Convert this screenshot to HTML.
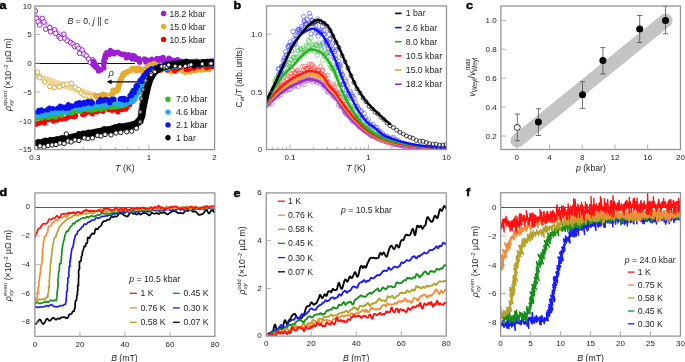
<!DOCTYPE html>
<html><head><meta charset="utf-8"><style>
html,body{margin:0;padding:0;background:#fff;width:685px;height:362px;overflow:hidden}
svg{display:block;will-change:transform}
text{font-family:"Liberation Sans",sans-serif}
</style></head><body>
<svg width="685" height="362" viewBox="0 0 685 362">
<defs></defs>
<rect width="685" height="362" fill="#fff"/>
<text transform="translate(-0.6,8.9) scale(1.1,1)" font-size="11.4" font-weight="bold" fill="#000" stroke="#000" stroke-width="0.45">a</text>
<text transform="translate(233.5,9.4) scale(1.1,1)" font-size="11.4" font-weight="bold" fill="#000" stroke="#000" stroke-width="0.45">b</text>
<text transform="translate(466,8.8) scale(1.1,1)" font-size="11.4" font-weight="bold" fill="#000" stroke="#000" stroke-width="0.45">c</text>
<text transform="translate(-0.4,196.2) scale(1.1,1)" font-size="11.4" font-weight="bold" fill="#000" stroke="#000" stroke-width="0.45">d</text>
<text transform="translate(233.5,196.5) scale(1.1,1)" font-size="11.4" font-weight="bold" fill="#000" stroke="#000" stroke-width="0.45">e</text>
<text transform="translate(466,196) scale(1.1,1)" font-size="11.4" font-weight="bold" fill="#000" stroke="#000" stroke-width="0.45">f</text>
<g>
<clipPath id="ca"><rect x="34.9" y="5.95" width="179.7" height="143.55"/></clipPath>
<line x1="34.9" y1="63.5" x2="135" y2="63.5" stroke="#111" stroke-width="1"/>
<g clip-path="url(#ca)">
<polyline points="34.5,14 35,14.4 35.5,14.9 36,15.3 36.5,15.8 37,16.2 37.5,16.7 38,17.1 38.5,17.5 39,18 39.5,18.4 40,18.8 40.5,19.3 41,19.7 41.5,20.1 42,20.5 42.5,21 43,21.4 43.5,21.8 44,22.2 44.5,22.6 45,23 45.5,23.4 46,23.9 46.5,24.3 47,24.7 47.5,25.1 48,25.4 48.5,25.8 49,26.2 49.5,26.6 50,27 50.5,27.4 51,27.8 51.5,28.1 52,28.5 52.5,28.9 53,29.2 53.5,29.6 54,29.9 54.5,30.3 55,30.6 55.5,30.9 56,31.3 56.5,31.6 57,32 57.5,32.3 58,32.6 58.5,32.9 59,33.3 59.5,33.6 60,33.9 60.5,34.3 61,34.6 61.5,34.9 62,35.3 62.5,35.6 63,35.9 63.5,36.3 64,36.6 64.5,37 65,37.3 65.5,37.7 66,38 66.5,38.4 67,38.7 67.5,39.1 68,39.5 68.5,39.8 69,40.2 69.5,40.6 70,41 70.5,41.4 71,41.8 71.5,42.2 72,42.6 72.5,43 73,43.4 73.5,43.8 74,44.3 74.5,44.7 75,45.1 75.5,45.5 76,45.9 76.5,46.4 77,46.8 77.5,47.2 78,47.7 78.5,48.1 79,48.6 79.5,49 80,49.5 80.5,49.9 81,50.4 81.5,50.8 82,51.3 82.5,51.7 83,52.2 83.5,52.7 84,53.1 84.5,53.6 85,54.1 85.5,54.6 86,55 86.5,55.5 87,56 87.5,56.5 88,57 88.5,57.5 89,58 89.5,58.5 90,59 90.5,59.5 91,60 91.5,60.5 92,61 92.5,61.5 93,62" fill="none" stroke="#c98fe6" stroke-width="4.5" stroke-linejoin="round" stroke-linecap="round" opacity="0.6" />
<polyline points="35,75 35.5,75.2 36,75.4 36.5,75.6 37,75.7 37.5,75.9 38,76.1 38.5,76.3 39,76.5 39.5,76.7 40,76.8 40.5,77 41,77.2 41.5,77.4 42,77.6 42.5,77.8 43,77.9 43.5,78.1 44,78.3 44.5,78.5 45,78.7 45.5,78.9 46,79 46.5,79.2 47,79.4 47.5,79.6 48,79.8 48.5,79.9 49,80.1 49.5,80.3 50,80.5 50.5,80.7 51,80.8 51.5,81 52,81.2 52.5,81.4 53,81.5 53.5,81.7 54,81.9 54.5,82.1 55,82.3 55.5,82.4 56,82.6 56.5,82.8 57,83 57.5,83.1 58,83.3 58.5,83.5 59,83.7 59.5,83.8 60,84 60.5,84.2 61,84.3 61.5,84.5 62,84.7 62.5,84.9 63,85 63.5,85.2 64,85.4 64.5,85.6 65,85.7 65.5,85.9 66,86.1 66.5,86.2 67,86.4 67.5,86.6 68,86.7 68.5,86.9 69,87.1 69.5,87.3 70,87.4 70.5,87.6 71,87.8 71.5,87.9 72,88.1 72.5,88.3 73,88.4 73.5,88.6 74,88.8 74.5,88.9 75,89.1 75.5,89.3 76,89.4 76.5,89.6 77,89.8 77.5,89.9 78,90.1 78.5,90.3 79,90.4 79.5,90.6 80,90.8 80.5,90.9 81,91.1 81.5,91.3 82,91.4 82.5,91.6 83,91.7 83.5,91.9 84,92.1 84.5,92.2 85,92.4 85.5,92.6 86,92.7 86.5,92.9 87,93 87.5,93.2 88,93.4 88.5,93.5 89,93.7 89.5,93.8 90,94" fill="none" stroke="#f2d190" stroke-width="6" stroke-linejoin="round" stroke-linecap="round" opacity="0.9" />
<polyline points="34.5,146 35,145.9 35.5,145.8 36,145.7 36.5,145.6 37,145.5 37.5,145.5 38,145.4 38.5,145.3 39,145.2 39.5,145.1 40,145 40.5,144.9 41,144.8 41.5,144.7 42,144.6 42.5,144.5 43,144.5 43.5,144.4 44,144.3 44.5,144.2 45,144.1 45.5,144 46,143.9 46.5,143.8 47,143.7 47.5,143.6 48,143.5 48.5,143.5 49,143.4 49.5,143.3 50,143.2 50.5,143.1 51,143 51.5,142.9 52,142.8 52.5,142.7 53,142.6 53.5,142.5 54,142.4 54.5,142.4 55,142.3 55.5,142.2 56,142.1 56.5,142 57,141.9 57.5,141.8 58,141.7 58.5,141.6 59,141.5 59.5,141.4 60,141.3 60.5,141.3 61,141.2 61.5,141.1 62,141 62.5,140.9 63,140.8 63.5,140.7 64,140.6 64.5,140.5 65,140.4 65.5,140.3 66,140.2 66.5,140.1 67,140.1 67.5,140 68,139.9 68.5,139.8 69,139.7 69.5,139.6 70,139.5 70.5,139.4 71,139.3 71.5,139.2 72,139.1 72.5,139 73,138.9 73.5,138.9 74,138.8 74.5,138.7 75,138.6 75.5,138.5 76,138.4 76.5,138.3 77,138.2 77.5,138.1 78,138 78.5,137.9 79,137.8 79.5,137.7 80,137.7 80.5,137.6 81,137.5 81.5,137.4 82,137.3 82.5,137.2 83,137.1 83.5,137 84,136.9 84.5,136.8 85,136.7 85.5,136.6 86,136.6 86.5,136.5 87,136.4 87.5,136.3 88,136.2 88.5,136.1 89,136 89.5,135.9 90,135.8 90.5,135.7 91,135.6 91.5,135.5 92,135.4 92.5,135.4 93,135.3 93.5,135.2 94,135.1 94.5,135 95,134.9 95.5,134.8 96,134.7 96.5,134.6 97,134.5 97.5,134.4 98,134.3 98.5,134.2 99,134.1 99.5,134 100,133.9 100.5,133.8 101,133.7 101.5,133.7 102,133.6 102.5,133.5 103,133.4 103.5,133.3 104,133.2 104.5,133.1 105,133 105.5,132.9 106,132.8 106.5,132.7 107,132.6 107.5,132.5 108,132.4 108.5,132.3 109,132.2 109.5,132.1 110,132 110.5,131.9 111,131.8 111.5,131.7 112,131.6 112.5,131.5 113,131.4 113.5,131.3 114,131.2 114.5,131.1 115,131 115.5,130.9 116,130.8 116.5,130.7 117,130.6 117.5,130.5 118,130.4 118.5,130.3 119,130.2 119.5,130.1 120,130 120.5,129.9 121,129.8 121.5,129.7 122,129.6 122.5,129.4 123,129.3 123.5,129.2 124,129.1 124.5,129 125,128.9 125.5,128.8 126,128.7 126.5,128.6 127,128.5 127.5,128.4 128,128.3 128.5,128.2 129,128.1 129.5,128 130,127.9 130.5,127.8 131,127.6 131.5,127.5 132,127.4 132.5,127.3 133,127.2 133.5,127.1 134,127" fill="none" stroke="#555" stroke-width="5" stroke-linejoin="round" stroke-linecap="round" opacity="0.9" />
<polyline points="137,126 139,116 140.5,105 142,96 144,88" fill="none" stroke="#777" stroke-width="3" stroke-linejoin="round" stroke-linecap="round" opacity="0.9" />
<circle cx="35.3" cy="11" r="2.3" fill="#fff" stroke="#9b1fd0" stroke-width="1.0"/>
<circle cx="36.5" cy="18.4" r="2.3" fill="#fff" stroke="#9b1fd0" stroke-width="1.0"/>
<circle cx="38.1" cy="21.8" r="2.3" fill="#fff" stroke="#9b1fd0" stroke-width="1.0"/>
<circle cx="42.3" cy="18.4" r="2.3" fill="#fff" stroke="#9b1fd0" stroke-width="1.0"/>
<circle cx="44" cy="22" r="2.3" fill="#fff" stroke="#9b1fd0" stroke-width="1.0"/>
<circle cx="39.8" cy="25" r="2.3" fill="#fff" stroke="#9b1fd0" stroke-width="1.0"/>
<circle cx="45.6" cy="29.2" r="2.3" fill="#fff" stroke="#9b1fd0" stroke-width="1.0"/>
<circle cx="49.8" cy="27.6" r="2.3" fill="#fff" stroke="#9b1fd0" stroke-width="1.0"/>
<circle cx="50.6" cy="31.7" r="2.3" fill="#fff" stroke="#9b1fd0" stroke-width="1.0"/>
<circle cx="54.7" cy="30" r="2.3" fill="#fff" stroke="#9b1fd0" stroke-width="1.0"/>
<circle cx="55.6" cy="33.4" r="2.3" fill="#fff" stroke="#9b1fd0" stroke-width="1.0"/>
<circle cx="58.9" cy="36.7" r="2.3" fill="#fff" stroke="#9b1fd0" stroke-width="1.0"/>
<circle cx="60.5" cy="38.3" r="2.3" fill="#fff" stroke="#9b1fd0" stroke-width="1.0"/>
<circle cx="63.9" cy="34.2" r="2.3" fill="#fff" stroke="#9b1fd0" stroke-width="1.0"/>
<circle cx="64.7" cy="38.3" r="2.3" fill="#fff" stroke="#9b1fd0" stroke-width="1.0"/>
<circle cx="67.2" cy="40.8" r="2.3" fill="#fff" stroke="#9b1fd0" stroke-width="1.0"/>
<circle cx="70.5" cy="42.5" r="2.3" fill="#fff" stroke="#9b1fd0" stroke-width="1.0"/>
<circle cx="73" cy="44.1" r="2.3" fill="#fff" stroke="#9b1fd0" stroke-width="1.0"/>
<circle cx="74.6" cy="46.6" r="2.3" fill="#fff" stroke="#9b1fd0" stroke-width="1.0"/>
<circle cx="77.1" cy="45.8" r="2.3" fill="#fff" stroke="#9b1fd0" stroke-width="1.0"/>
<circle cx="78.8" cy="48.3" r="2.3" fill="#fff" stroke="#9b1fd0" stroke-width="1.0"/>
<circle cx="82.1" cy="50" r="2.3" fill="#fff" stroke="#9b1fd0" stroke-width="1.0"/>
<circle cx="79.6" cy="53.3" r="2.3" fill="#fff" stroke="#9b1fd0" stroke-width="1.0"/>
<circle cx="83.8" cy="54.1" r="2.3" fill="#fff" stroke="#9b1fd0" stroke-width="1.0"/>
<circle cx="86.2" cy="55.8" r="2.3" fill="#fff" stroke="#9b1fd0" stroke-width="1.0"/>
<circle cx="88.7" cy="59.1" r="2.3" fill="#fff" stroke="#9b1fd0" stroke-width="1.0"/>
<circle cx="92.9" cy="59.9" r="2.3" fill="#fff" stroke="#9b1fd0" stroke-width="1.0"/>
<circle cx="90.4" cy="62.4" r="2.3" fill="#fff" stroke="#9b1fd0" stroke-width="1.0"/>
<circle cx="37.6" cy="72.2" r="2.3" fill="#fff" stroke="#e5aa30" stroke-width="1.0"/>
<circle cx="39.5" cy="77.6" r="2.3" fill="#fff" stroke="#e5aa30" stroke-width="1.0"/>
<circle cx="44.7" cy="82" r="2.3" fill="#fff" stroke="#e5aa30" stroke-width="1.0"/>
<circle cx="49.8" cy="86.4" r="2.3" fill="#fff" stroke="#e5aa30" stroke-width="1.0"/>
<circle cx="54.3" cy="87.6" r="2.3" fill="#fff" stroke="#e5aa30" stroke-width="1.0"/>
<circle cx="59.5" cy="86.8" r="2.3" fill="#fff" stroke="#e5aa30" stroke-width="1.0"/>
<circle cx="63.3" cy="85" r="2.3" fill="#fff" stroke="#e5aa30" stroke-width="1.0"/>
<circle cx="67.1" cy="84" r="2.3" fill="#fff" stroke="#e5aa30" stroke-width="1.0"/>
<circle cx="71.5" cy="83.3" r="2.3" fill="#fff" stroke="#e5aa30" stroke-width="1.0"/>
<circle cx="75.5" cy="87.5" r="2.3" fill="#fff" stroke="#e5aa30" stroke-width="1.0"/>
<circle cx="78.4" cy="89.3" r="2.3" fill="#fff" stroke="#e5aa30" stroke-width="1.0"/>
<circle cx="81" cy="93" r="2.3" fill="#fff" stroke="#e5aa30" stroke-width="1.0"/>
<circle cx="84" cy="95.2" r="2.3" fill="#fff" stroke="#e5aa30" stroke-width="1.0"/>
<circle cx="87" cy="96" r="2.3" fill="#fff" stroke="#e5aa30" stroke-width="1.0"/>
<circle cx="90" cy="96.3" r="2.3" fill="#fff" stroke="#e5aa30" stroke-width="1.0"/>
<circle cx="93" cy="96" r="2.3" fill="#fff" stroke="#e5aa30" stroke-width="1.0"/>
<path d="M94.1 62.1h0M93.1 61.3h0M93.2 62.6h0M92.9 64.5h0M93.4 63.3h0M95.7 64.8h0M94.7 65.5h0M94.8 66.5h0M95.9 64.7h0M97.1 67h0M96.7 67.9h0M98.4 70.9h0M101 69h0M100.9 70.1h0M104 68h0M103.7 64.6h0M103.9 63.5h0M103.6 63.3h0M104.4 62.4h0M103.9 61.1h0M104.1 62.8h0M103.6 64.2h0M103.7 60.7h0M105.7 58.1h0M104.6 57h0M105.6 57h0M105.4 55.1h0M105.3 54.5h0M105.4 57h0M106.7 52.5h0M106.1 54.8h0M107 54.3h0M107.3 52.8h0M109.8 52.8h0M109.5 54.5h0M110.4 51.8h0M110.3 51.3h0M110.4 50.4h0M113.6 52.1h0M114.1 54h0M114.4 53.6h0M117.7 52.2h0M117.9 52.3h0M118.3 52.8h0M121 54.2h0M120.3 53.7h0M123.8 54.5h0M122.7 54.7h0M124.2 54.1h0M125.3 54.8h0M126.3 55.4h0M127.1 55.1h0M127.7 56.2h0M126.4 58h0M126.6 56.7h0M128.5 56.3h0M128.5 54.6h0M131.1 57.8h0M132.7 55.3h0M131.3 55.9h0M132 58.9h0M134.5 59h0M134.6 58h0M134.7 56.2h0M136.3 58.1h0M136.3 57.9h0M136 59.5h0M139.6 62.2h0M139.4 59.8h0M139 58.6h0M144.3 58.9h0M145 60.5h0M145.7 60.4h0M145.2 59.3h0M145.8 60.8h0M145.7 59.3h0M145.9 62.1h0M146.7 62h0M146.6 62.1h0M147.3 60.2h0M147.5 61.5h0M148.9 60.7h0M149.3 60.5h0M151.6 60.6h0M151.6 59.4h0M151.8 59.2h0M153.2 61.7h0M153.8 60.5h0M155.1 60.9h0M155.6 61.7h0M157 58.3h0M156.8 59.4h0M158.8 60.4h0M159 60.6h0M158.8 59.5h0M161 61.1h0M160.7 60.1h0M160.4 58.4h0M162.1 58.7h0M163.3 60.8h0M163.7 60.3h0M163.2 57.4h0M163.6 61.3h0M167.1 60.2h0M167.1 61.1h0M168.4 59h0M169 59.2h0M169 58.2h0M170.5 62.8h0M171.5 59.8h0M174.7 62.8h0M175.1 60.4h0M178.2 61.9h0M177.6 59.7h0M179.9 61.6h0M178.7 63.3h0M181 61h0M182.5 64.1h0M184.1 63.4h0M186 61.7h0M186.4 62.4h0M186.5 62.4h0M187.9 62.9h0M188.3 62.4h0M186.7 62h0M189.1 62.6h0M190.1 61.8h0M192.3 61.5h0M191.9 62.9h0M195.8 64.1h0M196.1 61.2h0M197 63h0M196.5 62.2h0M196.6 61.8h0M197.8 64h0M196.9 62.4h0M197.5 64.8h0M198.4 62.1h0M200.5 63.5h0M201.1 62.7h0M201.8 62.1h0M202.8 63.7h0M203.2 62.8h0M204 63.7h0M204.5 62.9h0M206.2 61.7h0M206.8 62.9h0M208 63.1h0M207.6 64.2h0M209.4 61.9h0M209.1 63h0M210.6 60.9h0M212.2 63.8h0M212.8 61.7h0M213.4 60.8h0" stroke="#9b1fd0" stroke-width="5.2" stroke-linecap="round" fill="none"/>
<path d="M95.1 95h0M96 95.5h0M97.4 97.8h0M98.9 95.6h0M99.5 95.4h0M99.3 96h0M101.6 95.9h0M102.9 94.1h0M102.1 94.8h0M104 95.7h0M105 95h0M105.6 94.8h0M110.8 94.6h0M112.8 91.7h0M112.9 92.2h0M113 91.6h0M113.4 93.3h0M113.2 90h0M113.6 91.2h0M116.2 90.2h0M116.9 91.1h0M116.2 90.9h0M117 90.7h0M117.9 87h0M118.4 89h0M117.8 88h0M118.5 87.7h0M118.1 87.4h0M118.5 85.8h0M118.7 84.3h0M119.2 85.6h0M119.8 83.2h0M120 80h0M120.3 80.8h0M121.3 79.5h0M120.9 80.5h0M120.6 78.8h0M122.1 76.5h0M122 76.8h0M122.5 75.6h0M122.4 74.8h0M123.5 75.6h0M123.2 74.2h0M123.8 73h0M123.9 74.3h0M124.1 73.4h0M125.3 73.1h0M125.1 72.7h0M125.9 73.1h0M126.2 72.2h0M127.3 72.3h0M127.9 71.5h0M128.6 71.1h0M130.3 70.7h0M132.1 68.3h0M132.4 69.5h0M133.5 69.3h0M134.1 69.7h0M135.7 68.2h0M136.6 71h0M137.1 69.6h0M139.2 68.6h0M138.8 68.2h0M138.5 69.5h0M139 69.6h0M139.4 69.1h0M139.9 69.9h0M140.4 69.3h0M141 70.4h0M142.5 69.3h0M142.2 69.9h0M142.4 70.8h0M144 72.3h0M144.2 69.1h0M145.7 68.8h0M146.1 68.4h0M145.8 69.7h0M147.2 67h0M147 67.5h0M148.5 67.5h0M148 66.6h0M149.4 64.8h0M151 64.6h0M153.9 63.4h0M155.9 64.3h0M156.4 65.6h0M157.9 66.5h0M158.4 66.3h0M160 65h0M161.4 66.9h0M161.9 68.4h0M162.8 68.3h0M164.1 68h0M163.5 67.4h0M164.8 69.1h0M166.3 68.1h0M166.3 67.7h0M166.9 68.1h0M168.1 70.4h0M170.1 69.5h0M170.2 70.4h0M169.8 68.9h0M170.2 70.3h0M170.2 69.1h0M171.5 69.5h0M171.4 71.9h0M172 70.4h0M172.5 69.3h0M173.2 69.8h0M174.2 70.3h0M175.6 71.1h0M177 69.7h0M178.4 68.6h0M180.6 70h0M181.4 70.3h0M182.2 70.5h0M183.8 71.6h0M183.4 70.7h0M184.1 71.1h0M184.7 69.4h0M183.9 71.2h0M185 72.3h0M186.2 71.2h0M187 70.7h0M189.6 70.6h0M190 72.1h0M190.4 69.6h0M191.5 70.4h0M191.1 70.9h0M194.6 70.9h0M194.7 69.8h0M195.6 70.4h0M196.5 69.8h0M198.7 69.8h0M198.9 69.5h0M198.8 68.5h0M200.1 69.5h0M201.6 70.2h0M203.9 68.1h0M204.6 68.6h0M204.5 69.4h0M204.4 67.7h0M207.9 68.2h0M207.9 67h0M208 68.9h0M209 69.7h0M209.2 69.4h0M212.5 66.2h0M213.8 66.7h0" stroke="#e5aa30" stroke-width="5.2" stroke-linecap="round" fill="none"/>
<line x1="110" y1="81.8" x2="141.5" y2="81.8" stroke="#000" stroke-width="1.3"/>
<path d="M106.6,81.8 L111.6,79.4 L111.6,84.2 Z" fill="#000"/>
<path d="M35.9 124.5h0M37.5 123.4h0M36.9 123.2h0M37.1 122.6h0M38.5 123.6h0M40.6 122.5h0M43.3 122.6h0M44.6 123.2h0M44.4 121.6h0M45.3 120.2h0M44.6 120.8h0M48.4 119.7h0M51.1 119.2h0M53.2 121.2h0M54.2 120.1h0M54.1 118.5h0M55.2 120h0M57.2 120.3h0M59.5 118.4h0M58.8 118.1h0M59.1 118.3h0M60.7 118.6h0M60.5 118.8h0M62.1 119.3h0M61.2 119.1h0M63.7 118.7h0M65.9 118.4h0M68.2 117.3h0M68.9 115.2h0M69.4 116.4h0M71.3 116.3h0M73 115.5h0M72.6 116.4h0M73.7 115.2h0M73.8 114.6h0M74.8 116.7h0M75.7 115.8h0M75.8 115.2h0M82.4 114.6h0M84.3 114.5h0M84.9 113.7h0M84.8 111.1h0M87 112.5h0M90.4 112.2h0M89.6 111.6h0M90.9 112.6h0M92.3 113.4h0M91.6 111.9h0M91.5 111.3h0M92.4 114h0M93.2 111.6h0M95 110.7h0M96.4 111.8h0M97.3 111.9h0M99.9 110.5h0M103.1 111.5h0M108.4 109.7h0M109.4 109.2h0M110.8 110h0M111.9 110.5h0M113.5 109.2h0M114.8 109.9h0M116.4 109.4h0M117.8 112h0M117.9 108.8h0M118.7 110.6h0M118.8 109.3h0M119.3 109.2h0M119.7 109.8h0M122.3 109.8h0M125.7 109.2h0M125.6 108.2h0M125.8 107.3h0M126.2 106.9h0M126.9 107.5h0M126.6 107.4h0M129.9 104.7h0M130 102.2h0M129.4 102.6h0M130.1 103h0M129.6 101.7h0M130.6 100h0M131.1 100.3h0M131.4 99.1h0M130.6 101.7h0M131.3 98.6h0M132.7 100h0M132.2 99.1h0M134 97.1h0M134.6 96.3h0M135.4 95h0M134.9 94.9h0M136.7 91.9h0M137 91.7h0M138.6 89.1h0M138.4 89h0M138.7 89.8h0M140.3 85.4h0M141.1 85.5h0M143.8 81.4h0M144 82.2h0M145.1 82.7h0M144.4 81h0M146 80.1h0M148.1 75.3h0M148.9 77.2h0M149.7 75.1h0M149.7 75.5h0M150.1 74.6h0M153.8 69h0M156.5 69.2h0M158.3 69.6h0M158.1 70.8h0M157.8 69.6h0M158.1 69.6h0M160.3 67.7h0M160.8 70.3h0M167.3 70.2h0M170 68.6h0M173.7 68.3h0M174.4 67h0M175.9 69.3h0M174.6 70.9h0M175.6 69.1h0M176.6 69.6h0M177.6 69h0M180.7 67.6h0M186.2 69.7h0M187 67.4h0M188 68.3h0M187.2 68.8h0M188.8 69.3h0M189.3 68.9h0M189.6 68.8h0M192.2 67.7h0M193.4 67.1h0M194 68.2h0M194.9 67.3h0M196 66.7h0M199.2 66.1h0M199.8 66.7h0M202.6 65h0M203.8 65.2h0M204.3 64.9h0M206.2 66.3h0M205.5 66.5h0M206.6 67.9h0M207.8 64.5h0M208.9 65.1h0M209.4 66.4h0M211.7 65.1h0M212.2 65h0M212.8 66.8h0" stroke="#ff0000" stroke-width="5.0" stroke-linecap="round" fill="none"/>
<path d="M34.5 119.3h0M37.3 118.9h0M41.7 118.3h0M42.3 118.1h0M47.8 117.7h0M48.6 116.1h0M47.7 116.4h0M49.5 117.2h0M49.8 116.9h0M50.9 116.3h0M51.8 115.9h0M52.5 115.6h0M54.4 116h0M54.7 117.1h0M54.1 115h0M55.9 117.3h0M55.7 116.6h0M61.6 114.3h0M61.4 115.4h0M63 113.1h0M65.1 112.5h0M65.8 112.8h0M69 112.8h0M71.3 112.6h0M72.5 112.4h0M70.4 112.9h0M71.8 110.9h0M71.6 113.2h0M71.6 111.5h0M73.1 112h0M72 112.2h0M73 111.5h0M77.6 110.5h0M79 110.4h0M79.9 111.2h0M80.2 111.7h0M80 111.6h0M81.4 110.2h0M82.5 109.9h0M85 109.5h0M87.9 110.1h0M89.8 107.7h0M91.7 110.4h0M91.4 108.7h0M92.6 108.4h0M93.6 109.2h0M94.3 109.8h0M95.5 109.2h0M95.6 109.6h0M97.8 108.5h0M100.6 109.3h0M100.5 109.3h0M101.2 108.1h0M101.2 109.4h0M102.2 108.1h0M102.7 108h0M104.1 107h0M104.3 107.5h0M106 108.2h0M106.6 106.3h0M110.9 107.5h0M111 107.2h0M113.9 106.9h0M113.3 104.6h0M113.6 106.5h0M116.7 106.9h0M117.3 105.6h0M118.5 106.2h0M120.7 103.6h0M120.5 106.3h0M121.3 105.1h0M122.1 106.1h0M123.3 103.4h0M125 105.3h0M124.7 104.3h0M125.3 105.1h0M126 103.2h0M127.4 101.6h0M128.3 102.7h0M129.5 99.4h0M129.2 98.9h0M129.6 97.4h0M130.3 96.3h0M130.2 98.1h0M130.3 97.1h0M132.4 91.8h0M132.4 90.8h0M131.6 93.3h0M134.6 90.6h0M139.5 83.8h0M143.1 79.5h0M143.7 76.4h0M144.9 76.4h0M146.1 74h0M146.3 73.9h0M145.8 76h0M147.3 73.8h0M147.5 75.5h0M148.2 73.3h0M150.7 71.3h0M149.9 72.6h0M150.5 73.2h0M151.3 72h0M151.3 70.1h0M151.6 71.4h0M152.1 72.1h0M153.3 70h0M153.5 69h0M154.4 70.5h0M157.4 68.6h0M157.8 67.4h0M158.6 67.9h0M159.4 67.4h0M160.5 68.2h0M163.2 67.5h0M163.7 68.4h0M164.2 68h0M165.4 65.6h0M166.2 67.3h0M169.6 67.4h0M170.8 66.7h0M173.3 66.8h0M174 65.3h0M173.6 65h0M174.2 66.6h0M175 64.8h0M174.7 63.7h0M177.8 66.2h0M179.5 64.5h0M180.1 64.7h0M182.4 63.5h0M184.1 63.4h0M184.3 63.5h0M184.7 64.2h0M185.9 64.8h0M186.9 62.2h0M187.1 65h0M198.6 62.4h0M198.9 62.5h0M202.4 63.9h0M202.9 63.2h0M204.1 61.8h0M204.3 64.8h0M206.7 62.3h0M207.3 63.3h0M207.5 63.3h0M210.2 64.3h0M211.6 62.6h0M212 63.9h0M212 62.3h0M211.2 64h0M213.1 62.3h0" stroke="#33b82a" stroke-width="5.0" stroke-linecap="round" fill="none"/>
<path d="M35.3 115.6h0M38.8 115.6h0M39.8 116h0M41 115.8h0M41.3 115.3h0M43.9 115.5h0M46.7 113.5h0M46.6 114.2h0M51.4 111.7h0M51.2 113.8h0M55 112.5h0M56.4 111.9h0M57.9 112.9h0M58.9 112.3h0M59.6 109.1h0M63.1 111h0M62.7 109.6h0M66 111.3h0M66.5 112.4h0M69.6 109.3h0M69.3 109.8h0M76.8 107.9h0M79.4 108.1h0M79.9 108.3h0M81.1 108.7h0M82.9 106.4h0M82.9 108.7h0M82.9 106.3h0M84.5 107.1h0M84.5 107.8h0M86.7 107.2h0M87.1 105.6h0M88.3 105.8h0M89.9 105.6h0M89 106h0M90.9 106.9h0M92.2 104.5h0M92.1 106h0M93.2 106h0M93.9 105.9h0M95.5 105.6h0M99 105.9h0M98.7 105h0M99.9 105.2h0M103.5 104.4h0M104.5 105.4h0M105.5 101.9h0M108.4 104.7h0M109.6 103.3h0M108.8 103.2h0M109.8 102.6h0M110.6 101.8h0M114.5 103.2h0M117.2 102.9h0M117.4 103.9h0M119.7 102.2h0M121.9 104.8h0M121.7 103.7h0M124.4 103.3h0M125.5 102.8h0M126.7 102.7h0M127.2 102.3h0M126.7 102.8h0M128.8 102.8h0M129.6 101.8h0M131 99.9h0M131.3 100.8h0M131.7 100h0M131.4 100.6h0M133.2 101.6h0M135.3 98.9h0M135.2 96.9h0M135.2 95.6h0M136.4 95.1h0M136 94.8h0M135.7 96.2h0M137.2 94.6h0M138.3 92.5h0M138.1 91.8h0M139.5 92h0M139.6 91.2h0M139.5 88.7h0M140.1 88.5h0M140.7 86.2h0M141.8 85.8h0M142.6 83.7h0M142.5 83h0M142.9 82.1h0M146.3 77.9h0M146.3 79h0M146.4 80.7h0M146.7 76.7h0M146.9 78.2h0M148.4 75.9h0M148 74.2h0M153.8 70.7h0M153.7 70h0M154.4 69.4h0M155.1 71.2h0M157.4 66.9h0M162.4 67.9h0M163.7 67.8h0M163 66.9h0M163.8 67.4h0M164.5 68h0M164.7 67.2h0M164.8 67.4h0M165.5 67.7h0M165.9 65h0M167.5 68h0M167.7 68.7h0M168.2 67.4h0M168.9 67.3h0M169.2 65.1h0M171.8 66.1h0M171 65.4h0M172.7 65.5h0M174.5 66.6h0M174.4 64.9h0M177 65.2h0M179 63.4h0M179.7 65h0M178.6 65.2h0M179.2 64.4h0M180.3 64.4h0M180 66.7h0M181.5 63.8h0M184.4 63.5h0M185 63.7h0M187.7 65.2h0M189.8 66h0M189.8 64.3h0M189.3 63.3h0M191.3 63.5h0M193.5 64.7h0M194.5 62.9h0M193.6 65h0M193.7 65h0M195.5 63.7h0M196.9 64.1h0M196.6 64.2h0M197.8 64.9h0M197.6 62.5h0M197.4 64.5h0M198.9 63.1h0M203 62.5h0M202.8 63.3h0M207 62.9h0M206.8 62.2h0M209.6 61.6h0M210.4 62.2h0M212.3 64.3h0" stroke="#1ea8f5" stroke-width="5.0" stroke-linecap="round" fill="none"/>
<path d="M37.4 111.9h0M38.3 111.5h0M38.8 112.1h0M38.9 110.2h0M40.1 111.3h0M40.8 110.8h0M41.5 109.8h0M42.9 110.7h0M46.9 109.9h0M47.3 109.4h0M48 110h0M49.3 108.1h0M52.9 108.6h0M57.4 108.3h0M58.6 107.8h0M60.7 108.3h0M60.7 106.3h0M60.3 106h0M63.9 107h0M64.4 107.2h0M65.3 108.4h0M66.2 107h0M68 105.3h0M67.2 106.7h0M68.4 105.2h0M68.3 104.6h0M68.7 108.2h0M69.9 106h0M71.6 105.8h0M71.6 105.7h0M72.7 106.6h0M75.8 104.6h0M76.9 105.3h0M76.7 103.2h0M79.4 102.4h0M80.3 104.9h0M80.6 104.8h0M82.9 103.6h0M82.1 103.3h0M83.7 103h0M84.2 102.2h0M84.9 104.1h0M84.8 103.3h0M86.1 103.1h0M85.8 102.9h0M85.9 103.5h0M86.2 103h0M86.5 103.2h0M87.8 101.2h0M90 102.5h0M91.5 103.8h0M91.4 101.4h0M91.3 101.7h0M92.5 102.5h0M98.1 101.9h0M99.9 101.4h0M100.6 99.3h0M103.1 101h0M105.2 99.3h0M107.5 99.4h0M107.7 100.6h0M107 99.8h0M110 100.8h0M109.7 102.9h0M109.3 100.7h0M110.9 100.6h0M112.2 99.1h0M114.3 99.3h0M113.9 98.9h0M113.7 99.4h0M120.2 98.8h0M120 99.1h0M121.8 99.5h0M120.6 98.8h0M122.6 98.3h0M124.3 98.3h0M124.5 99.9h0M125.4 99.5h0M124.6 100.3h0M127.1 99.7h0M130.3 95.9h0M129.9 95.5h0M132 92.7h0M131.5 95.7h0M134.4 92.8h0M133.9 91h0M133.8 89.9h0M136.1 88.5h0M135.9 86.4h0M136.7 85.3h0M137.6 86.1h0M137.3 85.2h0M139.8 80.6h0M141.7 81.7h0M141.9 78.2h0M142.9 78h0M143.4 77.2h0M143.7 75.3h0M145.6 74.1h0M146.2 72.6h0M147.1 74.2h0M147.5 71.8h0M148.4 73.8h0M148.4 70.5h0M150.1 71.3h0M150.6 69.5h0M151.5 68.6h0M153 69.7h0M154.6 69.4h0M155.8 67.6h0M155.8 69.7h0M156.1 67.8h0M156.3 68.4h0M157.3 68.5h0M157 68.6h0M159.3 66h0M159.7 68.8h0M159.7 67.7h0M164.8 65.4h0M165.3 64.6h0M166.8 63.4h0M167.8 63.7h0M167.3 65.4h0M167.6 64.5h0M168.5 63.7h0M170 64h0M170.9 65.8h0M171.1 64.1h0M172.1 63.9h0M172.7 65.6h0M172.5 64.7h0M174 64.3h0M174.5 63.6h0M176.3 62.7h0M176.7 63h0M176.6 63.6h0M180.2 63.7h0M180.3 64.2h0M180.8 64.3h0M182 64h0M181.7 64h0M182.8 62.8h0M182.7 61.7h0M185.4 63.2h0M185.4 62.8h0M187.1 63h0M188.7 63.2h0M189.5 62.4h0M188.7 62.5h0M189.7 63.4h0M189.2 63.5h0M190.4 62.8h0M191.3 63.8h0M192.9 63.1h0M192.2 62.4h0M193.2 63.4h0M193.8 65h0M193.9 62.7h0M194.5 64.3h0M197.6 64.4h0M197.6 64.5h0M197.8 62.4h0M199.1 65h0M198 63.3h0M199.9 62.9h0M200.1 62.9h0M201.3 63.7h0M200.8 63.2h0M201.3 63h0M201.7 64.3h0M204.8 62.4h0M205.4 62.1h0M207.1 63.7h0M210.8 63.6h0M211 64h0M211.5 62h0M213.1 64h0" stroke="#0a10f0" stroke-width="5.0" stroke-linecap="round" fill="none"/>
<polyline points="34.5,144 35,143.9 35.5,143.8 36,143.7 36.5,143.6 37,143.5 37.5,143.5 38,143.4 38.5,143.3 39,143.2 39.5,143.1 40,143 40.5,142.9 41,142.8 41.5,142.7 42,142.6 42.5,142.6 43,142.5 43.5,142.4 44,142.3 44.5,142.2 45,142.1 45.5,142 46,141.9 46.5,141.8 47,141.7 47.5,141.7 48,141.6 48.5,141.5 49,141.4 49.5,141.3 50,141.2 50.5,141.1 51,141 51.5,140.9 52,140.8 52.5,140.8 53,140.7 53.5,140.6 54,140.5 54.5,140.4 55,140.3 55.5,140.2 56,140.1 56.5,140 57,140 57.5,139.9 58,139.8 58.5,139.7 59,139.6 59.5,139.5 60,139.4 60.5,139.3 61,139.3 61.5,139.2 62,139.1 62.5,139 63,138.9 63.5,138.8 64,138.7 64.5,138.6 65,138.5 65.5,138.4 66,138.4 66.5,138.3 67,138.2 67.5,138.1 68,138 68.5,137.9 69,137.8 69.5,137.7 70,137.6 70.5,137.5 71,137.4 71.5,137.3 72,137.2 72.5,137.1 73,137 73.5,136.9 74,136.8 74.5,136.7 75,136.6 75.5,136.5 76,136.4 76.5,136.3 77,136.2 77.5,136 78,135.9 78.5,135.8 79,135.7 79.5,135.6 80,135.5 80.5,135.4 81,135.3 81.5,135.2 82,135.1 82.5,134.9 83,134.8 83.5,134.7 84,134.6 84.5,134.5 85,134.4 85.5,134.3 86,134.2 86.5,134.1 87,134 87.5,133.8 88,133.7 88.5,133.6 89,133.5 89.5,133.4 90,133.3 90.5,133.2 91,133.1 91.5,133 92,132.9 92.5,132.8 93,132.7 93.5,132.6 94,132.5 94.5,132.4 95,132.3 95.5,132.2 96,132.1 96.5,132 97,131.9 97.5,131.8 98,131.8 98.5,131.7 99,131.6 99.5,131.5 100,131.4 100.5,131.3 101,131.2 101.5,131.1 102,131 102.5,131 103,130.9 103.5,130.8 104,130.7 104.5,130.6 105,130.5 105.5,130.4 106,130.3 106.5,130.2 107,130.2 107.5,130.1 108,130 108.5,129.9 109,129.8 109.5,129.7 110,129.6 110.5,129.5 111,129.4 111.5,129.3 112,129.2 112.5,129.1 113,129 113.5,128.9 114,128.8 114.5,128.7 115,128.6 115.5,128.5 116,128.4 116.5,128.3 117,128.2 117.5,128.1 118,128 118.5,127.9 119,127.8 119.5,127.7 120,127.6 120.5,127.5 121,127.4 121.5,127.3 122,127.2 122.5,127.1 123,127 123.5,126.9 124,126.9 124.5,126.8 125,126.7 125.5,126.6 126,126.5 126.5,126.4 127,126.3 127.5,126.2 128,126.1 128.5,126 129,125.8 129.5,125.7 130,125.6 130.5,125.5 131,125.3 131.5,125.2 132,125 132.5,124.9 133,124.7 133.5,124.5 134,124.4 134.5,124.2 135,124" fill="none" stroke="#000" stroke-width="7" stroke-linejoin="round" stroke-linecap="round" opacity="1.0" />
<polyline points="135,124.5 139,122 141.6,117 143.6,105 145.6,96 147.6,87 149.6,80 152.5,74.5 155.5,71 160,68 166.9,65.8 180,63.6 214,62.8" fill="none" stroke="#000" stroke-width="7" stroke-linejoin="round" stroke-linecap="round" opacity="1.0" />
<path d="M36 143h0M36.1 142.7h0M36 143.9h0M36.5 142.8h0M37.1 142.1h0M37.4 144.9h0M38.2 141.4h0M39 142.3h0M43.2 142.6h0M43.9 140.6h0M44 141.5h0M43.1 142h0M43.7 144h0M44.8 140.6h0M45.1 141.3h0M45.5 142h0M45.2 141.4h0M45.6 140.1h0M46.5 141.6h0M47.1 141.3h0M47.1 141.6h0M48.1 142.2h0M48.7 141.9h0M50.7 141.2h0M50.3 141h0M50.2 139.5h0M50.6 140.4h0M52.1 140.3h0M53.7 139.6h0M54.1 140.1h0M56.4 138.9h0M55.3 141.2h0M57 141.8h0M56.7 139.1h0M57.7 139.8h0M56.7 139.1h0M58.4 140.5h0M58.6 139.6h0M59.2 139.3h0M60.4 138.7h0M60.2 139h0M61.5 137.8h0M64.7 138.9h0M66 137.3h0M70.8 137.7h0M71 137.3h0M70.8 138.2h0M71.5 136.8h0M73.8 137.4h0M75.5 135.4h0M77.3 136.6h0M78 135.6h0M78.1 135.9h0M78.6 135.7h0M78.9 136.5h0M78.7 133.6h0M80.9 135.5h0M82.9 133.6h0M82 136.2h0M82.6 132.9h0M83.5 133.6h0M84.3 132.9h0M85.8 136h0M86.4 133h0M86.4 134.3h0M87 133.5h0M88.4 132h0M89.1 133.2h0M90.5 134.2h0M92.5 132.9h0M94.3 133.8h0M93.4 132.4h0M94.1 132.7h0M94.8 132.3h0M94.5 132.9h0M94.7 134.3h0M95.8 132.6h0M98.3 132.1h0M98.7 131.2h0M99.1 130.9h0M101.2 132.8h0M101.8 130.2h0M101.4 130.3h0M101.5 131.1h0M101.8 130.7h0M103.3 132.9h0M104.3 128.4h0M104.3 131h0M105.8 131.1h0M107.9 128.8h0M108.6 129h0M109.5 129.9h0M110.8 131.1h0M111.4 128.3h0M113.7 127.3h0M113.2 129.8h0M114.2 130.3h0M114.5 128.4h0M115.3 126.4h0M114.5 130h0M115.6 128.2h0M116.2 129.4h0M116.2 128.2h0M117.5 127.7h0M118.4 127.5h0M118 129.3h0M119.9 129.2h0M119.1 125.5h0M120.7 126.4h0M120.9 129.1h0M121.1 126.8h0M121.7 125.8h0M121.8 127.1h0M123 126.9h0M122.8 126.8h0M124.4 126.1h0M125 126h0M125.9 125.5h0M126.6 126.2h0M126.3 125.1h0M127.8 125.4h0M127.9 125.4h0M128.8 126.9h0M129.1 125.7h0M129.3 125.2h0M129.1 125.8h0M129.6 125.5h0M130.1 126.1h0M130.7 125.4h0M130.3 126.6h0M131.8 125.9h0M133.8 124.3h0M133.4 123.6h0M134.4 124.6h0M135 124h0M135.7 122.9h0M138.3 120.9h0M137.7 120.5h0M138.3 122.4h0M140 122.1h0M141.1 121.4h0M139.6 119.1h0M141 120.8h0M140.8 119.1h0M141 119.4h0M141.3 118.8h0M141.4 116.6h0M142.8 114.9h0M142.5 112.2h0M142.5 112.5h0M143 111.1h0M142.9 112.7h0M142.8 111.6h0M142.8 112.4h0M143.6 111.1h0M143 109.7h0M142.8 109.9h0M142.6 108.3h0M142.9 109.2h0M142.7 107.5h0M143.3 106.2h0M143.5 106.5h0M142.4 105.9h0M143.5 105.5h0M143.8 106.6h0M144 105.1h0M144 100.5h0M145.2 100.3h0M144.2 98.1h0M144.2 99.2h0M144.5 98h0M145.1 96h0M145.6 98.3h0M145.8 98.3h0M145.5 96h0M145.1 95.2h0M145.4 94.5h0M145.5 95.4h0M145.8 93h0M145.6 91.7h0M146.8 92.8h0M147.1 90.5h0M146.7 90.9h0M147.1 89.9h0M146.5 88.5h0M146.4 88.8h0M147.6 86.2h0M148.6 84.4h0M149.3 82.7h0M148.8 83h0M149.7 82.4h0M149.1 79.3h0M150.1 79.8h0M149.7 78.7h0M149.4 81.1h0M150.1 80.3h0M149.9 79.1h0M150.2 76.7h0M150 76.3h0M151.2 76.9h0M151.1 76.8h0M151.8 74.7h0M152 75.1h0M153 75.4h0M152.7 74.2h0M152.8 72.5h0M154.1 71.1h0M154.7 72.3h0M154.2 72.7h0M153.9 71.4h0M154.7 71.1h0M155.5 70.6h0M156.2 71.1h0M157.9 69.7h0M156.6 69.7h0M160 67.2h0M160.6 67h0M163.4 67.1h0M163 65.9h0M164 65.4h0M165.5 65.7h0M165.3 67.2h0M166 66.1h0M167.2 67.1h0M168.8 65.1h0M171 64.6h0M173.1 63.1h0M173.1 63.8h0M172.5 65.8h0M173.1 64.7h0M173.3 65h0M176.1 64.6h0M175.5 63.9h0M176.1 63.6h0M175.9 63.9h0M176.8 64.2h0M177.5 64h0M177.5 64h0M180.2 63.6h0M183.1 62.5h0M183.1 63h0M183.6 62.3h0M185 64.3h0M186.4 61.1h0M186.7 62.9h0M187.1 65.6h0M188.7 62.8h0M189.9 62h0M190.6 63.1h0M191.7 64.4h0M190.3 62.9h0M191.7 63.7h0M192.4 63.1h0M192.5 62.7h0M194.1 66.1h0M194.1 63.1h0M195.8 62.4h0M195.2 62.5h0M196.7 63.3h0M197.3 63.3h0M198.8 63.7h0M199.1 63.1h0M203.1 61.4h0M203.6 63.4h0M203.7 62.5h0M205 62.6h0M207.4 61.3h0M207.7 62.2h0M208.3 62.1h0M209.4 62.8h0M209.9 61.4h0M211.3 62.9h0M212.2 62.9h0M212.8 61.7h0M212.1 62.2h0M214 61.9h0" stroke="#000" stroke-width="5.0" stroke-linecap="round" fill="none"/>
<circle cx="36" cy="147.5" r="2.2" fill="#fff" stroke="#000" stroke-width="0.9"/>
<circle cx="40" cy="146" r="2.2" fill="#fff" stroke="#000" stroke-width="0.9"/>
<circle cx="44" cy="147" r="2.2" fill="#fff" stroke="#000" stroke-width="0.9"/>
<circle cx="48" cy="145.5" r="2.2" fill="#fff" stroke="#000" stroke-width="0.9"/>
<circle cx="52.1" cy="145" r="2.2" fill="#fff" stroke="#000" stroke-width="0.9"/>
<circle cx="56" cy="144.5" r="2.2" fill="#fff" stroke="#000" stroke-width="0.9"/>
<circle cx="60" cy="143" r="2.2" fill="#fff" stroke="#000" stroke-width="0.9"/>
<circle cx="64" cy="143.5" r="2.2" fill="#fff" stroke="#000" stroke-width="0.9"/>
<circle cx="66.3" cy="134" r="2.2" fill="#fff" stroke="#000" stroke-width="0.9"/>
<circle cx="68" cy="141" r="2.2" fill="#fff" stroke="#000" stroke-width="0.9"/>
<circle cx="71.2" cy="141.9" r="2.2" fill="#fff" stroke="#000" stroke-width="0.9"/>
<circle cx="75" cy="140" r="2.2" fill="#fff" stroke="#000" stroke-width="0.9"/>
<circle cx="79" cy="140.5" r="2.2" fill="#fff" stroke="#000" stroke-width="0.9"/>
<circle cx="84.4" cy="137.9" r="2.2" fill="#fff" stroke="#000" stroke-width="0.9"/>
<circle cx="88" cy="138.5" r="2.2" fill="#fff" stroke="#000" stroke-width="0.9"/>
<circle cx="92.4" cy="137.9" r="2.2" fill="#fff" stroke="#000" stroke-width="0.9"/>
<circle cx="97.6" cy="135.5" r="2.2" fill="#fff" stroke="#000" stroke-width="0.9"/>
<circle cx="101" cy="136" r="2.2" fill="#fff" stroke="#000" stroke-width="0.9"/>
<circle cx="105" cy="134.5" r="2.2" fill="#fff" stroke="#000" stroke-width="0.9"/>
<circle cx="111" cy="134.9" r="2.2" fill="#fff" stroke="#000" stroke-width="0.9"/>
<circle cx="116" cy="133" r="2.2" fill="#fff" stroke="#000" stroke-width="0.9"/>
<circle cx="120.7" cy="132.5" r="2.2" fill="#fff" stroke="#000" stroke-width="0.9"/>
<circle cx="126.8" cy="131.8" r="2.2" fill="#fff" stroke="#000" stroke-width="0.9"/>
<circle cx="131.7" cy="131.2" r="2.2" fill="#fff" stroke="#000" stroke-width="0.9"/>
<circle cx="136.5" cy="128.2" r="2.2" fill="#fff" stroke="#000" stroke-width="0.9"/>
<circle cx="140.2" cy="121.9" r="1.9" fill="#999" stroke="#222" stroke-width="0.8"/>
<circle cx="140.2" cy="112" r="1.9" fill="#999" stroke="#222" stroke-width="0.8"/>
<circle cx="141.1" cy="98.6" r="1.9" fill="#999" stroke="#222" stroke-width="0.8"/>
<circle cx="143" cy="89.6" r="1.9" fill="#999" stroke="#222" stroke-width="0.8"/>
<circle cx="145.6" cy="80.6" r="1.9" fill="#999" stroke="#222" stroke-width="0.8"/>
<circle cx="151.2" cy="72.8" r="1.9" fill="#fff" stroke="#000" stroke-width="0.8"/>
<circle cx="151.1" cy="74.6" r="1.9" fill="#fff" stroke="#000" stroke-width="0.8"/>
<circle cx="152.5" cy="72.3" r="1.9" fill="#fff" stroke="#000" stroke-width="0.8"/>
<circle cx="153.1" cy="70.8" r="1.9" fill="#fff" stroke="#000" stroke-width="0.8"/>
<circle cx="154.1" cy="71.8" r="1.9" fill="#fff" stroke="#000" stroke-width="0.8"/>
<circle cx="154.8" cy="71.8" r="1.9" fill="#fff" stroke="#000" stroke-width="0.8"/>
<circle cx="161.7" cy="66.4" r="1.9" fill="#fff" stroke="#000" stroke-width="0.8"/>
<circle cx="164.7" cy="67.7" r="1.9" fill="#fff" stroke="#000" stroke-width="0.8"/>
<circle cx="165" cy="66.3" r="1.9" fill="#fff" stroke="#000" stroke-width="0.8"/>
<circle cx="167" cy="67.1" r="1.9" fill="#fff" stroke="#000" stroke-width="0.8"/>
<circle cx="168.8" cy="65.8" r="1.9" fill="#fff" stroke="#000" stroke-width="0.8"/>
<circle cx="168.6" cy="64.9" r="1.9" fill="#fff" stroke="#000" stroke-width="0.8"/>
<circle cx="174.6" cy="65.9" r="1.9" fill="#fff" stroke="#000" stroke-width="0.8"/>
<circle cx="175.2" cy="66.1" r="1.9" fill="#fff" stroke="#000" stroke-width="0.8"/>
<circle cx="180" cy="66.7" r="1.9" fill="#fff" stroke="#000" stroke-width="0.8"/>
<circle cx="185.3" cy="66.2" r="1.9" fill="#fff" stroke="#000" stroke-width="0.8"/>
<circle cx="189.2" cy="65.4" r="1.9" fill="#fff" stroke="#000" stroke-width="0.8"/>
<circle cx="191" cy="64.7" r="1.9" fill="#fff" stroke="#000" stroke-width="0.8"/>
<circle cx="202.2" cy="64" r="1.9" fill="#fff" stroke="#000" stroke-width="0.8"/>
<circle cx="210" cy="63.9" r="1.9" fill="#fff" stroke="#000" stroke-width="0.8"/>
<circle cx="211.1" cy="63.5" r="1.9" fill="#fff" stroke="#000" stroke-width="0.8"/>
</g>
<rect x="34.9" y="6" width="179.7" height="143.6" fill="none" stroke="#959595" stroke-width="1.3"/>
<line x1="34.9" y1="5.8" x2="34.9" y2="5.8" stroke="#a0a0a0" stroke-width="0.8"/>
<text x="31.7" y="8.6" font-size="8.0" text-anchor="end" fill="#1e1e1e">10</text>
<line x1="34.9" y1="34.5" x2="39.9" y2="34.5" stroke="#a0a0a0" stroke-width="0.8"/>
<text x="31.7" y="37.4" font-size="8.0" text-anchor="end" fill="#1e1e1e">5</text>
<line x1="34.9" y1="63.2" x2="39.9" y2="63.2" stroke="#a0a0a0" stroke-width="0.8"/>
<text x="31.7" y="66" font-size="8.0" text-anchor="end" fill="#1e1e1e">0</text>
<line x1="34.9" y1="91.9" x2="39.9" y2="91.9" stroke="#a0a0a0" stroke-width="0.8"/>
<text x="31.7" y="94.8" font-size="8.0" text-anchor="end" fill="#1e1e1e"><tspan font-size="6.4">&#8722;</tspan>5</text>
<line x1="34.9" y1="120.6" x2="39.9" y2="120.6" stroke="#a0a0a0" stroke-width="0.8"/>
<text x="31.7" y="123.5" font-size="8.0" text-anchor="end" fill="#1e1e1e"><tspan font-size="6.4">&#8722;</tspan>10</text>
<line x1="34.9" y1="149.3" x2="34.9" y2="149.3" stroke="#a0a0a0" stroke-width="0.8"/>
<text x="31.7" y="152.2" font-size="8.0" text-anchor="end" fill="#1e1e1e"><tspan font-size="6.4">&#8722;</tspan>15</text>
<line x1="62.1" y1="149.5" x2="62.1" y2="147" stroke="#a0a0a0" stroke-width="0.8"/>
<line x1="83.3" y1="149.5" x2="83.3" y2="147" stroke="#a0a0a0" stroke-width="0.8"/>
<line x1="100.6" y1="149.5" x2="100.6" y2="147" stroke="#a0a0a0" stroke-width="0.8"/>
<line x1="115.2" y1="149.5" x2="115.2" y2="147" stroke="#a0a0a0" stroke-width="0.8"/>
<line x1="127.8" y1="149.5" x2="127.8" y2="147" stroke="#a0a0a0" stroke-width="0.8"/>
<line x1="139" y1="149.5" x2="139" y2="147" stroke="#a0a0a0" stroke-width="0.8"/>
<line x1="148.9" y1="149.5" x2="148.9" y2="144.5" stroke="#a0a0a0" stroke-width="0.8"/>
<text x="148.9" y="159.8" font-size="8.0" text-anchor="middle" fill="#1e1e1e">1</text>
<text x="34.9" y="159.8" font-size="8.0" text-anchor="middle" font-weight="normal" fill="#1e1e1e" >0.3</text>
<text x="214.6" y="159.8" font-size="8.0" text-anchor="middle" font-weight="normal" fill="#1e1e1e" >2</text>
<text x="125" y="170.5" font-size="8.7" text-anchor="middle" font-weight="normal" fill="#1e1e1e" ><tspan font-style="italic">T</tspan> (K)</text>
<text transform="translate(11.2,74.5) rotate(-90)" font-size="8.7" text-anchor="middle" fill="#1e1e1e"><tspan font-style="italic">ρ</tspan><tspan font-size="6.2" dy="2.2" font-style="italic">xy</tspan><tspan font-size="6.2" dx="-6.2" dy="-6.4">spont</tspan><tspan dy="4.2"> (×10</tspan><tspan font-size="5.6" dy="-3">−2</tspan><tspan dy="3"> μΩ m)</tspan></text>
<text x="67.5" y="23.6" font-size="8.7" text-anchor="start" font-weight="normal" fill="#1e1e1e" ><tspan font-style="italic">B</tspan> = 0, <tspan font-style="italic">j</tspan> || c</text>
<text x="108.4" y="75.6" font-size="9.299999999999999" text-anchor="start" font-weight="normal" fill="#1e1e1e" ><tspan font-style="italic">ρ</tspan></text>
<circle cx="163.6" cy="13.5" r="2.7" fill="#9b1fd0" stroke="none" stroke-width="0.7"/>
<text x="169.4" y="16.5" font-size="8.7" text-anchor="start" font-weight="normal" fill="#1e1e1e" >18.2 kbar</text>
<circle cx="163.6" cy="26.5" r="2.7" fill="#e5aa30" stroke="none" stroke-width="0.7"/>
<text x="169.4" y="29.5" font-size="8.7" text-anchor="start" font-weight="normal" fill="#1e1e1e" >15.0 kbar</text>
<circle cx="163.6" cy="39.5" r="2.7" fill="#ff0000" stroke="none" stroke-width="0.7"/>
<text x="169.4" y="42.5" font-size="8.7" text-anchor="start" font-weight="normal" fill="#1e1e1e" >10.5 kbar</text>
<circle cx="168" cy="99.3" r="2.7" fill="#33b82a" stroke="none" stroke-width="0.7"/>
<text x="176" y="102.3" font-size="8.7" text-anchor="start" font-weight="normal" fill="#1e1e1e" >7.0 kbar</text>
<circle cx="168" cy="112.1" r="2.7" fill="#1ea8f5" stroke="none" stroke-width="0.7"/>
<text x="176" y="115.1" font-size="8.7" text-anchor="start" font-weight="normal" fill="#1e1e1e" >4.6 kbar</text>
<circle cx="168" cy="124.9" r="2.7" fill="#0a10f0" stroke="none" stroke-width="0.7"/>
<text x="176" y="127.9" font-size="8.7" text-anchor="start" font-weight="normal" fill="#1e1e1e" >2.1 kbar</text>
<circle cx="168" cy="137.7" r="2.7" fill="#000" stroke="none" stroke-width="0.7"/>
<text x="176" y="140.7" font-size="8.7" text-anchor="start" font-weight="normal" fill="#1e1e1e" >1 bar</text>
</g>
<clipPath id="cb"><rect x="266.5" y="5.9" width="180.0" height="143.6"/></clipPath>
<g clip-path="url(#cb)">
<path d="M265.4 105.4a2.2 2.2 0 1 0 4.4 0a2.2 2.2 0 1 0 -4.4 0M266.7 103.6a2.2 2.2 0 1 0 4.4 0a2.2 2.2 0 1 0 -4.4 0M267.2 100.3a2.2 2.2 0 1 0 4.4 0a2.2 2.2 0 1 0 -4.4 0M268 102.4a2.2 2.2 0 1 0 4.4 0a2.2 2.2 0 1 0 -4.4 0M269 99.3a2.2 2.2 0 1 0 4.4 0a2.2 2.2 0 1 0 -4.4 0M269.9 103.9a2.2 2.2 0 1 0 4.4 0a2.2 2.2 0 1 0 -4.4 0M270.5 99.1a2.2 2.2 0 1 0 4.4 0a2.2 2.2 0 1 0 -4.4 0M271.6 98.7a2.2 2.2 0 1 0 4.4 0a2.2 2.2 0 1 0 -4.4 0M272.6 95.7a2.2 2.2 0 1 0 4.4 0a2.2 2.2 0 1 0 -4.4 0M272.7 96.6a2.2 2.2 0 1 0 4.4 0a2.2 2.2 0 1 0 -4.4 0M273.6 94.5a2.2 2.2 0 1 0 4.4 0a2.2 2.2 0 1 0 -4.4 0M274.7 97.3a2.2 2.2 0 1 0 4.4 0a2.2 2.2 0 1 0 -4.4 0M275.3 94.7a2.2 2.2 0 1 0 4.4 0a2.2 2.2 0 1 0 -4.4 0M276.1 95.5a2.2 2.2 0 1 0 4.4 0a2.2 2.2 0 1 0 -4.4 0M277 92.6a2.2 2.2 0 1 0 4.4 0a2.2 2.2 0 1 0 -4.4 0M278 92.1a2.2 2.2 0 1 0 4.4 0a2.2 2.2 0 1 0 -4.4 0M278.9 94.5a2.2 2.2 0 1 0 4.4 0a2.2 2.2 0 1 0 -4.4 0M279.8 89.9a2.2 2.2 0 1 0 4.4 0a2.2 2.2 0 1 0 -4.4 0M280.5 87.9a2.2 2.2 0 1 0 4.4 0a2.2 2.2 0 1 0 -4.4 0M280.9 91.5a2.2 2.2 0 1 0 4.4 0a2.2 2.2 0 1 0 -4.4 0M282.1 87.8a2.2 2.2 0 1 0 4.4 0a2.2 2.2 0 1 0 -4.4 0M282.8 88.6a2.2 2.2 0 1 0 4.4 0a2.2 2.2 0 1 0 -4.4 0M283.1 90.9a2.2 2.2 0 1 0 4.4 0a2.2 2.2 0 1 0 -4.4 0M284.6 86.7a2.2 2.2 0 1 0 4.4 0a2.2 2.2 0 1 0 -4.4 0M284.8 89.8a2.2 2.2 0 1 0 4.4 0a2.2 2.2 0 1 0 -4.4 0M285.9 86.1a2.2 2.2 0 1 0 4.4 0a2.2 2.2 0 1 0 -4.4 0M286.8 89.8a2.2 2.2 0 1 0 4.4 0a2.2 2.2 0 1 0 -4.4 0M287.7 88.9a2.2 2.2 0 1 0 4.4 0a2.2 2.2 0 1 0 -4.4 0M288.3 85.1a2.2 2.2 0 1 0 4.4 0a2.2 2.2 0 1 0 -4.4 0M289.4 85a2.2 2.2 0 1 0 4.4 0a2.2 2.2 0 1 0 -4.4 0M289.4 83.8a2.2 2.2 0 1 0 4.4 0a2.2 2.2 0 1 0 -4.4 0M290.2 85.4a2.2 2.2 0 1 0 4.4 0a2.2 2.2 0 1 0 -4.4 0M291.2 86.8a2.2 2.2 0 1 0 4.4 0a2.2 2.2 0 1 0 -4.4 0M292.3 81.1a2.2 2.2 0 1 0 4.4 0a2.2 2.2 0 1 0 -4.4 0M292.9 85.6a2.2 2.2 0 1 0 4.4 0a2.2 2.2 0 1 0 -4.4 0M293.5 80.8a2.2 2.2 0 1 0 4.4 0a2.2 2.2 0 1 0 -4.4 0M294.4 81.3a2.2 2.2 0 1 0 4.4 0a2.2 2.2 0 1 0 -4.4 0M295.5 78.9a2.2 2.2 0 1 0 4.4 0a2.2 2.2 0 1 0 -4.4 0M296.1 86.6a2.2 2.2 0 1 0 4.4 0a2.2 2.2 0 1 0 -4.4 0M297.2 81.8a2.2 2.2 0 1 0 4.4 0a2.2 2.2 0 1 0 -4.4 0M297.8 82a2.2 2.2 0 1 0 4.4 0a2.2 2.2 0 1 0 -4.4 0M298.9 79.5a2.2 2.2 0 1 0 4.4 0a2.2 2.2 0 1 0 -4.4 0M299.6 82.9a2.2 2.2 0 1 0 4.4 0a2.2 2.2 0 1 0 -4.4 0M300.2 75.9a2.2 2.2 0 1 0 4.4 0a2.2 2.2 0 1 0 -4.4 0M300.9 80.1a2.2 2.2 0 1 0 4.4 0a2.2 2.2 0 1 0 -4.4 0M301.6 84.6a2.2 2.2 0 1 0 4.4 0a2.2 2.2 0 1 0 -4.4 0M302.4 78.7a2.2 2.2 0 1 0 4.4 0a2.2 2.2 0 1 0 -4.4 0M303.3 79.3a2.2 2.2 0 1 0 4.4 0a2.2 2.2 0 1 0 -4.4 0M304.1 80.5a2.2 2.2 0 1 0 4.4 0a2.2 2.2 0 1 0 -4.4 0M304.7 77.1a2.2 2.2 0 1 0 4.4 0a2.2 2.2 0 1 0 -4.4 0M305.8 78.7a2.2 2.2 0 1 0 4.4 0a2.2 2.2 0 1 0 -4.4 0M306.3 80.7a2.2 2.2 0 1 0 4.4 0a2.2 2.2 0 1 0 -4.4 0M307.7 78.9a2.2 2.2 0 1 0 4.4 0a2.2 2.2 0 1 0 -4.4 0M308.2 79.3a2.2 2.2 0 1 0 4.4 0a2.2 2.2 0 1 0 -4.4 0M308.7 77.8a2.2 2.2 0 1 0 4.4 0a2.2 2.2 0 1 0 -4.4 0M309.7 79.4a2.2 2.2 0 1 0 4.4 0a2.2 2.2 0 1 0 -4.4 0M310.4 78.9a2.2 2.2 0 1 0 4.4 0a2.2 2.2 0 1 0 -4.4 0M311.1 82.1a2.2 2.2 0 1 0 4.4 0a2.2 2.2 0 1 0 -4.4 0M312.2 80.8a2.2 2.2 0 1 0 4.4 0a2.2 2.2 0 1 0 -4.4 0M312.7 78.9a2.2 2.2 0 1 0 4.4 0a2.2 2.2 0 1 0 -4.4 0M313.5 74.5a2.2 2.2 0 1 0 4.4 0a2.2 2.2 0 1 0 -4.4 0M314.8 81.8a2.2 2.2 0 1 0 4.4 0a2.2 2.2 0 1 0 -4.4 0M315.3 82.1a2.2 2.2 0 1 0 4.4 0a2.2 2.2 0 1 0 -4.4 0M316.3 79a2.2 2.2 0 1 0 4.4 0a2.2 2.2 0 1 0 -4.4 0M317 77a2.2 2.2 0 1 0 4.4 0a2.2 2.2 0 1 0 -4.4 0M317.8 79.2a2.2 2.2 0 1 0 4.4 0a2.2 2.2 0 1 0 -4.4 0M318.4 83.9a2.2 2.2 0 1 0 4.4 0a2.2 2.2 0 1 0 -4.4 0M319.3 80.4a2.2 2.2 0 1 0 4.4 0a2.2 2.2 0 1 0 -4.4 0M320.2 82.4a2.2 2.2 0 1 0 4.4 0a2.2 2.2 0 1 0 -4.4 0M320.9 84.5a2.2 2.2 0 1 0 4.4 0a2.2 2.2 0 1 0 -4.4 0M322.1 87.7a2.2 2.2 0 1 0 4.4 0a2.2 2.2 0 1 0 -4.4 0M322.4 85.6a2.2 2.2 0 1 0 4.4 0a2.2 2.2 0 1 0 -4.4 0M323.2 86.3a2.2 2.2 0 1 0 4.4 0a2.2 2.2 0 1 0 -4.4 0M324.1 86.5a2.2 2.2 0 1 0 4.4 0a2.2 2.2 0 1 0 -4.4 0M325.2 91.9a2.2 2.2 0 1 0 4.4 0a2.2 2.2 0 1 0 -4.4 0M326.1 91.8a2.2 2.2 0 1 0 4.4 0a2.2 2.2 0 1 0 -4.4 0M326.7 90.2a2.2 2.2 0 1 0 4.4 0a2.2 2.2 0 1 0 -4.4 0M327.3 88.5a2.2 2.2 0 1 0 4.4 0a2.2 2.2 0 1 0 -4.4 0M328.3 90.6a2.2 2.2 0 1 0 4.4 0a2.2 2.2 0 1 0 -4.4 0M329.3 93.9a2.2 2.2 0 1 0 4.4 0a2.2 2.2 0 1 0 -4.4 0M329.6 91.9a2.2 2.2 0 1 0 4.4 0a2.2 2.2 0 1 0 -4.4 0M330.7 95.7a2.2 2.2 0 1 0 4.4 0a2.2 2.2 0 1 0 -4.4 0M331.6 95.7a2.2 2.2 0 1 0 4.4 0a2.2 2.2 0 1 0 -4.4 0M332.1 96.1a2.2 2.2 0 1 0 4.4 0a2.2 2.2 0 1 0 -4.4 0M332.7 97.4a2.2 2.2 0 1 0 4.4 0a2.2 2.2 0 1 0 -4.4 0M333.9 98.6a2.2 2.2 0 1 0 4.4 0a2.2 2.2 0 1 0 -4.4 0M334.4 97.2a2.2 2.2 0 1 0 4.4 0a2.2 2.2 0 1 0 -4.4 0M335.3 99.5a2.2 2.2 0 1 0 4.4 0a2.2 2.2 0 1 0 -4.4 0M336.2 105a2.2 2.2 0 1 0 4.4 0a2.2 2.2 0 1 0 -4.4 0M337.4 101.7a2.2 2.2 0 1 0 4.4 0a2.2 2.2 0 1 0 -4.4 0M337.5 103a2.2 2.2 0 1 0 4.4 0a2.2 2.2 0 1 0 -4.4 0M338.3 106.3a2.2 2.2 0 1 0 4.4 0a2.2 2.2 0 1 0 -4.4 0M339.4 106.4a2.2 2.2 0 1 0 4.4 0a2.2 2.2 0 1 0 -4.4 0M340.6 107.1a2.2 2.2 0 1 0 4.4 0a2.2 2.2 0 1 0 -4.4 0M340.6 106.6a2.2 2.2 0 1 0 4.4 0a2.2 2.2 0 1 0 -4.4 0M341.9 110.6a2.2 2.2 0 1 0 4.4 0a2.2 2.2 0 1 0 -4.4 0M342.2 111.6a2.2 2.2 0 1 0 4.4 0a2.2 2.2 0 1 0 -4.4 0M343.4 113.6a2.2 2.2 0 1 0 4.4 0a2.2 2.2 0 1 0 -4.4 0M343.9 112.6a2.2 2.2 0 1 0 4.4 0a2.2 2.2 0 1 0 -4.4 0M345.1 115.2a2.2 2.2 0 1 0 4.4 0a2.2 2.2 0 1 0 -4.4 0M345.7 113.7a2.2 2.2 0 1 0 4.4 0a2.2 2.2 0 1 0 -4.4 0M346.7 116.2a2.2 2.2 0 1 0 4.4 0a2.2 2.2 0 1 0 -4.4 0M347.2 115.9a2.2 2.2 0 1 0 4.4 0a2.2 2.2 0 1 0 -4.4 0M347.9 117.5a2.2 2.2 0 1 0 4.4 0a2.2 2.2 0 1 0 -4.4 0M348.7 119a2.2 2.2 0 1 0 4.4 0a2.2 2.2 0 1 0 -4.4 0M349.6 120.3a2.2 2.2 0 1 0 4.4 0a2.2 2.2 0 1 0 -4.4 0M350.3 119.1a2.2 2.2 0 1 0 4.4 0a2.2 2.2 0 1 0 -4.4 0M351.2 122a2.2 2.2 0 1 0 4.4 0a2.2 2.2 0 1 0 -4.4 0M352.2 121.6a2.2 2.2 0 1 0 4.4 0a2.2 2.2 0 1 0 -4.4 0M353 121.8a2.2 2.2 0 1 0 4.4 0a2.2 2.2 0 1 0 -4.4 0M354.1 123.6a2.2 2.2 0 1 0 4.4 0a2.2 2.2 0 1 0 -4.4 0M354.6 123.1a2.2 2.2 0 1 0 4.4 0a2.2 2.2 0 1 0 -4.4 0M355.4 125a2.2 2.2 0 1 0 4.4 0a2.2 2.2 0 1 0 -4.4 0M356.4 126.1a2.2 2.2 0 1 0 4.4 0a2.2 2.2 0 1 0 -4.4 0M357.3 126.5a2.2 2.2 0 1 0 4.4 0a2.2 2.2 0 1 0 -4.4 0M357.9 127.5a2.2 2.2 0 1 0 4.4 0a2.2 2.2 0 1 0 -4.4 0M358.2 127.3a2.2 2.2 0 1 0 4.4 0a2.2 2.2 0 1 0 -4.4 0M359.4 128.5a2.2 2.2 0 1 0 4.4 0a2.2 2.2 0 1 0 -4.4 0M359.8 127.9a2.2 2.2 0 1 0 4.4 0a2.2 2.2 0 1 0 -4.4 0M361.1 129.9a2.2 2.2 0 1 0 4.4 0a2.2 2.2 0 1 0 -4.4 0M361.5 129.6a2.2 2.2 0 1 0 4.4 0a2.2 2.2 0 1 0 -4.4 0M362.6 130.8a2.2 2.2 0 1 0 4.4 0a2.2 2.2 0 1 0 -4.4 0M363.1 131.4a2.2 2.2 0 1 0 4.4 0a2.2 2.2 0 1 0 -4.4 0M364.5 132.5a2.2 2.2 0 1 0 4.4 0a2.2 2.2 0 1 0 -4.4 0M364.7 131.6a2.2 2.2 0 1 0 4.4 0a2.2 2.2 0 1 0 -4.4 0M365.9 132.5a2.2 2.2 0 1 0 4.4 0a2.2 2.2 0 1 0 -4.4 0M366.8 133.7a2.2 2.2 0 1 0 4.4 0a2.2 2.2 0 1 0 -4.4 0M367.2 134.3a2.2 2.2 0 1 0 4.4 0a2.2 2.2 0 1 0 -4.4 0M368.3 134.9a2.2 2.2 0 1 0 4.4 0a2.2 2.2 0 1 0 -4.4 0M368.9 135.4a2.2 2.2 0 1 0 4.4 0a2.2 2.2 0 1 0 -4.4 0M369.6 136a2.2 2.2 0 1 0 4.4 0a2.2 2.2 0 1 0 -4.4 0M370.4 136.1a2.2 2.2 0 1 0 4.4 0a2.2 2.2 0 1 0 -4.4 0M371 136.2a2.2 2.2 0 1 0 4.4 0a2.2 2.2 0 1 0 -4.4 0M372.3 136.5a2.2 2.2 0 1 0 4.4 0a2.2 2.2 0 1 0 -4.4 0M372.7 136.7a2.2 2.2 0 1 0 4.4 0a2.2 2.2 0 1 0 -4.4 0M373.6 137.3a2.2 2.2 0 1 0 4.4 0a2.2 2.2 0 1 0 -4.4 0M374.3 138a2.2 2.2 0 1 0 4.4 0a2.2 2.2 0 1 0 -4.4 0M375.6 138.6a2.2 2.2 0 1 0 4.4 0a2.2 2.2 0 1 0 -4.4 0M376.2 138.8a2.2 2.2 0 1 0 4.4 0a2.2 2.2 0 1 0 -4.4 0M377 139a2.2 2.2 0 1 0 4.4 0a2.2 2.2 0 1 0 -4.4 0M377.9 139.7a2.2 2.2 0 1 0 4.4 0a2.2 2.2 0 1 0 -4.4 0M378.8 139.9a2.2 2.2 0 1 0 4.4 0a2.2 2.2 0 1 0 -4.4 0M379.5 140.1a2.2 2.2 0 1 0 4.4 0a2.2 2.2 0 1 0 -4.4 0M380.2 140.4a2.2 2.2 0 1 0 4.4 0a2.2 2.2 0 1 0 -4.4 0M380.9 140.3a2.2 2.2 0 1 0 4.4 0a2.2 2.2 0 1 0 -4.4 0M381.8 140.4a2.2 2.2 0 1 0 4.4 0a2.2 2.2 0 1 0 -4.4 0M383 141.4a2.2 2.2 0 1 0 4.4 0a2.2 2.2 0 1 0 -4.4 0M383.5 141.5a2.2 2.2 0 1 0 4.4 0a2.2 2.2 0 1 0 -4.4 0M384.2 141.5a2.2 2.2 0 1 0 4.4 0a2.2 2.2 0 1 0 -4.4 0M385.3 141.7a2.2 2.2 0 1 0 4.4 0a2.2 2.2 0 1 0 -4.4 0M385.4 142.9a2.2 2.2 0 1 0 4.4 0a2.2 2.2 0 1 0 -4.4 0M386.3 141.9a2.2 2.2 0 1 0 4.4 0a2.2 2.2 0 1 0 -4.4 0M387.6 142.5a2.2 2.2 0 1 0 4.4 0a2.2 2.2 0 1 0 -4.4 0M388.6 142.9a2.2 2.2 0 1 0 4.4 0a2.2 2.2 0 1 0 -4.4 0M388.6 142.4a2.2 2.2 0 1 0 4.4 0a2.2 2.2 0 1 0 -4.4 0M389.4 143.1a2.2 2.2 0 1 0 4.4 0a2.2 2.2 0 1 0 -4.4 0M390.2 144a2.2 2.2 0 1 0 4.4 0a2.2 2.2 0 1 0 -4.4 0M391.5 143.9a2.2 2.2 0 1 0 4.4 0a2.2 2.2 0 1 0 -4.4 0M391.9 143.9a2.2 2.2 0 1 0 4.4 0a2.2 2.2 0 1 0 -4.4 0M393 144.2a2.2 2.2 0 1 0 4.4 0a2.2 2.2 0 1 0 -4.4 0M393.9 144.2a2.2 2.2 0 1 0 4.4 0a2.2 2.2 0 1 0 -4.4 0M394.2 144.6a2.2 2.2 0 1 0 4.4 0a2.2 2.2 0 1 0 -4.4 0M395.7 144.4a2.2 2.2 0 1 0 4.4 0a2.2 2.2 0 1 0 -4.4 0M396 144.3a2.2 2.2 0 1 0 4.4 0a2.2 2.2 0 1 0 -4.4 0M397 144.8a2.2 2.2 0 1 0 4.4 0a2.2 2.2 0 1 0 -4.4 0M397.7 145.2a2.2 2.2 0 1 0 4.4 0a2.2 2.2 0 1 0 -4.4 0M398.5 145.1a2.2 2.2 0 1 0 4.4 0a2.2 2.2 0 1 0 -4.4 0M399.3 145.4a2.2 2.2 0 1 0 4.4 0a2.2 2.2 0 1 0 -4.4 0M399.8 144.3a2.2 2.2 0 1 0 4.4 0a2.2 2.2 0 1 0 -4.4 0M400.9 145.9a2.2 2.2 0 1 0 4.4 0a2.2 2.2 0 1 0 -4.4 0M401.6 146.4a2.2 2.2 0 1 0 4.4 0a2.2 2.2 0 1 0 -4.4 0M402.5 146.2a2.2 2.2 0 1 0 4.4 0a2.2 2.2 0 1 0 -4.4 0M403.1 145.6a2.2 2.2 0 1 0 4.4 0a2.2 2.2 0 1 0 -4.4 0M404.1 145.5a2.2 2.2 0 1 0 4.4 0a2.2 2.2 0 1 0 -4.4 0M405.2 146.1a2.2 2.2 0 1 0 4.4 0a2.2 2.2 0 1 0 -4.4 0M406.2 145.7a2.2 2.2 0 1 0 4.4 0a2.2 2.2 0 1 0 -4.4 0M406.4 146.4a2.2 2.2 0 1 0 4.4 0a2.2 2.2 0 1 0 -4.4 0M407.7 146.1a2.2 2.2 0 1 0 4.4 0a2.2 2.2 0 1 0 -4.4 0M408.3 146.8a2.2 2.2 0 1 0 4.4 0a2.2 2.2 0 1 0 -4.4 0M408.7 147a2.2 2.2 0 1 0 4.4 0a2.2 2.2 0 1 0 -4.4 0M409.4 145.7a2.2 2.2 0 1 0 4.4 0a2.2 2.2 0 1 0 -4.4 0M410.9 146.8a2.2 2.2 0 1 0 4.4 0a2.2 2.2 0 1 0 -4.4 0M411.2 146.4a2.2 2.2 0 1 0 4.4 0a2.2 2.2 0 1 0 -4.4 0M411.9 146.2a2.2 2.2 0 1 0 4.4 0a2.2 2.2 0 1 0 -4.4 0M413.1 146.7a2.2 2.2 0 1 0 4.4 0a2.2 2.2 0 1 0 -4.4 0M414 146.9a2.2 2.2 0 1 0 4.4 0a2.2 2.2 0 1 0 -4.4 0M414.9 147.5a2.2 2.2 0 1 0 4.4 0a2.2 2.2 0 1 0 -4.4 0M415.4 146.5a2.2 2.2 0 1 0 4.4 0a2.2 2.2 0 1 0 -4.4 0M416 147.6a2.2 2.2 0 1 0 4.4 0a2.2 2.2 0 1 0 -4.4 0M416.9 148.1a2.2 2.2 0 1 0 4.4 0a2.2 2.2 0 1 0 -4.4 0M417.6 147.6a2.2 2.2 0 1 0 4.4 0a2.2 2.2 0 1 0 -4.4 0M418.7 147.7a2.2 2.2 0 1 0 4.4 0a2.2 2.2 0 1 0 -4.4 0M419.8 147.5a2.2 2.2 0 1 0 4.4 0a2.2 2.2 0 1 0 -4.4 0M419.9 147a2.2 2.2 0 1 0 4.4 0a2.2 2.2 0 1 0 -4.4 0M420.9 147.8a2.2 2.2 0 1 0 4.4 0a2.2 2.2 0 1 0 -4.4 0M421.7 147.8a2.2 2.2 0 1 0 4.4 0a2.2 2.2 0 1 0 -4.4 0M422.3 148a2.2 2.2 0 1 0 4.4 0a2.2 2.2 0 1 0 -4.4 0M423.5 148.9a2.2 2.2 0 1 0 4.4 0a2.2 2.2 0 1 0 -4.4 0M424.6 148.2a2.2 2.2 0 1 0 4.4 0a2.2 2.2 0 1 0 -4.4 0M424.8 148.1a2.2 2.2 0 1 0 4.4 0a2.2 2.2 0 1 0 -4.4 0M426 148.7a2.2 2.2 0 1 0 4.4 0a2.2 2.2 0 1 0 -4.4 0M426.9 147.5a2.2 2.2 0 1 0 4.4 0a2.2 2.2 0 1 0 -4.4 0M427.2 147.6a2.2 2.2 0 1 0 4.4 0a2.2 2.2 0 1 0 -4.4 0M428.5 148a2.2 2.2 0 1 0 4.4 0a2.2 2.2 0 1 0 -4.4 0M429.2 148a2.2 2.2 0 1 0 4.4 0a2.2 2.2 0 1 0 -4.4 0M429.9 148.6a2.2 2.2 0 1 0 4.4 0a2.2 2.2 0 1 0 -4.4 0M430.4 148.2a2.2 2.2 0 1 0 4.4 0a2.2 2.2 0 1 0 -4.4 0M431.2 149.1a2.2 2.2 0 1 0 4.4 0a2.2 2.2 0 1 0 -4.4 0M431.9 149a2.2 2.2 0 1 0 4.4 0a2.2 2.2 0 1 0 -4.4 0M433.3 148.8a2.2 2.2 0 1 0 4.4 0a2.2 2.2 0 1 0 -4.4 0M434 148.4a2.2 2.2 0 1 0 4.4 0a2.2 2.2 0 1 0 -4.4 0M434.3 148.8a2.2 2.2 0 1 0 4.4 0a2.2 2.2 0 1 0 -4.4 0M435.4 148.9a2.2 2.2 0 1 0 4.4 0a2.2 2.2 0 1 0 -4.4 0M436 148.2a2.2 2.2 0 1 0 4.4 0a2.2 2.2 0 1 0 -4.4 0M437.2 148.8a2.2 2.2 0 1 0 4.4 0a2.2 2.2 0 1 0 -4.4 0M437.9 149a2.2 2.2 0 1 0 4.4 0a2.2 2.2 0 1 0 -4.4 0M439 148.9a2.2 2.2 0 1 0 4.4 0a2.2 2.2 0 1 0 -4.4 0M439.6 149.5a2.2 2.2 0 1 0 4.4 0a2.2 2.2 0 1 0 -4.4 0M439.9 149.3a2.2 2.2 0 1 0 4.4 0a2.2 2.2 0 1 0 -4.4 0M440.9 148.5a2.2 2.2 0 1 0 4.4 0a2.2 2.2 0 1 0 -4.4 0M441.9 148.9a2.2 2.2 0 1 0 4.4 0a2.2 2.2 0 1 0 -4.4 0M442.9 148.6a2.2 2.2 0 1 0 4.4 0a2.2 2.2 0 1 0 -4.4 0M443.3 149.2a2.2 2.2 0 1 0 4.4 0a2.2 2.2 0 1 0 -4.4 0" stroke="#a848d8" stroke-width="0.55" fill="none"/>
<path d="M273.1 94.8a2.2 2.2 0 1 0 4.4 0a2.2 2.2 0 1 0 -4.4 0M273.7 95.4a2.2 2.2 0 1 0 4.4 0a2.2 2.2 0 1 0 -4.4 0M275.3 89.4a2.2 2.2 0 1 0 4.4 0a2.2 2.2 0 1 0 -4.4 0M276.4 88.9a2.2 2.2 0 1 0 4.4 0a2.2 2.2 0 1 0 -4.4 0M277.9 86.8a2.2 2.2 0 1 0 4.4 0a2.2 2.2 0 1 0 -4.4 0M279.1 87.7a2.2 2.2 0 1 0 4.4 0a2.2 2.2 0 1 0 -4.4 0M281.2 89.1a2.2 2.2 0 1 0 4.4 0a2.2 2.2 0 1 0 -4.4 0M281.3 88.3a2.2 2.2 0 1 0 4.4 0a2.2 2.2 0 1 0 -4.4 0M283.8 85.4a2.2 2.2 0 1 0 4.4 0a2.2 2.2 0 1 0 -4.4 0M283.9 85.6a2.2 2.2 0 1 0 4.4 0a2.2 2.2 0 1 0 -4.4 0M285.3 85.7a2.2 2.2 0 1 0 4.4 0a2.2 2.2 0 1 0 -4.4 0M286.7 82.9a2.2 2.2 0 1 0 4.4 0a2.2 2.2 0 1 0 -4.4 0M288.1 83.2a2.2 2.2 0 1 0 4.4 0a2.2 2.2 0 1 0 -4.4 0M290.2 81.4a2.2 2.2 0 1 0 4.4 0a2.2 2.2 0 1 0 -4.4 0M291.4 76.4a2.2 2.2 0 1 0 4.4 0a2.2 2.2 0 1 0 -4.4 0M292.9 78.9a2.2 2.2 0 1 0 4.4 0a2.2 2.2 0 1 0 -4.4 0M293.5 81.8a2.2 2.2 0 1 0 4.4 0a2.2 2.2 0 1 0 -4.4 0M294.3 78.2a2.2 2.2 0 1 0 4.4 0a2.2 2.2 0 1 0 -4.4 0M296.4 77.6a2.2 2.2 0 1 0 4.4 0a2.2 2.2 0 1 0 -4.4 0M298 76a2.2 2.2 0 1 0 4.4 0a2.2 2.2 0 1 0 -4.4 0M298.3 76.1a2.2 2.2 0 1 0 4.4 0a2.2 2.2 0 1 0 -4.4 0M300.5 78.2a2.2 2.2 0 1 0 4.4 0a2.2 2.2 0 1 0 -4.4 0M300.8 75.4a2.2 2.2 0 1 0 4.4 0a2.2 2.2 0 1 0 -4.4 0M303 73a2.2 2.2 0 1 0 4.4 0a2.2 2.2 0 1 0 -4.4 0M304 68.5a2.2 2.2 0 1 0 4.4 0a2.2 2.2 0 1 0 -4.4 0M305.8 73a2.2 2.2 0 1 0 4.4 0a2.2 2.2 0 1 0 -4.4 0M307.1 70.1a2.2 2.2 0 1 0 4.4 0a2.2 2.2 0 1 0 -4.4 0M307.3 70.4a2.2 2.2 0 1 0 4.4 0a2.2 2.2 0 1 0 -4.4 0M309.2 75.6a2.2 2.2 0 1 0 4.4 0a2.2 2.2 0 1 0 -4.4 0M310.2 75.5a2.2 2.2 0 1 0 4.4 0a2.2 2.2 0 1 0 -4.4 0M311.7 70.5a2.2 2.2 0 1 0 4.4 0a2.2 2.2 0 1 0 -4.4 0M312.5 76.1a2.2 2.2 0 1 0 4.4 0a2.2 2.2 0 1 0 -4.4 0M314.2 75.7a2.2 2.2 0 1 0 4.4 0a2.2 2.2 0 1 0 -4.4 0M315.6 73.6a2.2 2.2 0 1 0 4.4 0a2.2 2.2 0 1 0 -4.4 0M316.4 76.8a2.2 2.2 0 1 0 4.4 0a2.2 2.2 0 1 0 -4.4 0M318.3 73.3a2.2 2.2 0 1 0 4.4 0a2.2 2.2 0 1 0 -4.4 0M320.1 75.8a2.2 2.2 0 1 0 4.4 0a2.2 2.2 0 1 0 -4.4 0M320.3 75.6a2.2 2.2 0 1 0 4.4 0a2.2 2.2 0 1 0 -4.4 0M322.8 78.9a2.2 2.2 0 1 0 4.4 0a2.2 2.2 0 1 0 -4.4 0M323.5 83.6a2.2 2.2 0 1 0 4.4 0a2.2 2.2 0 1 0 -4.4 0M324.4 81.3a2.2 2.2 0 1 0 4.4 0a2.2 2.2 0 1 0 -4.4 0M326.7 85.4a2.2 2.2 0 1 0 4.4 0a2.2 2.2 0 1 0 -4.4 0M327.4 86.6a2.2 2.2 0 1 0 4.4 0a2.2 2.2 0 1 0 -4.4 0M328.6 89.9a2.2 2.2 0 1 0 4.4 0a2.2 2.2 0 1 0 -4.4 0M329.8 90.2a2.2 2.2 0 1 0 4.4 0a2.2 2.2 0 1 0 -4.4 0M331.8 94a2.2 2.2 0 1 0 4.4 0a2.2 2.2 0 1 0 -4.4 0M332.1 92a2.2 2.2 0 1 0 4.4 0a2.2 2.2 0 1 0 -4.4 0M333.5 93a2.2 2.2 0 1 0 4.4 0a2.2 2.2 0 1 0 -4.4 0M334.9 96.1a2.2 2.2 0 1 0 4.4 0a2.2 2.2 0 1 0 -4.4 0M335.9 98.3a2.2 2.2 0 1 0 4.4 0a2.2 2.2 0 1 0 -4.4 0M338.2 100.6a2.2 2.2 0 1 0 4.4 0a2.2 2.2 0 1 0 -4.4 0M339.1 103.4a2.2 2.2 0 1 0 4.4 0a2.2 2.2 0 1 0 -4.4 0M340.5 107.2a2.2 2.2 0 1 0 4.4 0a2.2 2.2 0 1 0 -4.4 0M342.2 106.7a2.2 2.2 0 1 0 4.4 0a2.2 2.2 0 1 0 -4.4 0M343 108.5a2.2 2.2 0 1 0 4.4 0a2.2 2.2 0 1 0 -4.4 0M344 111.3a2.2 2.2 0 1 0 4.4 0a2.2 2.2 0 1 0 -4.4 0M345.6 111.4a2.2 2.2 0 1 0 4.4 0a2.2 2.2 0 1 0 -4.4 0M346.9 112.8a2.2 2.2 0 1 0 4.4 0a2.2 2.2 0 1 0 -4.4 0M347.9 113.9a2.2 2.2 0 1 0 4.4 0a2.2 2.2 0 1 0 -4.4 0M349.2 116.7a2.2 2.2 0 1 0 4.4 0a2.2 2.2 0 1 0 -4.4 0M350.6 118.4a2.2 2.2 0 1 0 4.4 0a2.2 2.2 0 1 0 -4.4 0M352.4 119.9a2.2 2.2 0 1 0 4.4 0a2.2 2.2 0 1 0 -4.4 0M353 120.6a2.2 2.2 0 1 0 4.4 0a2.2 2.2 0 1 0 -4.4 0M355.3 123.9a2.2 2.2 0 1 0 4.4 0a2.2 2.2 0 1 0 -4.4 0M355.7 124a2.2 2.2 0 1 0 4.4 0a2.2 2.2 0 1 0 -4.4 0M357 123.8a2.2 2.2 0 1 0 4.4 0a2.2 2.2 0 1 0 -4.4 0M358.1 125.7a2.2 2.2 0 1 0 4.4 0a2.2 2.2 0 1 0 -4.4 0M359.8 127.3a2.2 2.2 0 1 0 4.4 0a2.2 2.2 0 1 0 -4.4 0M361 128.8a2.2 2.2 0 1 0 4.4 0a2.2 2.2 0 1 0 -4.4 0M362.7 129.7a2.2 2.2 0 1 0 4.4 0a2.2 2.2 0 1 0 -4.4 0M364.3 130.7a2.2 2.2 0 1 0 4.4 0a2.2 2.2 0 1 0 -4.4 0M364.8 131.1a2.2 2.2 0 1 0 4.4 0a2.2 2.2 0 1 0 -4.4 0M366.8 132a2.2 2.2 0 1 0 4.4 0a2.2 2.2 0 1 0 -4.4 0M367.5 133.2a2.2 2.2 0 1 0 4.4 0a2.2 2.2 0 1 0 -4.4 0M368.9 133.8a2.2 2.2 0 1 0 4.4 0a2.2 2.2 0 1 0 -4.4 0M369.8 134.8a2.2 2.2 0 1 0 4.4 0a2.2 2.2 0 1 0 -4.4 0M372.1 135.6a2.2 2.2 0 1 0 4.4 0a2.2 2.2 0 1 0 -4.4 0M372.7 136.1a2.2 2.2 0 1 0 4.4 0a2.2 2.2 0 1 0 -4.4 0M374.5 136.9a2.2 2.2 0 1 0 4.4 0a2.2 2.2 0 1 0 -4.4 0M374.9 137a2.2 2.2 0 1 0 4.4 0a2.2 2.2 0 1 0 -4.4 0M377.1 138.8a2.2 2.2 0 1 0 4.4 0a2.2 2.2 0 1 0 -4.4 0M377.7 138.7a2.2 2.2 0 1 0 4.4 0a2.2 2.2 0 1 0 -4.4 0M379.3 139.7a2.2 2.2 0 1 0 4.4 0a2.2 2.2 0 1 0 -4.4 0M380.9 139.8a2.2 2.2 0 1 0 4.4 0a2.2 2.2 0 1 0 -4.4 0M381.6 140.5a2.2 2.2 0 1 0 4.4 0a2.2 2.2 0 1 0 -4.4 0M383.3 140.4a2.2 2.2 0 1 0 4.4 0a2.2 2.2 0 1 0 -4.4 0M385 141.3a2.2 2.2 0 1 0 4.4 0a2.2 2.2 0 1 0 -4.4 0M385.5 141.4a2.2 2.2 0 1 0 4.4 0a2.2 2.2 0 1 0 -4.4 0M387.2 142.3a2.2 2.2 0 1 0 4.4 0a2.2 2.2 0 1 0 -4.4 0M388.1 142.3a2.2 2.2 0 1 0 4.4 0a2.2 2.2 0 1 0 -4.4 0M389.3 142.5a2.2 2.2 0 1 0 4.4 0a2.2 2.2 0 1 0 -4.4 0M391.1 143.3a2.2 2.2 0 1 0 4.4 0a2.2 2.2 0 1 0 -4.4 0M392.3 143.3a2.2 2.2 0 1 0 4.4 0a2.2 2.2 0 1 0 -4.4 0" stroke="#f0b040" stroke-width="0.55" fill="none"/>
<path d="M269.4 98.3a2.2 2.2 0 1 0 4.4 0a2.2 2.2 0 1 0 -4.4 0M271 93.2a2.2 2.2 0 1 0 4.4 0a2.2 2.2 0 1 0 -4.4 0M271.4 90.9a2.2 2.2 0 1 0 4.4 0a2.2 2.2 0 1 0 -4.4 0M272.7 95.7a2.2 2.2 0 1 0 4.4 0a2.2 2.2 0 1 0 -4.4 0M273 89.9a2.2 2.2 0 1 0 4.4 0a2.2 2.2 0 1 0 -4.4 0M273.9 92.7a2.2 2.2 0 1 0 4.4 0a2.2 2.2 0 1 0 -4.4 0M275.3 92.8a2.2 2.2 0 1 0 4.4 0a2.2 2.2 0 1 0 -4.4 0M276.3 85.4a2.2 2.2 0 1 0 4.4 0a2.2 2.2 0 1 0 -4.4 0M277.1 87.4a2.2 2.2 0 1 0 4.4 0a2.2 2.2 0 1 0 -4.4 0M277.9 85.1a2.2 2.2 0 1 0 4.4 0a2.2 2.2 0 1 0 -4.4 0M278.9 86.1a2.2 2.2 0 1 0 4.4 0a2.2 2.2 0 1 0 -4.4 0M279.4 85.2a2.2 2.2 0 1 0 4.4 0a2.2 2.2 0 1 0 -4.4 0M280.2 88.4a2.2 2.2 0 1 0 4.4 0a2.2 2.2 0 1 0 -4.4 0M281.4 84.1a2.2 2.2 0 1 0 4.4 0a2.2 2.2 0 1 0 -4.4 0M282.4 81.7a2.2 2.2 0 1 0 4.4 0a2.2 2.2 0 1 0 -4.4 0M283.1 84a2.2 2.2 0 1 0 4.4 0a2.2 2.2 0 1 0 -4.4 0M283.9 79.8a2.2 2.2 0 1 0 4.4 0a2.2 2.2 0 1 0 -4.4 0M285.1 78.7a2.2 2.2 0 1 0 4.4 0a2.2 2.2 0 1 0 -4.4 0M285.9 84.8a2.2 2.2 0 1 0 4.4 0a2.2 2.2 0 1 0 -4.4 0M286.7 76.3a2.2 2.2 0 1 0 4.4 0a2.2 2.2 0 1 0 -4.4 0M288.2 76.1a2.2 2.2 0 1 0 4.4 0a2.2 2.2 0 1 0 -4.4 0M289.1 77a2.2 2.2 0 1 0 4.4 0a2.2 2.2 0 1 0 -4.4 0M289.2 74a2.2 2.2 0 1 0 4.4 0a2.2 2.2 0 1 0 -4.4 0M290.5 70.3a2.2 2.2 0 1 0 4.4 0a2.2 2.2 0 1 0 -4.4 0M291.2 78.4a2.2 2.2 0 1 0 4.4 0a2.2 2.2 0 1 0 -4.4 0M292.2 72.8a2.2 2.2 0 1 0 4.4 0a2.2 2.2 0 1 0 -4.4 0M292.8 73.1a2.2 2.2 0 1 0 4.4 0a2.2 2.2 0 1 0 -4.4 0M293.7 73a2.2 2.2 0 1 0 4.4 0a2.2 2.2 0 1 0 -4.4 0M294.6 70.8a2.2 2.2 0 1 0 4.4 0a2.2 2.2 0 1 0 -4.4 0M295.6 70a2.2 2.2 0 1 0 4.4 0a2.2 2.2 0 1 0 -4.4 0M296.9 72.8a2.2 2.2 0 1 0 4.4 0a2.2 2.2 0 1 0 -4.4 0M297.3 78.9a2.2 2.2 0 1 0 4.4 0a2.2 2.2 0 1 0 -4.4 0M298.9 73.5a2.2 2.2 0 1 0 4.4 0a2.2 2.2 0 1 0 -4.4 0M299.8 73.2a2.2 2.2 0 1 0 4.4 0a2.2 2.2 0 1 0 -4.4 0M300.2 66.5a2.2 2.2 0 1 0 4.4 0a2.2 2.2 0 1 0 -4.4 0M301.5 70.2a2.2 2.2 0 1 0 4.4 0a2.2 2.2 0 1 0 -4.4 0M302.6 66.4a2.2 2.2 0 1 0 4.4 0a2.2 2.2 0 1 0 -4.4 0M302.8 72a2.2 2.2 0 1 0 4.4 0a2.2 2.2 0 1 0 -4.4 0M304.1 68.6a2.2 2.2 0 1 0 4.4 0a2.2 2.2 0 1 0 -4.4 0M304.9 69.2a2.2 2.2 0 1 0 4.4 0a2.2 2.2 0 1 0 -4.4 0M305.6 68.6a2.2 2.2 0 1 0 4.4 0a2.2 2.2 0 1 0 -4.4 0M306.5 67a2.2 2.2 0 1 0 4.4 0a2.2 2.2 0 1 0 -4.4 0M307.2 64.1a2.2 2.2 0 1 0 4.4 0a2.2 2.2 0 1 0 -4.4 0M308.6 70.3a2.2 2.2 0 1 0 4.4 0a2.2 2.2 0 1 0 -4.4 0M309.1 64.5a2.2 2.2 0 1 0 4.4 0a2.2 2.2 0 1 0 -4.4 0M310.2 65.2a2.2 2.2 0 1 0 4.4 0a2.2 2.2 0 1 0 -4.4 0M311.6 68a2.2 2.2 0 1 0 4.4 0a2.2 2.2 0 1 0 -4.4 0M312 66.9a2.2 2.2 0 1 0 4.4 0a2.2 2.2 0 1 0 -4.4 0M312.8 69.9a2.2 2.2 0 1 0 4.4 0a2.2 2.2 0 1 0 -4.4 0M314.3 72.5a2.2 2.2 0 1 0 4.4 0a2.2 2.2 0 1 0 -4.4 0M314.9 70.4a2.2 2.2 0 1 0 4.4 0a2.2 2.2 0 1 0 -4.4 0M315.8 70.5a2.2 2.2 0 1 0 4.4 0a2.2 2.2 0 1 0 -4.4 0M316.4 70.2a2.2 2.2 0 1 0 4.4 0a2.2 2.2 0 1 0 -4.4 0M317.6 73.4a2.2 2.2 0 1 0 4.4 0a2.2 2.2 0 1 0 -4.4 0M318.3 66.2a2.2 2.2 0 1 0 4.4 0a2.2 2.2 0 1 0 -4.4 0M319.3 73.4a2.2 2.2 0 1 0 4.4 0a2.2 2.2 0 1 0 -4.4 0M320.1 70.6a2.2 2.2 0 1 0 4.4 0a2.2 2.2 0 1 0 -4.4 0M320.7 70.5a2.2 2.2 0 1 0 4.4 0a2.2 2.2 0 1 0 -4.4 0M322.3 75.8a2.2 2.2 0 1 0 4.4 0a2.2 2.2 0 1 0 -4.4 0M323.1 75.9a2.2 2.2 0 1 0 4.4 0a2.2 2.2 0 1 0 -4.4 0M324.2 80.4a2.2 2.2 0 1 0 4.4 0a2.2 2.2 0 1 0 -4.4 0M324.5 82.3a2.2 2.2 0 1 0 4.4 0a2.2 2.2 0 1 0 -4.4 0M325.4 75.3a2.2 2.2 0 1 0 4.4 0a2.2 2.2 0 1 0 -4.4 0M326.2 82.3a2.2 2.2 0 1 0 4.4 0a2.2 2.2 0 1 0 -4.4 0M327.2 88.7a2.2 2.2 0 1 0 4.4 0a2.2 2.2 0 1 0 -4.4 0M328.1 87.2a2.2 2.2 0 1 0 4.4 0a2.2 2.2 0 1 0 -4.4 0M328.9 89.3a2.2 2.2 0 1 0 4.4 0a2.2 2.2 0 1 0 -4.4 0M329.9 87.2a2.2 2.2 0 1 0 4.4 0a2.2 2.2 0 1 0 -4.4 0M330.8 84.6a2.2 2.2 0 1 0 4.4 0a2.2 2.2 0 1 0 -4.4 0M332.2 86.9a2.2 2.2 0 1 0 4.4 0a2.2 2.2 0 1 0 -4.4 0M332.8 91.6a2.2 2.2 0 1 0 4.4 0a2.2 2.2 0 1 0 -4.4 0M334 93.8a2.2 2.2 0 1 0 4.4 0a2.2 2.2 0 1 0 -4.4 0M334.2 90.5a2.2 2.2 0 1 0 4.4 0a2.2 2.2 0 1 0 -4.4 0M335.2 93.1a2.2 2.2 0 1 0 4.4 0a2.2 2.2 0 1 0 -4.4 0M336.8 96.8a2.2 2.2 0 1 0 4.4 0a2.2 2.2 0 1 0 -4.4 0M336.9 93a2.2 2.2 0 1 0 4.4 0a2.2 2.2 0 1 0 -4.4 0M337.8 97.3a2.2 2.2 0 1 0 4.4 0a2.2 2.2 0 1 0 -4.4 0M339.1 102.9a2.2 2.2 0 1 0 4.4 0a2.2 2.2 0 1 0 -4.4 0M339.8 104.9a2.2 2.2 0 1 0 4.4 0a2.2 2.2 0 1 0 -4.4 0M340.6 102a2.2 2.2 0 1 0 4.4 0a2.2 2.2 0 1 0 -4.4 0M341.9 107.1a2.2 2.2 0 1 0 4.4 0a2.2 2.2 0 1 0 -4.4 0M342.8 104.5a2.2 2.2 0 1 0 4.4 0a2.2 2.2 0 1 0 -4.4 0M343.3 104.8a2.2 2.2 0 1 0 4.4 0a2.2 2.2 0 1 0 -4.4 0M344.5 104.3a2.2 2.2 0 1 0 4.4 0a2.2 2.2 0 1 0 -4.4 0M345.4 110.3a2.2 2.2 0 1 0 4.4 0a2.2 2.2 0 1 0 -4.4 0M346.6 110a2.2 2.2 0 1 0 4.4 0a2.2 2.2 0 1 0 -4.4 0M346.8 114.1a2.2 2.2 0 1 0 4.4 0a2.2 2.2 0 1 0 -4.4 0M347.9 112.5a2.2 2.2 0 1 0 4.4 0a2.2 2.2 0 1 0 -4.4 0M349.1 113.8a2.2 2.2 0 1 0 4.4 0a2.2 2.2 0 1 0 -4.4 0M349.5 111.8a2.2 2.2 0 1 0 4.4 0a2.2 2.2 0 1 0 -4.4 0M351.1 117.9a2.2 2.2 0 1 0 4.4 0a2.2 2.2 0 1 0 -4.4 0M352.1 116.9a2.2 2.2 0 1 0 4.4 0a2.2 2.2 0 1 0 -4.4 0M352.4 117.5a2.2 2.2 0 1 0 4.4 0a2.2 2.2 0 1 0 -4.4 0M353.7 116.7a2.2 2.2 0 1 0 4.4 0a2.2 2.2 0 1 0 -4.4 0M354.2 120.7a2.2 2.2 0 1 0 4.4 0a2.2 2.2 0 1 0 -4.4 0M355.7 122.3a2.2 2.2 0 1 0 4.4 0a2.2 2.2 0 1 0 -4.4 0M355.9 120.9a2.2 2.2 0 1 0 4.4 0a2.2 2.2 0 1 0 -4.4 0M356.7 122.4a2.2 2.2 0 1 0 4.4 0a2.2 2.2 0 1 0 -4.4 0M357.6 123.6a2.2 2.2 0 1 0 4.4 0a2.2 2.2 0 1 0 -4.4 0M358.9 125.4a2.2 2.2 0 1 0 4.4 0a2.2 2.2 0 1 0 -4.4 0M359.4 125.1a2.2 2.2 0 1 0 4.4 0a2.2 2.2 0 1 0 -4.4 0M361.1 128.1a2.2 2.2 0 1 0 4.4 0a2.2 2.2 0 1 0 -4.4 0M361.7 127a2.2 2.2 0 1 0 4.4 0a2.2 2.2 0 1 0 -4.4 0M362.6 127.4a2.2 2.2 0 1 0 4.4 0a2.2 2.2 0 1 0 -4.4 0M363.5 128.4a2.2 2.2 0 1 0 4.4 0a2.2 2.2 0 1 0 -4.4 0M364.2 127.4a2.2 2.2 0 1 0 4.4 0a2.2 2.2 0 1 0 -4.4 0M365.5 129.7a2.2 2.2 0 1 0 4.4 0a2.2 2.2 0 1 0 -4.4 0M366.3 131.5a2.2 2.2 0 1 0 4.4 0a2.2 2.2 0 1 0 -4.4 0M366.9 131.5a2.2 2.2 0 1 0 4.4 0a2.2 2.2 0 1 0 -4.4 0M367.7 131.3a2.2 2.2 0 1 0 4.4 0a2.2 2.2 0 1 0 -4.4 0M368.5 132.6a2.2 2.2 0 1 0 4.4 0a2.2 2.2 0 1 0 -4.4 0M369.5 131.9a2.2 2.2 0 1 0 4.4 0a2.2 2.2 0 1 0 -4.4 0M370.5 133.5a2.2 2.2 0 1 0 4.4 0a2.2 2.2 0 1 0 -4.4 0M371.1 134.4a2.2 2.2 0 1 0 4.4 0a2.2 2.2 0 1 0 -4.4 0M372.8 135.4a2.2 2.2 0 1 0 4.4 0a2.2 2.2 0 1 0 -4.4 0M373.1 134.8a2.2 2.2 0 1 0 4.4 0a2.2 2.2 0 1 0 -4.4 0M374.2 136.3a2.2 2.2 0 1 0 4.4 0a2.2 2.2 0 1 0 -4.4 0M374.7 137a2.2 2.2 0 1 0 4.4 0a2.2 2.2 0 1 0 -4.4 0M376 136.5a2.2 2.2 0 1 0 4.4 0a2.2 2.2 0 1 0 -4.4 0M377 137.6a2.2 2.2 0 1 0 4.4 0a2.2 2.2 0 1 0 -4.4 0M377.4 136.6a2.2 2.2 0 1 0 4.4 0a2.2 2.2 0 1 0 -4.4 0M379.1 137.1a2.2 2.2 0 1 0 4.4 0a2.2 2.2 0 1 0 -4.4 0M379.3 138.5a2.2 2.2 0 1 0 4.4 0a2.2 2.2 0 1 0 -4.4 0M380.3 138.7a2.2 2.2 0 1 0 4.4 0a2.2 2.2 0 1 0 -4.4 0M381.6 139.2a2.2 2.2 0 1 0 4.4 0a2.2 2.2 0 1 0 -4.4 0M382.2 139a2.2 2.2 0 1 0 4.4 0a2.2 2.2 0 1 0 -4.4 0M383.5 139.6a2.2 2.2 0 1 0 4.4 0a2.2 2.2 0 1 0 -4.4 0M383.9 140.3a2.2 2.2 0 1 0 4.4 0a2.2 2.2 0 1 0 -4.4 0M384.8 141.1a2.2 2.2 0 1 0 4.4 0a2.2 2.2 0 1 0 -4.4 0M386.1 140.5a2.2 2.2 0 1 0 4.4 0a2.2 2.2 0 1 0 -4.4 0M387.1 140a2.2 2.2 0 1 0 4.4 0a2.2 2.2 0 1 0 -4.4 0M388 141.8a2.2 2.2 0 1 0 4.4 0a2.2 2.2 0 1 0 -4.4 0M388.4 141.5a2.2 2.2 0 1 0 4.4 0a2.2 2.2 0 1 0 -4.4 0M389.5 141.9a2.2 2.2 0 1 0 4.4 0a2.2 2.2 0 1 0 -4.4 0M390.3 141.8a2.2 2.2 0 1 0 4.4 0a2.2 2.2 0 1 0 -4.4 0M391.5 143.2a2.2 2.2 0 1 0 4.4 0a2.2 2.2 0 1 0 -4.4 0M392 142.2a2.2 2.2 0 1 0 4.4 0a2.2 2.2 0 1 0 -4.4 0" stroke="#ff4040" stroke-width="0.55" fill="none"/>
<path d="M272.5 81.4a2.2 2.2 0 1 0 4.4 0a2.2 2.2 0 1 0 -4.4 0M273.5 81.4a2.2 2.2 0 1 0 4.4 0a2.2 2.2 0 1 0 -4.4 0M274 78.9a2.2 2.2 0 1 0 4.4 0a2.2 2.2 0 1 0 -4.4 0M274.7 77.6a2.2 2.2 0 1 0 4.4 0a2.2 2.2 0 1 0 -4.4 0M275.5 78.2a2.2 2.2 0 1 0 4.4 0a2.2 2.2 0 1 0 -4.4 0M276.6 75.5a2.2 2.2 0 1 0 4.4 0a2.2 2.2 0 1 0 -4.4 0M276.9 79.8a2.2 2.2 0 1 0 4.4 0a2.2 2.2 0 1 0 -4.4 0M277.8 79.4a2.2 2.2 0 1 0 4.4 0a2.2 2.2 0 1 0 -4.4 0M278.3 75.3a2.2 2.2 0 1 0 4.4 0a2.2 2.2 0 1 0 -4.4 0M279 71.3a2.2 2.2 0 1 0 4.4 0a2.2 2.2 0 1 0 -4.4 0M279.5 77.1a2.2 2.2 0 1 0 4.4 0a2.2 2.2 0 1 0 -4.4 0M280.3 66.4a2.2 2.2 0 1 0 4.4 0a2.2 2.2 0 1 0 -4.4 0M281.4 65.2a2.2 2.2 0 1 0 4.4 0a2.2 2.2 0 1 0 -4.4 0M281.9 74a2.2 2.2 0 1 0 4.4 0a2.2 2.2 0 1 0 -4.4 0M282.4 73a2.2 2.2 0 1 0 4.4 0a2.2 2.2 0 1 0 -4.4 0M283.6 72.9a2.2 2.2 0 1 0 4.4 0a2.2 2.2 0 1 0 -4.4 0M284.3 67.9a2.2 2.2 0 1 0 4.4 0a2.2 2.2 0 1 0 -4.4 0M284.5 63.8a2.2 2.2 0 1 0 4.4 0a2.2 2.2 0 1 0 -4.4 0M285.4 65.7a2.2 2.2 0 1 0 4.4 0a2.2 2.2 0 1 0 -4.4 0M286.1 68.9a2.2 2.2 0 1 0 4.4 0a2.2 2.2 0 1 0 -4.4 0M286.6 63.5a2.2 2.2 0 1 0 4.4 0a2.2 2.2 0 1 0 -4.4 0M287.4 62.8a2.2 2.2 0 1 0 4.4 0a2.2 2.2 0 1 0 -4.4 0M288 59.6a2.2 2.2 0 1 0 4.4 0a2.2 2.2 0 1 0 -4.4 0M289.1 59.3a2.2 2.2 0 1 0 4.4 0a2.2 2.2 0 1 0 -4.4 0M289.3 66.9a2.2 2.2 0 1 0 4.4 0a2.2 2.2 0 1 0 -4.4 0M290.6 64a2.2 2.2 0 1 0 4.4 0a2.2 2.2 0 1 0 -4.4 0M290.8 57.5a2.2 2.2 0 1 0 4.4 0a2.2 2.2 0 1 0 -4.4 0M291.6 57a2.2 2.2 0 1 0 4.4 0a2.2 2.2 0 1 0 -4.4 0M292.1 58.4a2.2 2.2 0 1 0 4.4 0a2.2 2.2 0 1 0 -4.4 0M293.4 61.4a2.2 2.2 0 1 0 4.4 0a2.2 2.2 0 1 0 -4.4 0M294 53.5a2.2 2.2 0 1 0 4.4 0a2.2 2.2 0 1 0 -4.4 0M294.2 57.4a2.2 2.2 0 1 0 4.4 0a2.2 2.2 0 1 0 -4.4 0M295.2 47.8a2.2 2.2 0 1 0 4.4 0a2.2 2.2 0 1 0 -4.4 0M295.8 50.7a2.2 2.2 0 1 0 4.4 0a2.2 2.2 0 1 0 -4.4 0M296.7 56.8a2.2 2.2 0 1 0 4.4 0a2.2 2.2 0 1 0 -4.4 0M297.2 58.3a2.2 2.2 0 1 0 4.4 0a2.2 2.2 0 1 0 -4.4 0M298.3 48.4a2.2 2.2 0 1 0 4.4 0a2.2 2.2 0 1 0 -4.4 0M298.5 49.8a2.2 2.2 0 1 0 4.4 0a2.2 2.2 0 1 0 -4.4 0M299.6 55.5a2.2 2.2 0 1 0 4.4 0a2.2 2.2 0 1 0 -4.4 0M299.9 50a2.2 2.2 0 1 0 4.4 0a2.2 2.2 0 1 0 -4.4 0M300.9 48.3a2.2 2.2 0 1 0 4.4 0a2.2 2.2 0 1 0 -4.4 0M301.4 52.5a2.2 2.2 0 1 0 4.4 0a2.2 2.2 0 1 0 -4.4 0M302.2 50.3a2.2 2.2 0 1 0 4.4 0a2.2 2.2 0 1 0 -4.4 0M302.9 53.8a2.2 2.2 0 1 0 4.4 0a2.2 2.2 0 1 0 -4.4 0M303.7 51.7a2.2 2.2 0 1 0 4.4 0a2.2 2.2 0 1 0 -4.4 0M304 45.2a2.2 2.2 0 1 0 4.4 0a2.2 2.2 0 1 0 -4.4 0M304.7 46.8a2.2 2.2 0 1 0 4.4 0a2.2 2.2 0 1 0 -4.4 0M306 46.1a2.2 2.2 0 1 0 4.4 0a2.2 2.2 0 1 0 -4.4 0M306.2 40a2.2 2.2 0 1 0 4.4 0a2.2 2.2 0 1 0 -4.4 0M307 41.4a2.2 2.2 0 1 0 4.4 0a2.2 2.2 0 1 0 -4.4 0M307.6 50.2a2.2 2.2 0 1 0 4.4 0a2.2 2.2 0 1 0 -4.4 0M308.6 38a2.2 2.2 0 1 0 4.4 0a2.2 2.2 0 1 0 -4.4 0M309.5 50a2.2 2.2 0 1 0 4.4 0a2.2 2.2 0 1 0 -4.4 0M309.8 46.6a2.2 2.2 0 1 0 4.4 0a2.2 2.2 0 1 0 -4.4 0M310.5 44.7a2.2 2.2 0 1 0 4.4 0a2.2 2.2 0 1 0 -4.4 0M311.2 48a2.2 2.2 0 1 0 4.4 0a2.2 2.2 0 1 0 -4.4 0M311.7 47.7a2.2 2.2 0 1 0 4.4 0a2.2 2.2 0 1 0 -4.4 0M312.4 51.3a2.2 2.2 0 1 0 4.4 0a2.2 2.2 0 1 0 -4.4 0M313.1 44a2.2 2.2 0 1 0 4.4 0a2.2 2.2 0 1 0 -4.4 0M314 45.1a2.2 2.2 0 1 0 4.4 0a2.2 2.2 0 1 0 -4.4 0M315.1 45.5a2.2 2.2 0 1 0 4.4 0a2.2 2.2 0 1 0 -4.4 0M315.2 55.4a2.2 2.2 0 1 0 4.4 0a2.2 2.2 0 1 0 -4.4 0M316.2 51.5a2.2 2.2 0 1 0 4.4 0a2.2 2.2 0 1 0 -4.4 0M316.7 43.1a2.2 2.2 0 1 0 4.4 0a2.2 2.2 0 1 0 -4.4 0M317.3 46.1a2.2 2.2 0 1 0 4.4 0a2.2 2.2 0 1 0 -4.4 0M318.5 45.1a2.2 2.2 0 1 0 4.4 0a2.2 2.2 0 1 0 -4.4 0M318.7 48.5a2.2 2.2 0 1 0 4.4 0a2.2 2.2 0 1 0 -4.4 0M319.4 50a2.2 2.2 0 1 0 4.4 0a2.2 2.2 0 1 0 -4.4 0M320.6 60.3a2.2 2.2 0 1 0 4.4 0a2.2 2.2 0 1 0 -4.4 0M320.9 42.3a2.2 2.2 0 1 0 4.4 0a2.2 2.2 0 1 0 -4.4 0M321.6 55.7a2.2 2.2 0 1 0 4.4 0a2.2 2.2 0 1 0 -4.4 0M322.8 54.6a2.2 2.2 0 1 0 4.4 0a2.2 2.2 0 1 0 -4.4 0M323 49.9a2.2 2.2 0 1 0 4.4 0a2.2 2.2 0 1 0 -4.4 0M324.1 53.8a2.2 2.2 0 1 0 4.4 0a2.2 2.2 0 1 0 -4.4 0M324.5 52.8a2.2 2.2 0 1 0 4.4 0a2.2 2.2 0 1 0 -4.4 0M325.3 56.4a2.2 2.2 0 1 0 4.4 0a2.2 2.2 0 1 0 -4.4 0M325.9 61.2a2.2 2.2 0 1 0 4.4 0a2.2 2.2 0 1 0 -4.4 0M326.6 51.9a2.2 2.2 0 1 0 4.4 0a2.2 2.2 0 1 0 -4.4 0M327.7 65.1a2.2 2.2 0 1 0 4.4 0a2.2 2.2 0 1 0 -4.4 0M328.4 59.5a2.2 2.2 0 1 0 4.4 0a2.2 2.2 0 1 0 -4.4 0M328.6 67.3a2.2 2.2 0 1 0 4.4 0a2.2 2.2 0 1 0 -4.4 0M329.7 65a2.2 2.2 0 1 0 4.4 0a2.2 2.2 0 1 0 -4.4 0M329.9 68.7a2.2 2.2 0 1 0 4.4 0a2.2 2.2 0 1 0 -4.4 0M330.8 67.8a2.2 2.2 0 1 0 4.4 0a2.2 2.2 0 1 0 -4.4 0M331.3 70.8a2.2 2.2 0 1 0 4.4 0a2.2 2.2 0 1 0 -4.4 0M332.4 69.4a2.2 2.2 0 1 0 4.4 0a2.2 2.2 0 1 0 -4.4 0M333.2 68a2.2 2.2 0 1 0 4.4 0a2.2 2.2 0 1 0 -4.4 0M333.9 75a2.2 2.2 0 1 0 4.4 0a2.2 2.2 0 1 0 -4.4 0M334.6 77a2.2 2.2 0 1 0 4.4 0a2.2 2.2 0 1 0 -4.4 0M335 82.7a2.2 2.2 0 1 0 4.4 0a2.2 2.2 0 1 0 -4.4 0M335.6 70.7a2.2 2.2 0 1 0 4.4 0a2.2 2.2 0 1 0 -4.4 0M336.2 78.2a2.2 2.2 0 1 0 4.4 0a2.2 2.2 0 1 0 -4.4 0M337.2 84.9a2.2 2.2 0 1 0 4.4 0a2.2 2.2 0 1 0 -4.4 0M338.2 80.8a2.2 2.2 0 1 0 4.4 0a2.2 2.2 0 1 0 -4.4 0M338.6 84.7a2.2 2.2 0 1 0 4.4 0a2.2 2.2 0 1 0 -4.4 0M339.4 93.3a2.2 2.2 0 1 0 4.4 0a2.2 2.2 0 1 0 -4.4 0M340.4 93.4a2.2 2.2 0 1 0 4.4 0a2.2 2.2 0 1 0 -4.4 0M341.1 88.9a2.2 2.2 0 1 0 4.4 0a2.2 2.2 0 1 0 -4.4 0M341.8 96.4a2.2 2.2 0 1 0 4.4 0a2.2 2.2 0 1 0 -4.4 0M342.5 97.1a2.2 2.2 0 1 0 4.4 0a2.2 2.2 0 1 0 -4.4 0M343.1 97.3a2.2 2.2 0 1 0 4.4 0a2.2 2.2 0 1 0 -4.4 0M344.3 98.7a2.2 2.2 0 1 0 4.4 0a2.2 2.2 0 1 0 -4.4 0M344.9 99.6a2.2 2.2 0 1 0 4.4 0a2.2 2.2 0 1 0 -4.4 0M346 99.3a2.2 2.2 0 1 0 4.4 0a2.2 2.2 0 1 0 -4.4 0M346.6 101.1a2.2 2.2 0 1 0 4.4 0a2.2 2.2 0 1 0 -4.4 0M348.1 106.3a2.2 2.2 0 1 0 4.4 0a2.2 2.2 0 1 0 -4.4 0M348.5 105.9a2.2 2.2 0 1 0 4.4 0a2.2 2.2 0 1 0 -4.4 0M350 111.5a2.2 2.2 0 1 0 4.4 0a2.2 2.2 0 1 0 -4.4 0M351.1 109.3a2.2 2.2 0 1 0 4.4 0a2.2 2.2 0 1 0 -4.4 0M351.6 106.6a2.2 2.2 0 1 0 4.4 0a2.2 2.2 0 1 0 -4.4 0M353.2 112.7a2.2 2.2 0 1 0 4.4 0a2.2 2.2 0 1 0 -4.4 0M354.2 115.1a2.2 2.2 0 1 0 4.4 0a2.2 2.2 0 1 0 -4.4 0M355.3 116.9a2.2 2.2 0 1 0 4.4 0a2.2 2.2 0 1 0 -4.4 0M356.2 117.7a2.2 2.2 0 1 0 4.4 0a2.2 2.2 0 1 0 -4.4 0M357.5 118.2a2.2 2.2 0 1 0 4.4 0a2.2 2.2 0 1 0 -4.4 0M358.7 122.8a2.2 2.2 0 1 0 4.4 0a2.2 2.2 0 1 0 -4.4 0M360.1 121.9a2.2 2.2 0 1 0 4.4 0a2.2 2.2 0 1 0 -4.4 0M361.6 125.1a2.2 2.2 0 1 0 4.4 0a2.2 2.2 0 1 0 -4.4 0M363 125.4a2.2 2.2 0 1 0 4.4 0a2.2 2.2 0 1 0 -4.4 0M364.4 125.8a2.2 2.2 0 1 0 4.4 0a2.2 2.2 0 1 0 -4.4 0M365.6 129.4a2.2 2.2 0 1 0 4.4 0a2.2 2.2 0 1 0 -4.4 0M367.1 127a2.2 2.2 0 1 0 4.4 0a2.2 2.2 0 1 0 -4.4 0M368.9 130a2.2 2.2 0 1 0 4.4 0a2.2 2.2 0 1 0 -4.4 0M370.6 132.3a2.2 2.2 0 1 0 4.4 0a2.2 2.2 0 1 0 -4.4 0M371.7 132.4a2.2 2.2 0 1 0 4.4 0a2.2 2.2 0 1 0 -4.4 0M373.5 134.3a2.2 2.2 0 1 0 4.4 0a2.2 2.2 0 1 0 -4.4 0M375.1 134.7a2.2 2.2 0 1 0 4.4 0a2.2 2.2 0 1 0 -4.4 0M377.3 135.7a2.2 2.2 0 1 0 4.4 0a2.2 2.2 0 1 0 -4.4 0M378.4 138a2.2 2.2 0 1 0 4.4 0a2.2 2.2 0 1 0 -4.4 0M380.9 137.6a2.2 2.2 0 1 0 4.4 0a2.2 2.2 0 1 0 -4.4 0M382.7 138.3a2.2 2.2 0 1 0 4.4 0a2.2 2.2 0 1 0 -4.4 0M384.4 138.3a2.2 2.2 0 1 0 4.4 0a2.2 2.2 0 1 0 -4.4 0M386.6 139.2a2.2 2.2 0 1 0 4.4 0a2.2 2.2 0 1 0 -4.4 0M388.5 140.6a2.2 2.2 0 1 0 4.4 0a2.2 2.2 0 1 0 -4.4 0M390.8 141.1a2.2 2.2 0 1 0 4.4 0a2.2 2.2 0 1 0 -4.4 0" stroke="#44c044" stroke-width="0.55" fill="none"/>
<path d="M276 68.9a2.2 2.2 0 1 0 4.4 0a2.2 2.2 0 1 0 -4.4 0M276.4 74.4a2.2 2.2 0 1 0 4.4 0a2.2 2.2 0 1 0 -4.4 0M276.9 69a2.2 2.2 0 1 0 4.4 0a2.2 2.2 0 1 0 -4.4 0M278 73.9a2.2 2.2 0 1 0 4.4 0a2.2 2.2 0 1 0 -4.4 0M278.7 71.3a2.2 2.2 0 1 0 4.4 0a2.2 2.2 0 1 0 -4.4 0M279.2 66.2a2.2 2.2 0 1 0 4.4 0a2.2 2.2 0 1 0 -4.4 0M279.6 67.8a2.2 2.2 0 1 0 4.4 0a2.2 2.2 0 1 0 -4.4 0M280.3 65.9a2.2 2.2 0 1 0 4.4 0a2.2 2.2 0 1 0 -4.4 0M281.1 60.4a2.2 2.2 0 1 0 4.4 0a2.2 2.2 0 1 0 -4.4 0M281.9 63.6a2.2 2.2 0 1 0 4.4 0a2.2 2.2 0 1 0 -4.4 0M282.1 58a2.2 2.2 0 1 0 4.4 0a2.2 2.2 0 1 0 -4.4 0M282.9 60.1a2.2 2.2 0 1 0 4.4 0a2.2 2.2 0 1 0 -4.4 0M283.3 51.7a2.2 2.2 0 1 0 4.4 0a2.2 2.2 0 1 0 -4.4 0M283.9 55.2a2.2 2.2 0 1 0 4.4 0a2.2 2.2 0 1 0 -4.4 0M284.7 54.9a2.2 2.2 0 1 0 4.4 0a2.2 2.2 0 1 0 -4.4 0M285.8 46.5a2.2 2.2 0 1 0 4.4 0a2.2 2.2 0 1 0 -4.4 0M286.3 47.1a2.2 2.2 0 1 0 4.4 0a2.2 2.2 0 1 0 -4.4 0M286.8 45.4a2.2 2.2 0 1 0 4.4 0a2.2 2.2 0 1 0 -4.4 0M287.4 50.6a2.2 2.2 0 1 0 4.4 0a2.2 2.2 0 1 0 -4.4 0M288 41.9a2.2 2.2 0 1 0 4.4 0a2.2 2.2 0 1 0 -4.4 0M289 46.1a2.2 2.2 0 1 0 4.4 0a2.2 2.2 0 1 0 -4.4 0M289.4 51.1a2.2 2.2 0 1 0 4.4 0a2.2 2.2 0 1 0 -4.4 0M289.8 44.2a2.2 2.2 0 1 0 4.4 0a2.2 2.2 0 1 0 -4.4 0M290.8 31.5a2.2 2.2 0 1 0 4.4 0a2.2 2.2 0 1 0 -4.4 0M291.7 39.7a2.2 2.2 0 1 0 4.4 0a2.2 2.2 0 1 0 -4.4 0M291.8 44.7a2.2 2.2 0 1 0 4.4 0a2.2 2.2 0 1 0 -4.4 0M293 35.1a2.2 2.2 0 1 0 4.4 0a2.2 2.2 0 1 0 -4.4 0M293.1 43a2.2 2.2 0 1 0 4.4 0a2.2 2.2 0 1 0 -4.4 0M293.9 38.9a2.2 2.2 0 1 0 4.4 0a2.2 2.2 0 1 0 -4.4 0M295 36.1a2.2 2.2 0 1 0 4.4 0a2.2 2.2 0 1 0 -4.4 0M295.6 31.1a2.2 2.2 0 1 0 4.4 0a2.2 2.2 0 1 0 -4.4 0M295.7 29.4a2.2 2.2 0 1 0 4.4 0a2.2 2.2 0 1 0 -4.4 0M296.7 29.5a2.2 2.2 0 1 0 4.4 0a2.2 2.2 0 1 0 -4.4 0M297.3 30.7a2.2 2.2 0 1 0 4.4 0a2.2 2.2 0 1 0 -4.4 0M297.8 32.9a2.2 2.2 0 1 0 4.4 0a2.2 2.2 0 1 0 -4.4 0M298.7 31.3a2.2 2.2 0 1 0 4.4 0a2.2 2.2 0 1 0 -4.4 0M299.3 26.4a2.2 2.2 0 1 0 4.4 0a2.2 2.2 0 1 0 -4.4 0M299.7 28.3a2.2 2.2 0 1 0 4.4 0a2.2 2.2 0 1 0 -4.4 0M300.5 29.7a2.2 2.2 0 1 0 4.4 0a2.2 2.2 0 1 0 -4.4 0M301.3 16.7a2.2 2.2 0 1 0 4.4 0a2.2 2.2 0 1 0 -4.4 0M301.9 21.6a2.2 2.2 0 1 0 4.4 0a2.2 2.2 0 1 0 -4.4 0M302.5 21.1a2.2 2.2 0 1 0 4.4 0a2.2 2.2 0 1 0 -4.4 0M303.3 24.4a2.2 2.2 0 1 0 4.4 0a2.2 2.2 0 1 0 -4.4 0M303.5 23.8a2.2 2.2 0 1 0 4.4 0a2.2 2.2 0 1 0 -4.4 0M304.1 23.6a2.2 2.2 0 1 0 4.4 0a2.2 2.2 0 1 0 -4.4 0M304.7 19.4a2.2 2.2 0 1 0 4.4 0a2.2 2.2 0 1 0 -4.4 0M305.8 28.5a2.2 2.2 0 1 0 4.4 0a2.2 2.2 0 1 0 -4.4 0M306.3 25.9a2.2 2.2 0 1 0 4.4 0a2.2 2.2 0 1 0 -4.4 0M307.2 13.5a2.2 2.2 0 1 0 4.4 0a2.2 2.2 0 1 0 -4.4 0M308 23.6a2.2 2.2 0 1 0 4.4 0a2.2 2.2 0 1 0 -4.4 0M308 16.5a2.2 2.2 0 1 0 4.4 0a2.2 2.2 0 1 0 -4.4 0M308.9 33.9a2.2 2.2 0 1 0 4.4 0a2.2 2.2 0 1 0 -4.4 0M309.5 20.3a2.2 2.2 0 1 0 4.4 0a2.2 2.2 0 1 0 -4.4 0M310.3 20.6a2.2 2.2 0 1 0 4.4 0a2.2 2.2 0 1 0 -4.4 0M311.2 23.6a2.2 2.2 0 1 0 4.4 0a2.2 2.2 0 1 0 -4.4 0M311.6 21.8a2.2 2.2 0 1 0 4.4 0a2.2 2.2 0 1 0 -4.4 0M312.1 22.8a2.2 2.2 0 1 0 4.4 0a2.2 2.2 0 1 0 -4.4 0M313 33.1a2.2 2.2 0 1 0 4.4 0a2.2 2.2 0 1 0 -4.4 0M313.4 25.1a2.2 2.2 0 1 0 4.4 0a2.2 2.2 0 1 0 -4.4 0M314.2 29.3a2.2 2.2 0 1 0 4.4 0a2.2 2.2 0 1 0 -4.4 0M314.5 31.3a2.2 2.2 0 1 0 4.4 0a2.2 2.2 0 1 0 -4.4 0M315.5 18.9a2.2 2.2 0 1 0 4.4 0a2.2 2.2 0 1 0 -4.4 0M316.1 35.9a2.2 2.2 0 1 0 4.4 0a2.2 2.2 0 1 0 -4.4 0M316.8 30.3a2.2 2.2 0 1 0 4.4 0a2.2 2.2 0 1 0 -4.4 0M317.4 32.4a2.2 2.2 0 1 0 4.4 0a2.2 2.2 0 1 0 -4.4 0M318.1 21.6a2.2 2.2 0 1 0 4.4 0a2.2 2.2 0 1 0 -4.4 0M318.9 32.8a2.2 2.2 0 1 0 4.4 0a2.2 2.2 0 1 0 -4.4 0M319.1 30.6a2.2 2.2 0 1 0 4.4 0a2.2 2.2 0 1 0 -4.4 0M320.2 26.2a2.2 2.2 0 1 0 4.4 0a2.2 2.2 0 1 0 -4.4 0M320.7 44.1a2.2 2.2 0 1 0 4.4 0a2.2 2.2 0 1 0 -4.4 0M321.4 34.8a2.2 2.2 0 1 0 4.4 0a2.2 2.2 0 1 0 -4.4 0M321.9 30.7a2.2 2.2 0 1 0 4.4 0a2.2 2.2 0 1 0 -4.4 0M322.3 34.1a2.2 2.2 0 1 0 4.4 0a2.2 2.2 0 1 0 -4.4 0M323.5 40.4a2.2 2.2 0 1 0 4.4 0a2.2 2.2 0 1 0 -4.4 0M324.1 42.7a2.2 2.2 0 1 0 4.4 0a2.2 2.2 0 1 0 -4.4 0M324.9 40.9a2.2 2.2 0 1 0 4.4 0a2.2 2.2 0 1 0 -4.4 0M325.2 45.1a2.2 2.2 0 1 0 4.4 0a2.2 2.2 0 1 0 -4.4 0M326.1 48.1a2.2 2.2 0 1 0 4.4 0a2.2 2.2 0 1 0 -4.4 0M326.7 34.3a2.2 2.2 0 1 0 4.4 0a2.2 2.2 0 1 0 -4.4 0M327.2 39.4a2.2 2.2 0 1 0 4.4 0a2.2 2.2 0 1 0 -4.4 0M328.1 38.8a2.2 2.2 0 1 0 4.4 0a2.2 2.2 0 1 0 -4.4 0M328.7 45.6a2.2 2.2 0 1 0 4.4 0a2.2 2.2 0 1 0 -4.4 0M328.8 53.2a2.2 2.2 0 1 0 4.4 0a2.2 2.2 0 1 0 -4.4 0M329.5 50.5a2.2 2.2 0 1 0 4.4 0a2.2 2.2 0 1 0 -4.4 0M330.3 43.6a2.2 2.2 0 1 0 4.4 0a2.2 2.2 0 1 0 -4.4 0M331.1 49.2a2.2 2.2 0 1 0 4.4 0a2.2 2.2 0 1 0 -4.4 0M331.8 57.5a2.2 2.2 0 1 0 4.4 0a2.2 2.2 0 1 0 -4.4 0M332.4 51.4a2.2 2.2 0 1 0 4.4 0a2.2 2.2 0 1 0 -4.4 0M333.2 55.7a2.2 2.2 0 1 0 4.4 0a2.2 2.2 0 1 0 -4.4 0M333.8 59.2a2.2 2.2 0 1 0 4.4 0a2.2 2.2 0 1 0 -4.4 0M334 49.9a2.2 2.2 0 1 0 4.4 0a2.2 2.2 0 1 0 -4.4 0M334.8 64a2.2 2.2 0 1 0 4.4 0a2.2 2.2 0 1 0 -4.4 0M335.9 64.8a2.2 2.2 0 1 0 4.4 0a2.2 2.2 0 1 0 -4.4 0M336.4 67.3a2.2 2.2 0 1 0 4.4 0a2.2 2.2 0 1 0 -4.4 0M336.6 61.1a2.2 2.2 0 1 0 4.4 0a2.2 2.2 0 1 0 -4.4 0M337.6 64.9a2.2 2.2 0 1 0 4.4 0a2.2 2.2 0 1 0 -4.4 0M338 66.5a2.2 2.2 0 1 0 4.4 0a2.2 2.2 0 1 0 -4.4 0M338.9 72.4a2.2 2.2 0 1 0 4.4 0a2.2 2.2 0 1 0 -4.4 0M339.9 74.5a2.2 2.2 0 1 0 4.4 0a2.2 2.2 0 1 0 -4.4 0M340 75a2.2 2.2 0 1 0 4.4 0a2.2 2.2 0 1 0 -4.4 0M341.2 84.3a2.2 2.2 0 1 0 4.4 0a2.2 2.2 0 1 0 -4.4 0M341.7 83.8a2.2 2.2 0 1 0 4.4 0a2.2 2.2 0 1 0 -4.4 0M342.8 79.3a2.2 2.2 0 1 0 4.4 0a2.2 2.2 0 1 0 -4.4 0M343.6 81.3a2.2 2.2 0 1 0 4.4 0a2.2 2.2 0 1 0 -4.4 0M343.9 89.9a2.2 2.2 0 1 0 4.4 0a2.2 2.2 0 1 0 -4.4 0M345.1 85.9a2.2 2.2 0 1 0 4.4 0a2.2 2.2 0 1 0 -4.4 0M346.1 93.3a2.2 2.2 0 1 0 4.4 0a2.2 2.2 0 1 0 -4.4 0M346.7 95a2.2 2.2 0 1 0 4.4 0a2.2 2.2 0 1 0 -4.4 0M347.9 91.1a2.2 2.2 0 1 0 4.4 0a2.2 2.2 0 1 0 -4.4 0M348.6 93.2a2.2 2.2 0 1 0 4.4 0a2.2 2.2 0 1 0 -4.4 0M349.5 96.2a2.2 2.2 0 1 0 4.4 0a2.2 2.2 0 1 0 -4.4 0M350.7 96a2.2 2.2 0 1 0 4.4 0a2.2 2.2 0 1 0 -4.4 0M351.7 97.9a2.2 2.2 0 1 0 4.4 0a2.2 2.2 0 1 0 -4.4 0M353.2 102.5a2.2 2.2 0 1 0 4.4 0a2.2 2.2 0 1 0 -4.4 0M353.9 106.6a2.2 2.2 0 1 0 4.4 0a2.2 2.2 0 1 0 -4.4 0M355.2 106.2a2.2 2.2 0 1 0 4.4 0a2.2 2.2 0 1 0 -4.4 0M356.5 108.9a2.2 2.2 0 1 0 4.4 0a2.2 2.2 0 1 0 -4.4 0M357.9 110.7a2.2 2.2 0 1 0 4.4 0a2.2 2.2 0 1 0 -4.4 0M359.3 111.2a2.2 2.2 0 1 0 4.4 0a2.2 2.2 0 1 0 -4.4 0M360.4 117.9a2.2 2.2 0 1 0 4.4 0a2.2 2.2 0 1 0 -4.4 0M362 113.5a2.2 2.2 0 1 0 4.4 0a2.2 2.2 0 1 0 -4.4 0M362.9 117.5a2.2 2.2 0 1 0 4.4 0a2.2 2.2 0 1 0 -4.4 0M364.8 121.4a2.2 2.2 0 1 0 4.4 0a2.2 2.2 0 1 0 -4.4 0M366 119.8a2.2 2.2 0 1 0 4.4 0a2.2 2.2 0 1 0 -4.4 0M368 124.3a2.2 2.2 0 1 0 4.4 0a2.2 2.2 0 1 0 -4.4 0M369.4 126.1a2.2 2.2 0 1 0 4.4 0a2.2 2.2 0 1 0 -4.4 0M370.8 124.4a2.2 2.2 0 1 0 4.4 0a2.2 2.2 0 1 0 -4.4 0M373 127.4a2.2 2.2 0 1 0 4.4 0a2.2 2.2 0 1 0 -4.4 0M374.6 127.3a2.2 2.2 0 1 0 4.4 0a2.2 2.2 0 1 0 -4.4 0M376.4 130.6a2.2 2.2 0 1 0 4.4 0a2.2 2.2 0 1 0 -4.4 0M378 131.7a2.2 2.2 0 1 0 4.4 0a2.2 2.2 0 1 0 -4.4 0M380.6 133.9a2.2 2.2 0 1 0 4.4 0a2.2 2.2 0 1 0 -4.4 0M382.3 135.8a2.2 2.2 0 1 0 4.4 0a2.2 2.2 0 1 0 -4.4 0M384.7 136.3a2.2 2.2 0 1 0 4.4 0a2.2 2.2 0 1 0 -4.4 0M386.3 137.7a2.2 2.2 0 1 0 4.4 0a2.2 2.2 0 1 0 -4.4 0M388.9 138.2a2.2 2.2 0 1 0 4.4 0a2.2 2.2 0 1 0 -4.4 0M391 137.6a2.2 2.2 0 1 0 4.4 0a2.2 2.2 0 1 0 -4.4 0M393.5 139.5a2.2 2.2 0 1 0 4.4 0a2.2 2.2 0 1 0 -4.4 0M396 140.4a2.2 2.2 0 1 0 4.4 0a2.2 2.2 0 1 0 -4.4 0" stroke="#3a3aff" stroke-width="0.55" fill="none"/>
<path d="M310 23.3a2 2 0 1 0 4 0a2 2 0 1 0 -4 0M313 22a2 2 0 1 0 4 0a2 2 0 1 0 -4 0M316 20.8a2 2 0 1 0 4 0a2 2 0 1 0 -4 0M319 21.8a2 2 0 1 0 4 0a2 2 0 1 0 -4 0M322 23.2a2 2 0 1 0 4 0a2 2 0 1 0 -4 0M325 26.1a2 2 0 1 0 4 0a2 2 0 1 0 -4 0M328 30.3a2 2 0 1 0 4 0a2 2 0 1 0 -4 0M331 36.1a2 2 0 1 0 4 0a2 2 0 1 0 -4 0M334 42.3a2 2 0 1 0 4 0a2 2 0 1 0 -4 0M337 47.6a2 2 0 1 0 4 0a2 2 0 1 0 -4 0M340 55.6a2 2 0 1 0 4 0a2 2 0 1 0 -4 0M343 61.6a2 2 0 1 0 4 0a2 2 0 1 0 -4 0M346 68.1a2 2 0 1 0 4 0a2 2 0 1 0 -4 0M349 75.6a2 2 0 1 0 4 0a2 2 0 1 0 -4 0M352 82.4a2 2 0 1 0 4 0a2 2 0 1 0 -4 0M355 88.7a2 2 0 1 0 4 0a2 2 0 1 0 -4 0M358 92.9a2 2 0 1 0 4 0a2 2 0 1 0 -4 0M361 98a2 2 0 1 0 4 0a2 2 0 1 0 -4 0M364 101.6a2 2 0 1 0 4 0a2 2 0 1 0 -4 0M367 106.2a2 2 0 1 0 4 0a2 2 0 1 0 -4 0M370 108.7a2 2 0 1 0 4 0a2 2 0 1 0 -4 0M373 112.2a2 2 0 1 0 4 0a2 2 0 1 0 -4 0M376 113.8a2 2 0 1 0 4 0a2 2 0 1 0 -4 0M379 117.3a2 2 0 1 0 4 0a2 2 0 1 0 -4 0M382 119.5a2 2 0 1 0 4 0a2 2 0 1 0 -4 0M385 123.1a2 2 0 1 0 4 0a2 2 0 1 0 -4 0M388 125.6a2 2 0 1 0 4 0a2 2 0 1 0 -4 0M391.3 127.5a2 2 0 1 0 4 0a2 2 0 1 0 -4 0M394.6 130.1a2 2 0 1 0 4 0a2 2 0 1 0 -4 0M397.9 132.3a2 2 0 1 0 4 0a2 2 0 1 0 -4 0M401.2 134a2 2 0 1 0 4 0a2 2 0 1 0 -4 0M404.5 135.9a2 2 0 1 0 4 0a2 2 0 1 0 -4 0M407.8 137.2a2 2 0 1 0 4 0a2 2 0 1 0 -4 0M411.1 138.4a2 2 0 1 0 4 0a2 2 0 1 0 -4 0M414.4 140.3a2 2 0 1 0 4 0a2 2 0 1 0 -4 0M417.7 141.3a2 2 0 1 0 4 0a2 2 0 1 0 -4 0M421 141.3a2 2 0 1 0 4 0a2 2 0 1 0 -4 0M424.3 142.5a2 2 0 1 0 4 0a2 2 0 1 0 -4 0M427.6 143.6a2 2 0 1 0 4 0a2 2 0 1 0 -4 0M430.9 144.1a2 2 0 1 0 4 0a2 2 0 1 0 -4 0M434.2 144.2a2 2 0 1 0 4 0a2 2 0 1 0 -4 0M437.5 145.1a2 2 0 1 0 4 0a2 2 0 1 0 -4 0M440.8 145.1a2 2 0 1 0 4 0a2 2 0 1 0 -4 0M444.1 144.6a2 2 0 1 0 4 0a2 2 0 1 0 -4 0" stroke="#000" stroke-width="0.7" fill="none"/>
<polyline points="266.6,106.1 267.1,105.6 267.6,105 268.1,104.5 268.6,104 269.1,103.5 269.6,103 270.1,102.5 270.6,102 271.1,101.5 271.6,101 272.1,100.5 272.6,100.1 273.1,99.6 273.6,99.1 274.1,98.7 274.6,98.2 275.1,97.8 275.6,97.4 276.1,96.9 276.6,96.5 277.1,96.1 277.6,95.7 278.1,95.2 278.6,94.8 279.1,94.4 279.6,94 280.1,93.6 280.6,93.3 281.1,92.9 281.6,92.5 282.1,92.1 282.6,91.8 283.1,91.4 283.6,91.1 284.1,90.7 284.6,90.4 285.1,90 285.6,89.7 286.1,89.4 286.6,89 287.1,88.7 287.6,88.4 288.1,88.1 288.6,87.8 289.1,87.5 289.6,87.2 290.1,86.9 290.6,86.7 291.1,86.4 291.6,86.1 292.1,85.9 292.6,85.6 293.1,85.4 293.6,85.1 294.1,84.9 294.6,84.7 295.1,84.5 295.6,84.2 296.1,84 296.6,83.8 297.1,83.6 297.6,83.3 298.1,83.1 298.6,82.8 299.1,82.6 299.6,82.4 300.1,82.1 300.6,81.9 301.1,81.7 301.6,81.5 302.1,81.3 302.6,81 303.1,80.8 303.6,80.7 304.1,80.5 304.6,80.3 305.1,80.1 305.6,80 306.1,79.8 306.6,79.7 307.1,79.6 307.6,79.5 308.1,79.4 308.6,79.4 309.1,79.3 309.6,79.3 310.1,79.3 310.6,79.3 311.1,79.4 311.6,79.4 312.1,79.5 312.6,79.6 313.1,79.7 313.6,79.8 314.1,80 314.6,80.1 315.1,80.3 315.6,80.5 316.1,80.6 316.6,80.8 317.1,81 317.6,81.3 318.1,81.5 318.6,81.7 319.1,81.9 319.6,82.2 320.1,82.4 320.6,82.7 321.1,83 321.6,83.4 322.1,83.8 322.6,84.3 323.1,84.8 323.6,85.3 324.1,85.8 324.6,86.3 325.1,86.9 325.6,87.5 326.1,88 326.6,88.6 327.1,89.2 327.6,89.7 328.1,90.3 328.6,90.8 329.1,91.3 329.6,91.8 330.1,92.3 330.6,92.7 331.1,93.2 331.6,93.6 332.1,94.1 332.6,94.5 333.1,95 333.6,95.5 334.1,96 334.6,96.5 335.1,97.1 335.6,97.7 336.1,98.4 336.6,99.1 337.1,99.9 337.6,100.7 338.1,101.5 338.6,102.3 339.1,103.1 339.6,104 340.1,104.8 340.6,105.5 341.1,106.3 341.6,107 342.1,107.7 342.6,108.4 343.1,109 343.6,109.7 344.1,110.4 344.6,111 345.1,111.7 345.6,112.3 346.1,113 346.6,113.6 347.1,114.2 347.6,114.8 348.1,115.4 348.6,116 349.1,116.6 349.6,117.2 350.1,117.7 350.6,118.3 351.1,118.8 351.6,119.4 352.1,119.9 352.6,120.4 353.1,120.9 353.6,121.4 354.1,121.9 354.6,122.4 355.1,122.9 355.6,123.4 356.1,123.9 356.6,124.4 357.1,124.8 357.6,125.3 358.1,125.7 358.6,126.2 359.1,126.6 359.6,127 360.1,127.4 360.6,127.9 361.1,128.3 361.6,128.7 362.1,129.1 362.6,129.5 363.1,129.9 363.6,130.3 364.1,130.7 364.6,131.1 365.1,131.4 365.6,131.8 366.1,132.2 366.6,132.5 367.1,132.8 367.6,133.1 368.1,133.4 368.6,133.8 369.1,134.1 369.6,134.3 370.1,134.6 370.6,134.9 371.1,135.2 371.6,135.5 372.1,135.8 372.6,136.1 373.1,136.3 373.6,136.6 374.1,136.9 374.6,137.1 375.1,137.4 375.6,137.6 376.1,137.8 376.6,138.1 377.1,138.3 377.6,138.5 378.1,138.8 378.6,139 379.1,139.2 379.6,139.4 380.1,139.6 380.6,139.8 381.1,140 381.6,140.1 382.1,140.3 382.6,140.5 383.1,140.7 383.6,140.8 384.1,141 384.6,141.1 385.1,141.3 385.6,141.5 386.1,141.6 386.6,141.8 387.1,141.9 387.6,142.1 388.1,142.2 388.6,142.4 389.1,142.5 389.6,142.7 390.1,142.8 390.6,142.9 391.1,143.1 391.6,143.2 392.1,143.3 392.6,143.4 393.1,143.6 393.6,143.7 394.1,143.8 394.6,143.9 395.1,144 395.6,144.1 396.1,144.3 396.6,144.4 397.1,144.5 397.6,144.6 398.1,144.7 398.6,144.8 399.1,144.8 399.6,144.9 400.1,145 400.6,145.1 401.1,145.2 401.6,145.3 402.1,145.3 402.6,145.4 403.1,145.5 403.6,145.6 404.1,145.7 404.6,145.7 405.1,145.8 405.6,145.9 406.1,146 406.6,146 407.1,146.1 407.6,146.2 408.1,146.2 408.6,146.3 409.1,146.4 409.6,146.4 410.1,146.5 410.6,146.5 411.1,146.6 411.6,146.7 412.1,146.7 412.6,146.8 413.1,146.8 413.6,146.9 414.1,146.9 414.6,147 415.1,147 415.6,147.1 416.1,147.1 416.6,147.2 417.1,147.2 417.6,147.3 418.1,147.3 418.6,147.4 419.1,147.4 419.6,147.5 420.1,147.5 420.6,147.5 421.1,147.6 421.6,147.6 422.1,147.7 422.6,147.7 423.1,147.8 423.6,147.8 424.1,147.8 424.6,147.9 425.1,147.9 425.6,148 426.1,148 426.6,148 427.1,148.1 427.6,148.1 428.1,148.1 428.6,148.2 429.1,148.2 429.6,148.3 430.1,148.3 430.6,148.3 431.1,148.4 431.6,148.4 432.1,148.4 432.6,148.5 433.1,148.5 433.6,148.5 434.1,148.6 434.6,148.6 435.1,148.6 435.6,148.6 436.1,148.7 436.6,148.7 437.1,148.7 437.6,148.8 438.1,148.8 438.6,148.8 439.1,148.8 439.6,148.9 440.1,148.9 440.6,148.9 441.1,148.9 441.6,148.9 442.1,149 442.6,149 443.1,149 443.6,149 444.1,149 444.6,149.1 445.1,149.1 445.6,149.1 446.1,149.1" fill="none" stroke="#9a2bd0" stroke-width="2.4" stroke-linejoin="round" stroke-linecap="round" opacity="1.0" />
<polyline points="266.6,104.5 267.1,103.9 267.6,103.3 268.1,102.8 268.6,102.2 269.1,101.7 269.6,101.1 270.1,100.6 270.6,100 271.1,99.5 271.6,98.9 272.1,98.4 272.6,97.9 273.1,97.4 273.6,96.9 274.1,96.4 274.6,95.9 275.1,95.4 275.6,94.9 276.1,94.4 276.6,93.9 277.1,93.5 277.6,93 278.1,92.5 278.6,92.1 279.1,91.6 279.6,91.2 280.1,90.8 280.6,90.3 281.1,89.9 281.6,89.5 282.1,89.1 282.6,88.7 283.1,88.3 283.6,87.9 284.1,87.5 284.6,87.2 285.1,86.8 285.6,86.4 286.1,86.1 286.6,85.7 287.1,85.4 287.6,85 288.1,84.7 288.6,84.3 289.1,84 289.6,83.7 290.1,83.3 290.6,83 291.1,82.7 291.6,82.4 292.1,82.1 292.6,81.8 293.1,81.5 293.6,81.2 294.1,80.9 294.6,80.6 295.1,80.4 295.6,80.1 296.1,79.9 296.6,79.6 297.1,79.4 297.6,79.1 298.1,78.9 298.6,78.7 299.1,78.5 299.6,78.2 300.1,78 300.6,77.8 301.1,77.6 301.6,77.3 302.1,77.1 302.6,76.9 303.1,76.7 303.6,76.4 304.1,76.2 304.6,76 305.1,75.8 305.6,75.7 306.1,75.5 306.6,75.3 307.1,75.2 307.6,75.1 308.1,75 308.6,74.9 309.1,74.8 309.6,74.8 310.1,74.8 310.6,74.8 311.1,74.8 311.6,74.9 312.1,74.9 312.6,75 313.1,75 313.6,75.1 314.1,75.2 314.6,75.2 315.1,75.3 315.6,75.4 316.1,75.5 316.6,75.7 317.1,75.8 317.6,75.9 318.1,76 318.6,76.2 319.1,76.4 319.6,76.7 320.1,77 320.6,77.4 321.1,77.8 321.6,78.2 322.1,78.6 322.6,79.1 323.1,79.6 323.6,80.1 324.1,80.6 324.6,81.2 325.1,81.9 325.6,82.6 326.1,83.4 326.6,84.3 327.1,85.1 327.6,86 328.1,86.8 328.6,87.5 329.1,88.2 329.6,88.9 330.1,89.4 330.6,90 331.1,90.5 331.6,91 332.1,91.5 332.6,92 333.1,92.4 333.6,92.9 334.1,93.5 334.6,94 335.1,94.6 335.6,95.3 336.1,95.9 336.6,96.6 337.1,97.3 337.6,98.1 338.1,98.8 338.6,99.6 339.1,100.3 339.6,101.1 340.1,101.8 340.6,102.6 341.1,103.3 341.6,104 342.1,104.7 342.6,105.4 343.1,106.1 343.6,106.8 344.1,107.5 344.6,108.1 345.1,108.8 345.6,109.5 346.1,110.2 346.6,110.8 347.1,111.5 347.6,112.1 348.1,112.8 348.6,113.4 349.1,114 349.6,114.6 350.1,115.2 350.6,115.8 351.1,116.4 351.6,117 352.1,117.6 352.6,118.1 353.1,118.7 353.6,119.2 354.1,119.8 354.6,120.3 355.1,120.9 355.6,121.4 356.1,121.9 356.6,122.4 357.1,122.9 357.6,123.4 358.1,123.9 358.6,124.4 359.1,124.9 359.6,125.3 360.1,125.8 360.6,126.3 361.1,126.7 361.6,127.2 362.1,127.6 362.6,128.1 363.1,128.5 363.6,128.9 364.1,129.3 364.6,129.7 365.1,130.1 365.6,130.5 366.1,130.9 366.6,131.3 367.1,131.6 367.6,132 368.1,132.3 368.6,132.7 369.1,133 369.6,133.3 370.1,133.7 370.6,134 371.1,134.3 371.6,134.6 372.1,134.9 372.6,135.2 373.1,135.5 373.6,135.7 374.1,136 374.6,136.3 375.1,136.6 375.6,136.8 376.1,137.1 376.6,137.3 377.1,137.6 377.6,137.8 378.1,138.1 378.6,138.3 379.1,138.6 379.6,138.8 380.1,139.1 380.6,139.3 381.1,139.5 381.6,139.7 382.1,139.9 382.6,140.1 383.1,140.3 383.6,140.5 384.1,140.7 384.6,140.9 385.1,141 385.6,141.2 386.1,141.3 386.6,141.5 387.1,141.6 387.6,141.8 388.1,141.9 388.6,142 389.1,142.1 389.6,142.3 390.1,142.4 390.6,142.5 391.1,142.6 391.6,142.7 392.1,142.9 392.6,143 393.1,143.1 393.6,143.2 394.1,143.3 394.6,143.4 395.1,143.5 395.6,143.6 396.1,143.7 396.6,143.8 397.1,143.9 397.6,144 398.1,144.1 398.6,144.2 399.1,144.2 399.6,144.3 400.1,144.4 400.6,144.5 401.1,144.6 401.6,144.7 402.1,144.8 402.6,144.8 403.1,144.9 403.6,145 404.1,145.1 404.6,145.2 405.1,145.3 405.6,145.3 406.1,145.4 406.6,145.5 407.1,145.6 407.6,145.7 408.1,145.7 408.6,145.8 409.1,145.9 409.6,146 410.1,146 410.6,146.1 411.1,146.2 411.6,146.2 412.1,146.3 412.6,146.4 413.1,146.4 413.6,146.5 414.1,146.6 414.6,146.6 415.1,146.7 415.6,146.8 416.1,146.8 416.6,146.9 417.1,146.9 417.6,147 418.1,147 418.6,147.1 419.1,147.1 419.6,147.2 420.1,147.2 420.6,147.3 421.1,147.3 421.6,147.3 422.1,147.4 422.6,147.4 423.1,147.5 423.6,147.5 424.1,147.5 424.6,147.6 425.1,147.6 425.6,147.7 426.1,147.7 426.6,147.8 427.1,147.8 427.6,147.8 428.1,147.9 428.6,147.9 429.1,147.9 429.6,148 430.1,148 430.6,148.1 431.1,148.1 431.6,148.1 432.1,148.2 432.6,148.2 433.1,148.2 433.6,148.3 434.1,148.3 434.6,148.3 435.1,148.4 435.6,148.4 436.1,148.4 436.6,148.4 437.1,148.5 437.6,148.5 438.1,148.5 438.6,148.5 439.1,148.6 439.6,148.6 440.1,148.6 440.6,148.6 441.1,148.7 441.6,148.7 442.1,148.7 442.6,148.7 443.1,148.7 443.6,148.7 444.1,148.8 444.6,148.8 445.1,148.8 445.6,148.8 446.1,148.8" fill="none" stroke="#f0a830" stroke-width="2.4" stroke-linejoin="round" stroke-linecap="round" opacity="1.0" />
<polyline points="266.6,103.5 267.1,102.8 267.6,102.2 268.1,101.5 268.6,100.9 269.1,100.2 269.6,99.6 270.1,98.9 270.6,98.3 271.1,97.7 271.6,97.1 272.1,96.5 272.6,95.9 273.1,95.3 273.6,94.8 274.1,94.2 274.6,93.6 275.1,93.1 275.6,92.5 276.1,92 276.6,91.5 277.1,90.9 277.6,90.4 278.1,89.9 278.6,89.4 279.1,88.9 279.6,88.4 280.1,87.9 280.6,87.5 281.1,87 281.6,86.5 282.1,86.1 282.6,85.6 283.1,85.2 283.6,84.8 284.1,84.4 284.6,83.9 285.1,83.5 285.6,83.1 286.1,82.7 286.6,82.4 287.1,82 287.6,81.6 288.1,81.3 288.6,80.9 289.1,80.6 289.6,80.3 290.1,79.9 290.6,79.6 291.1,79.3 291.6,79 292.1,78.7 292.6,78.4 293.1,78.1 293.6,77.8 294.1,77.5 294.6,77.2 295.1,76.9 295.6,76.7 296.1,76.4 296.6,76.1 297.1,75.8 297.6,75.6 298.1,75.3 298.6,75.1 299.1,74.8 299.6,74.6 300.1,74.4 300.6,74.2 301.1,74 301.6,73.7 302.1,73.5 302.6,73.3 303.1,73.1 303.6,72.9 304.1,72.7 304.6,72.5 305.1,72.3 305.6,72.1 306.1,71.9 306.6,71.8 307.1,71.6 307.6,71.5 308.1,71.4 308.6,71.3 309.1,71.3 309.6,71.2 310.1,71.2 310.6,71.2 311.1,71.2 311.6,71.3 312.1,71.3 312.6,71.3 313.1,71.4 313.6,71.5 314.1,71.6 314.6,71.7 315.1,71.8 315.6,71.9 316.1,72 316.6,72.1 317.1,72.3 317.6,72.4 318.1,72.5 318.6,72.7 319.1,73 319.6,73.3 320.1,73.6 320.6,74 321.1,74.5 321.6,75 322.1,75.5 322.6,76 323.1,76.5 323.6,77.1 324.1,77.6 324.6,78.2 325.1,79 325.6,79.8 326.1,80.7 326.6,81.5 327.1,82.5 327.6,83.3 328.1,84.2 328.6,85 329.1,85.7 329.6,86.4 330.1,87 330.6,87.5 331.1,88 331.6,88.5 332.1,89 332.6,89.5 333.1,89.9 333.6,90.4 334.1,91 334.6,91.5 335.1,92.1 335.6,92.8 336.1,93.5 336.6,94.2 337.1,95 337.6,95.7 338.1,96.5 338.6,97.3 339.1,98.1 339.6,98.9 340.1,99.7 340.6,100.5 341.1,101.3 341.6,102 342.1,102.7 342.6,103.4 343.1,104.1 343.6,104.8 344.1,105.5 344.6,106.2 345.1,106.9 345.6,107.6 346.1,108.2 346.6,108.9 347.1,109.5 347.6,110.2 348.1,110.8 348.6,111.5 349.1,112.1 349.6,112.7 350.1,113.3 350.6,114 351.1,114.6 351.6,115.2 352.1,115.8 352.6,116.3 353.1,116.9 353.6,117.5 354.1,118.1 354.6,118.7 355.1,119.2 355.6,119.8 356.1,120.3 356.6,120.8 357.1,121.4 357.6,121.9 358.1,122.4 358.6,122.9 359.1,123.4 359.6,123.9 360.1,124.4 360.6,124.9 361.1,125.3 361.6,125.8 362.1,126.3 362.6,126.7 363.1,127.2 363.6,127.6 364.1,128.1 364.6,128.5 365.1,128.9 365.6,129.3 366.1,129.7 366.6,130.1 367.1,130.4 367.6,130.8 368.1,131.2 368.6,131.5 369.1,131.9 369.6,132.2 370.1,132.6 370.6,132.9 371.1,133.2 371.6,133.5 372.1,133.8 372.6,134.1 373.1,134.4 373.6,134.7 374.1,135 374.6,135.3 375.1,135.6 375.6,135.8 376.1,136.1 376.6,136.3 377.1,136.6 377.6,136.8 378.1,137.1 378.6,137.3 379.1,137.6 379.6,137.8 380.1,138 380.6,138.3 381.1,138.5 381.6,138.7 382.1,138.9 382.6,139.1 383.1,139.3 383.6,139.5 384.1,139.7 384.6,139.9 385.1,140 385.6,140.2 386.1,140.4 386.6,140.5 387.1,140.7 387.6,140.8 388.1,141 388.6,141.1 389.1,141.3 389.6,141.4 390.1,141.5 390.6,141.7 391.1,141.8 391.6,141.9 392.1,142.1 392.6,142.2 393.1,142.3 393.6,142.4 394.1,142.5 394.6,142.7 395.1,142.8 395.6,142.9 396.1,143 396.6,143.1 397.1,143.2 397.6,143.3 398.1,143.4 398.6,143.5 399.1,143.6 399.6,143.7 400.1,143.8 400.6,143.9 401.1,144 401.6,144.1 402.1,144.2 402.6,144.3 403.1,144.4 403.6,144.5 404.1,144.6 404.6,144.6 405.1,144.7 405.6,144.8 406.1,144.9 406.6,145 407.1,145.1 407.6,145.2 408.1,145.2 408.6,145.3 409.1,145.4 409.6,145.5 410.1,145.6 410.6,145.6 411.1,145.7 411.6,145.8 412.1,145.8 412.6,145.9 413.1,146 413.6,146.1 414.1,146.1 414.6,146.2 415.1,146.3 415.6,146.3 416.1,146.4 416.6,146.4 417.1,146.5 417.6,146.6 418.1,146.6 418.6,146.7 419.1,146.7 419.6,146.8 420.1,146.8 420.6,146.9 421.1,146.9 421.6,147 422.1,147 422.6,147 423.1,147.1 423.6,147.1 424.1,147.2 424.6,147.2 425.1,147.3 425.6,147.3 426.1,147.4 426.6,147.4 427.1,147.5 427.6,147.5 428.1,147.5 428.6,147.6 429.1,147.6 429.6,147.7 430.1,147.7 430.6,147.7 431.1,147.8 431.6,147.8 432.1,147.9 432.6,147.9 433.1,147.9 433.6,148 434.1,148 434.6,148 435.1,148.1 435.6,148.1 436.1,148.1 436.6,148.2 437.1,148.2 437.6,148.2 438.1,148.3 438.6,148.3 439.1,148.3 439.6,148.3 440.1,148.4 440.6,148.4 441.1,148.4 441.6,148.4 442.1,148.5 442.6,148.5 443.1,148.5 443.6,148.5 444.1,148.5 444.6,148.6 445.1,148.6 445.6,148.6 446.1,148.6" fill="none" stroke="#ff1a1a" stroke-width="2.4" stroke-linejoin="round" stroke-linecap="round" opacity="1.0" />
<polyline points="266.6,102.8 267.1,101.8 267.6,100.8 268.1,99.8 268.6,98.9 269.1,97.9 269.6,97 270.1,96 270.6,95.1 271.1,94.2 271.6,93.3 272.1,92.4 272.6,91.5 273.1,90.6 273.6,89.7 274.1,88.9 274.6,88.1 275.1,87.2 275.6,86.4 276.1,85.6 276.6,84.8 277.1,84 277.6,83.3 278.1,82.5 278.6,81.8 279.1,81 279.6,80.3 280.1,79.6 280.6,78.9 281.1,78.3 281.6,77.6 282.1,76.9 282.6,76.3 283.1,75.7 283.6,75.1 284.1,74.5 284.6,73.9 285.1,73.4 285.6,72.9 286.1,72.3 286.6,71.8 287.1,71.3 287.6,70.8 288.1,70.4 288.6,69.9 289.1,69.4 289.6,68.9 290.1,68.4 290.6,68 291.1,67.5 291.6,67 292.1,66.5 292.6,66 293.1,65.5 293.6,65 294.1,64.5 294.6,63.9 295.1,63.4 295.6,62.8 296.1,62.2 296.6,61.5 297.1,60.9 297.6,60.3 298.1,59.7 298.6,59.1 299.1,58.6 299.6,58.1 300.1,57.6 300.6,57.2 301.1,56.7 301.6,56.2 302.1,55.7 302.6,55.2 303.1,54.7 303.6,54.2 304.1,53.8 304.6,53.3 305.1,52.9 305.6,52.4 306.1,52 306.6,51.7 307.1,51.3 307.6,51 308.1,50.7 308.6,50.4 309.1,50.1 309.6,49.9 310.1,49.8 310.6,49.6 311.1,49.5 311.6,49.5 312.1,49.5 312.6,49.5 313.1,49.6 313.6,49.7 314.1,49.8 314.6,49.9 315.1,50 315.6,50.2 316.1,50.3 316.6,50.5 317.1,50.7 317.6,50.9 318.1,51.1 318.6,51.3 319.1,51.6 319.6,51.8 320.1,52 320.6,52.3 321.1,52.6 321.6,53 322.1,53.4 322.6,53.9 323.1,54.4 323.6,54.9 324.1,55.5 324.6,56.1 325.1,56.7 325.6,57.3 326.1,58 326.6,58.7 327.1,59.4 327.6,60.1 328.1,60.8 328.6,61.5 329.1,62.2 329.6,62.9 330.1,63.7 330.6,64.6 331.1,65.4 331.6,66.3 332.1,67.3 332.6,68.3 333.1,69.3 333.6,70.3 334.1,71.4 334.6,72.4 335.1,73.5 335.6,74.6 336.1,75.8 336.6,77.1 337.1,78.4 337.6,79.7 338.1,81 338.6,82.3 339.1,83.7 339.6,85 340.1,86.3 340.6,87.6 341.1,88.8 341.6,89.9 342.1,91 342.6,92.1 343.1,93.1 343.6,94.2 344.1,95.2 344.6,96.2 345.1,97.2 345.6,98.2 346.1,99.2 346.6,100.1 347.1,101 347.6,101.9 348.1,102.8 348.6,103.7 349.1,104.6 349.6,105.5 350.1,106.3 350.6,107.2 351.1,108 351.6,108.8 352.1,109.7 352.6,110.5 353.1,111.2 353.6,112 354.1,112.8 354.6,113.5 355.1,114.3 355.6,115 356.1,115.7 356.6,116.4 357.1,117.1 357.6,117.8 358.1,118.4 358.6,119.1 359.1,119.8 359.6,120.4 360.1,121 360.6,121.7 361.1,122.3 361.6,122.9 362.1,123.5 362.6,124 363.1,124.6 363.6,125.1 364.1,125.6 364.6,126.1 365.1,126.6 365.6,127 366.1,127.5 366.6,127.9 367.1,128.4 367.6,128.8 368.1,129.2 368.6,129.6 369.1,130 369.6,130.4 370.1,130.7 370.6,131.1 371.1,131.5 371.6,131.8 372.1,132.1 372.6,132.5 373.1,132.8 373.6,133.1 374.1,133.4 374.6,133.8 375.1,134.1 375.6,134.4 376.1,134.7 376.6,134.9 377.1,135.2 377.6,135.5 378.1,135.8 378.6,136.1 379.1,136.3 379.6,136.6 380.1,136.9 380.6,137.1 381.1,137.4 381.6,137.6 382.1,137.8 382.6,138.1 383.1,138.3 383.6,138.5 384.1,138.7 384.6,138.9 385.1,139 385.6,139.2 386.1,139.4 386.6,139.5 387.1,139.7 387.6,139.8 388.1,140 388.6,140.1 389.1,140.3 389.6,140.4 390.1,140.6 390.6,140.7 391.1,140.8 391.6,140.9 392.1,141.1 392.6,141.2 393.1,141.3 393.6,141.4 394.1,141.6 394.6,141.7 395.1,141.8 395.6,141.9 396.1,142 396.6,142.1 397.1,142.2 397.6,142.3 398.1,142.4 398.6,142.5 399.1,142.6 399.6,142.7 400.1,142.8 400.6,142.9 401.1,143 401.6,143.1 402.1,143.2 402.6,143.3 403.1,143.4 403.6,143.5 404.1,143.6 404.6,143.7 405.1,143.8 405.6,143.9 406.1,143.9 406.6,144 407.1,144.1 407.6,144.2 408.1,144.3 408.6,144.4 409.1,144.5 409.6,144.5 410.1,144.6 410.6,144.7 411.1,144.8 411.6,144.9 412.1,144.9 412.6,145 413.1,145.1 413.6,145.2 414.1,145.2 414.6,145.3 415.1,145.4 415.6,145.4 416.1,145.5 416.6,145.6 417.1,145.6 417.6,145.7 418.1,145.8 418.6,145.8 419.1,145.9 419.6,146 420.1,146 420.6,146.1 421.1,146.1 421.6,146.2 422.1,146.2 422.6,146.3 423.1,146.3 423.6,146.4 424.1,146.5 424.6,146.5 425.1,146.6 425.6,146.6 426.1,146.7 426.6,146.7 427.1,146.8 427.6,146.8 428.1,146.9 428.6,146.9 429.1,147 429.6,147 430.1,147.1 430.6,147.1 431.1,147.2 431.6,147.2 432.1,147.3 432.6,147.3 433.1,147.4 433.6,147.4 434.1,147.5 434.6,147.5 435.1,147.5 435.6,147.6 436.1,147.6 436.6,147.7 437.1,147.7 437.6,147.7 438.1,147.8 438.6,147.8 439.1,147.9 439.6,147.9 440.1,147.9 440.6,148 441.1,148 441.6,148 442.1,148.1 442.6,148.1 443.1,148.1 443.6,148.2 444.1,148.2 444.6,148.2 445.1,148.2 445.6,148.3 446.1,148.3" fill="none" stroke="#22b322" stroke-width="2.4" stroke-linejoin="round" stroke-linecap="round" opacity="1.0" />
<polyline points="266.6,101.2 267.1,100.2 267.6,99.1 268.1,98.1 268.6,97 269.1,96 269.6,95 270.1,93.9 270.6,92.9 271.1,91.8 271.6,90.8 272.1,89.7 272.6,88.7 273.1,87.6 273.6,86.6 274.1,85.5 274.6,84.5 275.1,83.4 275.6,82.4 276.1,81.3 276.6,80.3 277.1,79.2 277.6,78.2 278.1,77.1 278.6,76.1 279.1,75 279.6,74 280.1,72.9 280.6,71.8 281.1,70.7 281.6,69.6 282.1,68.4 282.6,67.3 283.1,66.1 283.6,65 284.1,63.9 284.6,62.7 285.1,61.6 285.6,60.4 286.1,59.3 286.6,58.2 287.1,57.1 287.6,56 288.1,54.9 288.6,53.8 289.1,52.8 289.6,51.8 290.1,50.8 290.6,49.8 291.1,48.9 291.6,48 292.1,47.2 292.6,46.3 293.1,45.5 293.6,44.7 294.1,43.9 294.6,43.1 295.1,42.3 295.6,41.5 296.1,40.7 296.6,39.9 297.1,39.2 297.6,38.5 298.1,37.8 298.6,37.1 299.1,36.5 299.6,35.9 300.1,35.3 300.6,34.8 301.1,34.3 301.6,33.9 302.1,33.5 302.6,33.1 303.1,32.8 303.6,32.5 304.1,32.2 304.6,31.9 305.1,31.6 305.6,31.3 306.1,31.1 306.6,30.8 307.1,30.5 307.6,30.3 308.1,30.1 308.6,29.8 309.1,29.7 309.6,29.5 310.1,29.3 310.6,29.2 311.1,29 311.6,29 312.1,28.9 312.6,28.8 313.1,28.8 313.6,28.8 314.1,28.9 314.6,29 315.1,29.2 315.6,29.4 316.1,29.7 316.6,30 317.1,30.3 317.6,30.6 318.1,31 318.6,31.4 319.1,31.8 319.6,32.2 320.1,32.6 320.6,33 321.1,33.5 321.6,34.1 322.1,34.7 322.6,35.4 323.1,36.1 323.6,36.9 324.1,37.7 324.6,38.5 325.1,39.3 325.6,40.2 326.1,41.1 326.6,42 327.1,42.9 327.6,43.8 328.1,44.7 328.6,45.6 329.1,46.5 329.6,47.5 330.1,48.4 330.6,49.5 331.1,50.5 331.6,51.6 332.1,52.7 332.6,53.8 333.1,54.9 333.6,56.1 334.1,57.2 334.6,58.4 335.1,59.6 335.6,60.9 336.1,62.2 336.6,63.5 337.1,64.8 337.6,66.1 338.1,67.4 338.6,68.7 339.1,70 339.6,71.3 340.1,72.6 340.6,73.9 341.1,75.2 341.6,76.5 342.1,77.8 342.6,79.1 343.1,80.4 343.6,81.6 344.1,82.8 344.6,84 345.1,85.1 345.6,86.2 346.1,87.3 346.6,88.4 347.1,89.4 347.6,90.4 348.1,91.4 348.6,92.4 349.1,93.4 349.6,94.4 350.1,95.3 350.6,96.3 351.1,97.2 351.6,98.2 352.1,99.2 352.6,100.1 353.1,101.1 353.6,102 354.1,103 354.6,104 355.1,104.9 355.6,105.8 356.1,106.8 356.6,107.7 357.1,108.6 357.6,109.4 358.1,110.3 358.6,111.1 359.1,111.9 359.6,112.7 360.1,113.4 360.6,114.1 361.1,114.8 361.6,115.5 362.1,116.2 362.6,116.8 363.1,117.5 363.6,118.1 364.1,118.7 364.6,119.3 365.1,119.9 365.6,120.5 366.1,121 366.6,121.6 367.1,122.1 367.6,122.5 368.1,123 368.6,123.4 369.1,123.9 369.6,124.3 370.1,124.6 370.6,125 371.1,125.3 371.6,125.7 372.1,126 372.6,126.3 373.1,126.7 373.6,127 374.1,127.3 374.6,127.7 375.1,128.1 375.6,128.5 376.1,128.9 376.6,129.3 377.1,129.7 377.6,130.1 378.1,130.6 378.6,131 379.1,131.5 379.6,131.9 380.1,132.3 380.6,132.8 381.1,133.2 381.6,133.6 382.1,134 382.6,134.3 383.1,134.7 383.6,135 384.1,135.3 384.6,135.6 385.1,135.8 385.6,136.1 386.1,136.3 386.6,136.5 387.1,136.8 387.6,137 388.1,137.2 388.6,137.4 389.1,137.6 389.6,137.8 390.1,138 390.6,138.2 391.1,138.4 391.6,138.6 392.1,138.8 392.6,138.9 393.1,139.1 393.6,139.3 394.1,139.4 394.6,139.6 395.1,139.8 395.6,139.9 396.1,140.1 396.6,140.2 397.1,140.4 397.6,140.5 398.1,140.7 398.6,140.8 399.1,141 399.6,141.1 400.1,141.2 400.6,141.4 401.1,141.5 401.6,141.6 402.1,141.8 402.6,141.9 403.1,142 403.6,142.2 404.1,142.3 404.6,142.4 405.1,142.5 405.6,142.7 406.1,142.8 406.6,142.9 407.1,143 407.6,143.2 408.1,143.3 408.6,143.4 409.1,143.5 409.6,143.6 410.1,143.7 410.6,143.8 411.1,143.9 411.6,144 412.1,144.1 412.6,144.2 413.1,144.3 413.6,144.4 414.1,144.5 414.6,144.6 415.1,144.7 415.6,144.8 416.1,144.9 416.6,145 417.1,145.1 417.6,145.1 418.1,145.2 418.6,145.3 419.1,145.4 419.6,145.4 420.1,145.5 420.6,145.6 421.1,145.6 421.6,145.7 422.1,145.8 422.6,145.8 423.1,145.9 423.6,146 424.1,146 424.6,146.1 425.1,146.2 425.6,146.2 426.1,146.3 426.6,146.4 427.1,146.4 427.6,146.5 428.1,146.5 428.6,146.6 429.1,146.7 429.6,146.7 430.1,146.8 430.6,146.8 431.1,146.9 431.6,146.9 432.1,147 432.6,147 433.1,147.1 433.6,147.1 434.1,147.2 434.6,147.2 435.1,147.3 435.6,147.3 436.1,147.4 436.6,147.4 437.1,147.5 437.6,147.5 438.1,147.6 438.6,147.6 439.1,147.6 439.6,147.7 440.1,147.7 440.6,147.7 441.1,147.8 441.6,147.8 442.1,147.8 442.6,147.8 443.1,147.9 443.6,147.9 444.1,147.9 444.6,147.9 445.1,148 445.6,148 446.1,148" fill="none" stroke="#1010ff" stroke-width="2.4" stroke-linejoin="round" stroke-linecap="round" opacity="1.0" />
<polyline points="266.6,99.5 267.1,98.6 267.6,97.7 268.1,96.7 268.6,95.8 269.1,94.9 269.6,93.9 270.1,93 270.6,92 271.1,91.1 271.6,90.1 272.1,89.1 272.6,88.1 273.1,87.1 273.6,86.2 274.1,85.2 274.6,84.1 275.1,83.1 275.6,82.1 276.1,81.1 276.6,80.1 277.1,79 277.6,77.9 278.1,76.9 278.6,75.8 279.1,74.7 279.6,73.6 280.1,72.5 280.6,71.4 281.1,70.3 281.6,69.1 282.1,68 282.6,66.9 283.1,65.8 283.6,64.7 284.1,63.6 284.6,62.5 285.1,61.4 285.6,60.3 286.1,59.3 286.6,58.2 287.1,57.1 287.6,56 288.1,54.9 288.6,53.8 289.1,52.7 289.6,51.7 290.1,50.6 290.6,49.6 291.1,48.6 291.6,47.7 292.1,46.8 292.6,46 293.1,45.2 293.6,44.4 294.1,43.6 294.6,42.8 295.1,42.1 295.6,41.4 296.1,40.7 296.6,40 297.1,39.3 297.6,38.6 298.1,37.9 298.6,37.3 299.1,36.6 299.6,36 300.1,35.3 300.6,34.7 301.1,34 301.6,33.3 302.1,32.7 302.6,32 303.1,31.4 303.6,30.8 304.1,30.2 304.6,29.6 305.1,29 305.6,28.4 306.1,27.8 306.6,27.3 307.1,26.8 307.6,26.3 308.1,25.8 308.6,25.4 309.1,25 309.6,24.6 310.1,24.2 310.6,23.8 311.1,23.4 311.6,23 312.1,22.6 312.6,22.2 313.1,21.9 313.6,21.5 314.1,21.2 314.6,20.9 315.1,20.6 315.6,20.4 316.1,20.2 316.6,20.1 317.1,20 317.6,20 318.1,20 318.6,20.1 319.1,20.2 319.6,20.3 320.1,20.5 320.6,20.7 321.1,20.9 321.6,21.2 322.1,21.5 322.6,21.8 323.1,22.1 323.6,22.5 324.1,22.8 324.6,23.2 325.1,23.6 325.6,24 326.1,24.5 326.6,24.9 327.1,25.3 327.6,25.8 328.1,26.4 328.6,27 329.1,27.8 329.6,28.6 330.1,29.5 330.6,30.5 331.1,31.5 331.6,32.5 332.1,33.5 332.6,34.6 333.1,35.7 333.6,36.7 334.1,37.7 334.6,38.7 335.1,39.7 335.6,40.7 336.1,41.7 336.6,42.7 337.1,43.7 337.6,44.7 338.1,45.8 338.6,46.8 339.1,47.9 339.6,49 340.1,50 340.6,51.1 341.1,52.2 341.6,53.3 342.1,54.5 342.6,55.6 343.1,56.7 343.6,57.9 344.1,59.1 344.6,60.3 345.1,61.4 345.6,62.6 346.1,63.8 346.6,64.9 347.1,66.1 347.6,67.2 348.1,68.4 348.6,69.5 349.1,70.7 349.6,71.9 350.1,73 350.6,74.2 351.1,75.4 351.6,76.5 352.1,77.7 352.6,78.8 353.1,79.9 353.6,81 354.1,82.1 354.6,83.1 355.1,84.1 355.6,85.1 356.1,86.1 356.6,87 357.1,87.8 357.6,88.7 358.1,89.5 358.6,90.3 359.1,91.1 359.6,91.9 360.1,92.7 360.6,93.4 361.1,94.2 361.6,95 362.1,95.8 362.6,96.5 363.1,97.3 363.6,98 364.1,98.7 364.6,99.4 365.1,100 365.6,100.7 366.1,101.3 366.6,101.9 367.1,102.4 367.6,103 368.1,103.6 368.6,104.1 369.1,104.6 369.6,105.2 370.1,105.7 370.6,106.2 371.1,106.8 371.6,107.3 372.1,107.8 372.6,108.3 373.1,108.8 373.6,109.2 374.1,109.7 374.6,110.2 375.1,110.7 375.6,111.2 376.1,111.6 376.6,112.1 377.1,112.6 377.6,113.1 378.1,113.5 378.6,114 379.1,114.5 379.6,114.9 380.1,115.4 380.6,115.9 381.1,116.3 381.6,116.8 382.1,117.3 382.6,117.8 383.1,118.3 383.6,118.7 384.1,119.2 384.6,119.6 385.1,120.1 385.6,120.5 386.1,120.9 386.6,121.3 387.1,121.7 387.6,122.1 388.1,122.5 388.6,122.9 389.1,123.3 389.6,123.6 390.1,124" fill="none" stroke="#000000" stroke-width="2.4" stroke-linejoin="round" stroke-linecap="round" opacity="1.0" />
</g>
<rect x="266.5" y="5.9" width="180" height="143.6" fill="none" stroke="#959595" stroke-width="1.3"/>
<line x1="266.5" y1="149.5" x2="266.5" y2="149.5" stroke="#a0a0a0" stroke-width="0.8"/>
<text x="262.2" y="152.3" font-size="8.0" text-anchor="end" fill="#1e1e1e">0</text>
<line x1="266.5" y1="91.8" x2="271.5" y2="91.8" stroke="#a0a0a0" stroke-width="0.8"/>
<text x="262.2" y="94.6" font-size="8.0" text-anchor="end" fill="#1e1e1e">0.5</text>
<line x1="266.5" y1="34.1" x2="271.5" y2="34.1" stroke="#a0a0a0" stroke-width="0.8"/>
<text x="262.2" y="36.9" font-size="8.0" text-anchor="end" fill="#1e1e1e">1.0</text>
<line x1="272.7" y1="149.5" x2="272.7" y2="147" stroke="#a0a0a0" stroke-width="0.8"/>
<line x1="277.9" y1="149.5" x2="277.9" y2="147" stroke="#a0a0a0" stroke-width="0.8"/>
<line x1="282.5" y1="149.5" x2="282.5" y2="147" stroke="#a0a0a0" stroke-width="0.8"/>
<line x1="286.5" y1="149.5" x2="286.5" y2="147" stroke="#a0a0a0" stroke-width="0.8"/>
<line x1="313.6" y1="149.5" x2="313.6" y2="147" stroke="#a0a0a0" stroke-width="0.8"/>
<line x1="327.4" y1="149.5" x2="327.4" y2="147" stroke="#a0a0a0" stroke-width="0.8"/>
<line x1="337.1" y1="149.5" x2="337.1" y2="147" stroke="#a0a0a0" stroke-width="0.8"/>
<line x1="344.7" y1="149.5" x2="344.7" y2="147" stroke="#a0a0a0" stroke-width="0.8"/>
<line x1="350.9" y1="149.5" x2="350.9" y2="147" stroke="#a0a0a0" stroke-width="0.8"/>
<line x1="356.2" y1="149.5" x2="356.2" y2="147" stroke="#a0a0a0" stroke-width="0.8"/>
<line x1="360.7" y1="149.5" x2="360.7" y2="147" stroke="#a0a0a0" stroke-width="0.8"/>
<line x1="364.7" y1="149.5" x2="364.7" y2="147" stroke="#a0a0a0" stroke-width="0.8"/>
<line x1="391.8" y1="149.5" x2="391.8" y2="147" stroke="#a0a0a0" stroke-width="0.8"/>
<line x1="405.6" y1="149.5" x2="405.6" y2="147" stroke="#a0a0a0" stroke-width="0.8"/>
<line x1="415.4" y1="149.5" x2="415.4" y2="147" stroke="#a0a0a0" stroke-width="0.8"/>
<line x1="423" y1="149.5" x2="423" y2="147" stroke="#a0a0a0" stroke-width="0.8"/>
<line x1="429.1" y1="149.5" x2="429.1" y2="147" stroke="#a0a0a0" stroke-width="0.8"/>
<line x1="434.4" y1="149.5" x2="434.4" y2="147" stroke="#a0a0a0" stroke-width="0.8"/>
<line x1="438.9" y1="149.5" x2="438.9" y2="147" stroke="#a0a0a0" stroke-width="0.8"/>
<line x1="442.9" y1="149.5" x2="442.9" y2="147" stroke="#a0a0a0" stroke-width="0.8"/>
<line x1="290" y1="149.5" x2="290" y2="144.5" stroke="#a0a0a0" stroke-width="0.8"/>
<text x="290" y="159.8" font-size="8.0" text-anchor="middle" fill="#1e1e1e">0.1</text>
<line x1="368.3" y1="149.5" x2="368.3" y2="144.5" stroke="#a0a0a0" stroke-width="0.8"/>
<text x="368.3" y="159.8" font-size="8.0" text-anchor="middle" fill="#1e1e1e">1</text>
<text x="446.5" y="159.8" font-size="8.0" text-anchor="middle" font-weight="normal" fill="#1e1e1e" >10</text>
<text x="356" y="170.6" font-size="8.7" text-anchor="middle" font-weight="normal" fill="#1e1e1e" ><tspan font-style="italic">T</tspan> (K)</text>
<text transform="translate(241.6,77.3) rotate(-90)" font-size="8.3" text-anchor="middle" fill="#1e1e1e">C<tspan font-size="6.2" dy="2">el</tspan><tspan dy="-2">/</tspan><tspan font-style="italic">T</tspan> (arb. units)</text>
<line x1="395.1" y1="13.4" x2="401.6" y2="13.4" stroke="#000000" stroke-width="1.6"/>
<text x="405.8" y="16.4" font-size="8.7" text-anchor="start" font-weight="normal" fill="#1e1e1e" >1 bar</text>
<line x1="395.1" y1="27.6" x2="401.6" y2="27.6" stroke="#1010ff" stroke-width="1.6"/>
<text x="405.8" y="30.6" font-size="8.7" text-anchor="start" font-weight="normal" fill="#1e1e1e" >2.6 kbar</text>
<line x1="395.1" y1="41.7" x2="401.6" y2="41.7" stroke="#22b322" stroke-width="1.6"/>
<text x="405.8" y="44.7" font-size="8.7" text-anchor="start" font-weight="normal" fill="#1e1e1e" >8.0 kbar</text>
<line x1="395.1" y1="55.9" x2="401.6" y2="55.9" stroke="#ff1a1a" stroke-width="1.6"/>
<text x="405.8" y="58.9" font-size="8.7" text-anchor="start" font-weight="normal" fill="#1e1e1e" >10.5 kbar</text>
<line x1="395.1" y1="70" x2="401.6" y2="70" stroke="#f0a830" stroke-width="1.6"/>
<text x="405.8" y="73" font-size="8.7" text-anchor="start" font-weight="normal" fill="#1e1e1e" >15.0 kbar</text>
<line x1="395.1" y1="84.2" x2="401.6" y2="84.2" stroke="#9a2bd0" stroke-width="1.6"/>
<text x="405.8" y="87.2" font-size="8.7" text-anchor="start" font-weight="normal" fill="#1e1e1e" >18.2 kbar</text>
<clipPath id="cc"><rect x="500.9" y="6.0" width="179.60000000000002" height="143.5"/></clipPath>
<g clip-path="url(#cc)">
<line x1="517.3" y1="140.6" x2="665.8" y2="20.4" stroke="#c4c4c4" stroke-width="13.6" stroke-linecap="round"/>
<line x1="517.3" y1="114.1" x2="517.3" y2="140.8" stroke="#444" stroke-width="0.75"/>
<line x1="514.6999999999999" y1="114.1" x2="519.9" y2="114.1" stroke="#444" stroke-width="0.75"/>
<line x1="514.6999999999999" y1="140.8" x2="519.9" y2="140.8" stroke="#444" stroke-width="0.75"/>
<line x1="538.4" y1="108.7" x2="538.4" y2="135.5" stroke="#444" stroke-width="0.75"/>
<line x1="535.8" y1="108.7" x2="541.0" y2="108.7" stroke="#444" stroke-width="0.75"/>
<line x1="535.8" y1="135.5" x2="541.0" y2="135.5" stroke="#444" stroke-width="0.75"/>
<line x1="582.5" y1="81.7" x2="582.5" y2="108.4" stroke="#444" stroke-width="0.75"/>
<line x1="579.9" y1="81.7" x2="585.1" y2="81.7" stroke="#444" stroke-width="0.75"/>
<line x1="579.9" y1="108.4" x2="585.1" y2="108.4" stroke="#444" stroke-width="0.75"/>
<line x1="602.9" y1="47.6" x2="602.9" y2="74.0" stroke="#444" stroke-width="0.75"/>
<line x1="600.3" y1="47.6" x2="605.5" y2="47.6" stroke="#444" stroke-width="0.75"/>
<line x1="600.3" y1="74.0" x2="605.5" y2="74.0" stroke="#444" stroke-width="0.75"/>
<line x1="639.7" y1="15.5" x2="639.7" y2="42.5" stroke="#444" stroke-width="0.75"/>
<line x1="637.1" y1="15.5" x2="642.3000000000001" y2="15.5" stroke="#444" stroke-width="0.75"/>
<line x1="637.1" y1="42.5" x2="642.3000000000001" y2="42.5" stroke="#444" stroke-width="0.75"/>
<line x1="665.5" y1="6.6" x2="665.5" y2="33.8" stroke="#444" stroke-width="0.75"/>
<line x1="662.9" y1="6.6" x2="668.1" y2="6.6" stroke="#444" stroke-width="0.75"/>
<line x1="662.9" y1="33.8" x2="668.1" y2="33.8" stroke="#444" stroke-width="0.75"/>
<circle cx="517.3" cy="127.4" r="3.0" fill="#fff" stroke="#000" stroke-width="0.8"/>
<circle cx="538.4" cy="122.1" r="3.5" fill="#000" stroke="none" stroke-width="0.7"/>
<circle cx="582.5" cy="94.8" r="3.5" fill="#000" stroke="none" stroke-width="0.7"/>
<circle cx="602.9" cy="60.5" r="3.5" fill="#000" stroke="none" stroke-width="0.7"/>
<circle cx="639.7" cy="29" r="3.5" fill="#000" stroke="none" stroke-width="0.7"/>
<circle cx="665.5" cy="20.4" r="3.5" fill="#000" stroke="none" stroke-width="0.7"/>
</g>
<rect x="500.9" y="6" width="179.6" height="143.5" fill="none" stroke="#959595" stroke-width="1.3"/>
<line x1="500.9" y1="136" x2="505.9" y2="136" stroke="#a0a0a0" stroke-width="0.8"/>
<text x="496.6" y="138.8" font-size="8.0" text-anchor="end" fill="#1e1e1e">0.2</text>
<line x1="500.9" y1="107.1" x2="505.9" y2="107.1" stroke="#a0a0a0" stroke-width="0.8"/>
<text x="496.6" y="109.9" font-size="8.0" text-anchor="end" fill="#1e1e1e">0.4</text>
<line x1="500.9" y1="78.2" x2="505.9" y2="78.2" stroke="#a0a0a0" stroke-width="0.8"/>
<text x="496.6" y="81" font-size="8.0" text-anchor="end" fill="#1e1e1e">0.6</text>
<line x1="500.9" y1="49.3" x2="505.9" y2="49.3" stroke="#a0a0a0" stroke-width="0.8"/>
<text x="496.6" y="52.1" font-size="8.0" text-anchor="end" fill="#1e1e1e">0.8</text>
<line x1="500.9" y1="20.4" x2="505.9" y2="20.4" stroke="#a0a0a0" stroke-width="0.8"/>
<text x="496.6" y="23.2" font-size="8.0" text-anchor="end" fill="#1e1e1e">1.0</text>
<line x1="516.8" y1="149.5" x2="516.8" y2="144.5" stroke="#a0a0a0" stroke-width="0.8"/>
<text x="516.8" y="159.8" font-size="8.0" text-anchor="middle" fill="#1e1e1e">0</text>
<line x1="549.5" y1="149.5" x2="549.5" y2="144.5" stroke="#a0a0a0" stroke-width="0.8"/>
<text x="549.5" y="159.8" font-size="8.0" text-anchor="middle" fill="#1e1e1e">4</text>
<line x1="582.2" y1="149.5" x2="582.2" y2="144.5" stroke="#a0a0a0" stroke-width="0.8"/>
<text x="582.2" y="159.8" font-size="8.0" text-anchor="middle" fill="#1e1e1e">8</text>
<line x1="615" y1="149.5" x2="615" y2="144.5" stroke="#a0a0a0" stroke-width="0.8"/>
<text x="615" y="159.8" font-size="8.0" text-anchor="middle" fill="#1e1e1e">12</text>
<line x1="647.7" y1="149.5" x2="647.7" y2="144.5" stroke="#a0a0a0" stroke-width="0.8"/>
<text x="647.7" y="159.8" font-size="8.0" text-anchor="middle" fill="#1e1e1e">16</text>
<text x="680.5" y="159.8" font-size="8.0" text-anchor="middle" font-weight="normal" fill="#1e1e1e" >20</text>
<text x="590.9" y="170.8" font-size="8.7" text-anchor="middle" font-weight="normal" fill="#1e1e1e" ><tspan font-style="italic">p</tspan> (kbar)</text>
<text transform="translate(474.6,77.2) rotate(-90)" font-size="8.7" text-anchor="middle" fill="#1e1e1e"><tspan font-style="italic">v</tspan><tspan font-size="6.3" dy="2">Weyl</tspan><tspan dy="-2">/</tspan><tspan font-style="italic">v</tspan><tspan font-size="6.3" dy="2">Weyl</tspan><tspan font-size="6.3" dx="-12.5" dy="-6.5">max</tspan></text>
<clipPath id="cd"><rect x="34.85" y="192.9" width="179.95000000000002" height="143.49999999999997"/></clipPath>
<line x1="34.85" y1="207.5" x2="214.8" y2="207.5" stroke="#444" stroke-width="0.9"/>
<g clip-path="url(#cd)">
<polyline points="34.9,323.7 35.4,323.9 35.9,323.8 36.4,323.3 36.9,322.7 37.3,322.1 37.8,321.6 38.3,321 38.8,320.3 39.3,319.7 39.7,319.4 40.2,319.6 40.8,320.3 41.3,321.5 41.8,322.6 42.4,323.5 42.9,323.9 43.4,323.9 43.9,323.6 44.3,323.1 44.8,322.3 45.3,321.4 45.7,320.3 46.2,319.5 46.7,318.9 47.2,318.8 47.7,319.1 48.2,319.7 48.7,320.3 49.2,320.7 49.7,320.8 50.2,320.6 50.7,320.2 51.2,319.6 51.6,319.1 52.1,318.6 52.6,318.1 53.1,317.8 53.6,317.8 54.1,318.1 54.6,318.7 55.1,319.3 55.6,319.7 56.1,319.7 56.6,319.4 57.1,318.9 57.5,318.5 58,318.3 58.5,318.5 59,318.8 59.5,318.9 60,318.7 60.5,318.2 60.9,317.7 61.4,317.4 61.9,317.4 62.4,317.4 62.9,317.3 63.4,317.2 63.9,317.1 64.4,317.2 64.9,317.3 65.4,317.6 65.9,317.9 66.4,318.2 66.9,318.3 67.4,318.1 67.8,317.6 68.3,316.7 68.7,315.8 69.1,314.9 69.6,314.3 70.1,314.1 70.5,314.1 71,314.1 71.5,313.8 71.9,313.2 72.3,312.4 72.7,311.6 73,311.2 73.4,311.1 73.7,311.2 74,311.3 74.2,311 74.3,310.6 74.4,309.9 74.4,309.3 74.5,308.8 74.6,308.4 74.8,308.2 74.9,308.1 75.1,307.9 75.2,307.5 75.2,306.8 75.1,305.7 75.1,304.7 75.1,303.9 75.1,303.4 75.2,303 75.3,302.6 75.4,302.1 75.5,301.5 75.5,301 75.6,300.6 75.8,300.5 75.9,300.4 76.1,300.4 76.3,300.3 76.4,300.1 76.5,299.8 76.6,299.5 76.7,299 76.7,298.3 76.7,297.5 76.7,296.8 76.7,296.1 76.8,295.6 76.9,295.4 77,295.2 77.2,295.1 77.3,294.9 77.4,294.5 77.4,294 77.4,293.4 77.5,292.7 77.5,292.1 77.5,291.6 77.6,291.1 77.6,290.7 77.7,290.3 77.8,289.8 77.8,289.2 77.8,288.5 77.7,287.6 77.7,286.7 77.7,285.9 77.7,285.4 77.9,285.3 78.1,285.4 78.3,285.6 78.5,285.6 78.5,285.2 78.5,284.4 78.5,283.5 78.4,282.6 78.4,281.9 78.5,281.3 78.5,280.7 78.5,280.1 78.5,279.4 78.5,278.7 78.5,278 78.6,277.5 78.7,277.2 78.8,276.7 78.8,276.1 78.7,275.2 78.7,274.2 78.6,273.2 78.6,272.3 78.6,271.7 78.6,271.2 78.7,270.7 78.8,270.3 78.9,270 79,269.7 79.1,269.5 79.3,269.4 79.4,269.2 79.5,268.8 79.5,268 79.5,267.1 79.4,266.3 79.4,265.6 79.5,264.9 79.5,264.2 79.5,263.4 79.4,262.5 79.4,261.8 79.5,261.5 79.7,261.4 79.9,261.5 80.1,261.6 80.3,261.5 80.5,261.4 80.6,261.2 80.8,261.1 80.9,260.8 81.1,260.5 81.2,260.1 81.2,259.4 81.3,258.5 81.3,257.6 81.3,256.9 81.4,256.3 81.6,256 81.8,255.8 82,255.6 82.1,255.3 82.2,254.6 82.3,253.8 82.3,252.9 82.4,252.2 82.5,251.6 82.7,251.3 82.9,251.1 83.1,250.7 83.3,250.2 83.4,249.5 83.5,248.9 83.7,248.3 83.8,247.7 83.9,247 84.1,246.4 84.3,246.1 84.6,246.1 84.9,246.3 85.3,246.5 85.5,246.2 85.6,245.5 85.7,244.6 85.9,243.7 86.1,243.2 86.3,243.1 86.6,243.2 86.9,243.2 87.2,242.9 87.4,242.3 87.5,241.3 87.5,240 87.6,238.7 87.7,237.7 88,237.4 88.4,237.6 88.8,238.1 89.2,238.3 89.5,238.2 89.7,237.6 90,236.9 90.2,236.3 90.5,235.9 90.8,235.5 91.1,235 91.4,234.5 91.7,234 92,233.6 92.4,233.4 92.8,233.4 93.2,233.7 93.7,234 94.1,234 94.4,233.5 94.7,232.6 94.9,231.4 95.1,230.2 95.4,229.3 95.8,228.8 96.2,228.8 96.6,229.1 97.1,229.4 97.5,229.4 97.9,229 98.2,228.4 98.6,227.8 98.9,227.3 99.3,226.9 99.7,226.7 100.1,226.4 100.5,226.1 100.8,225.8 101.2,225.3 101.6,224.7 101.9,223.8 102.2,223 102.6,222.4 103,221.9 103.4,221.5 103.8,221.2 104.2,221.1 104.7,221 105.2,221.1 105.6,221.1 106.1,220.9 106.5,220.5 106.9,220 107.3,219.7 107.8,219.5 108.2,219.6 108.7,219.7 109.2,219.7 109.6,219.5 110,219 110.4,218.2 110.8,217.5 111.2,217 111.7,216.8 112.1,216.8 112.6,217 113.1,217.1 113.6,217.1 114,216.9 114.5,216.6 114.9,216.4 115.4,216.3 115.9,216.5 116.3,216.6 116.8,216.5 117.3,216.1 117.7,215.5 118.1,214.8 118.6,214.1 119,213.7 119.5,213.5 120,213.5 120.5,213.5 121,213.4 121.5,213.4 122,213.6 122.5,213.9 123,214.3 123.5,214.8 124,215.2 124.5,215.4 125,215.6 125.5,215.9 126,216.2 126.5,216.5 127,216.6 127.5,216.4 128,216 128.5,215.4 129,214.5 129.5,213.5 130,212.7 130.5,212.3 131,212.3 131.5,212.5 132,212.9 132.5,213.4 133,213.8 133.5,214 134,213.9 134.5,213.7 135,213.6 135.5,213.8 136,214.2 136.5,214.5 137,214.6 137.5,214.1 138,213.5 138.5,213.1 139,213.1 139.5,213.6 140,214.2 140.5,214.6 141,214.5 141.5,214.1 142,213.6 142.5,213.2 143,213 143.5,213.1 144,213.1 144.5,213.1 145,213 145.5,213 146,213.2 146.5,213.5 147,213.9 147.5,214.2 148,214.5 148.5,214.9 149,215.3 149.5,215.4 150,215.1 150.5,214.4 151,213.7 151.5,213.1 152,212.9 152.5,213.1 153,213.3 153.5,213.5 154,213.5 154.5,213.6 155,213.6 155.5,213.6 156,213.4 156.5,213.2 157,213.1 157.5,213.2 158,213.6 158.5,214 159,214 159.5,213.7 160,213.2 160.5,212.8 161,212.7 161.5,212.7 162,212.8 162.5,212.8 163,212.8 163.5,212.7 164,212.6 164.5,212.6 165,212.8 165.5,213.1 166,213.5 166.5,213.9 167,214.2 167.5,214.3 168,214.3 168.5,214 169,213.5 169.5,213.1 170,212.7 170.5,212.4 171,212.2 171.5,211.9 172,211.6 172.5,211.2 173,210.9 173.5,210.7 174,210.7 174.5,210.9 175,211.2 175.5,211.4 176,211.6 176.5,211.9 177,212.3 177.5,212.8 178,213.1 178.5,213.2 179,213.1 179.5,213.1 180,213 180.5,213 181,212.9 181.5,213 182,213.3 182.5,213.5 183,213.5 183.5,213.1 184,212.4 184.5,211.7 185,211.2 185.5,210.8 186,210.6 186.5,210.7 187,210.8 187.5,211 188,211 188.5,210.8 189,210.5 189.5,210.2 190,210 190.5,209.9 191,210.1 191.5,210.4 192,210.9 192.5,211.4 193,211.7 193.5,211.7 194,211.6 194.5,211.4 195,211.3 195.5,211.5 196,211.9 196.5,212.4 197,212.9 197.5,213.5 198,214.2 198.5,214.6 199,214.9 199.5,214.9 200,214.8 200.5,214.6 201,214.4 201.5,214.3 202,214.3 202.5,214.1 203,213.8 203.5,213.2 204,212.5 204.5,211.8 205,211.1 205.5,210.5 206,210.1 206.5,210.1 207,210.5 207.5,211.4 208,212.3 208.5,213.2 209,213.5 209.5,213.2 210,212.4 210.5,211.4 211,210.6 211.5,210.2 212,210.2 212.5,210.6 213,211.1 213.5,211.6 214,212 214.5,212.2 215,212.2" fill="none" stroke="#000" stroke-width="1.7" stroke-linejoin="round" stroke-linecap="round" opacity="1.0" />
<polyline points="34.8,306.7 35.3,306.5 35.8,306.4 36.3,306.8 36.8,307.2 37.4,307.5 37.8,307.4 38.3,307.2 38.8,307.1 39.3,307.1 39.8,307.1 40.3,307 40.8,306.9 41.3,307 41.8,307 42.3,307.1 42.8,307 43.3,306.9 43.8,306.7 44.3,306.6 44.8,306.5 45.3,306.3 45.8,306 46.3,305.7 46.8,305.6 47.3,305.8 47.8,306.2 48.3,306.3 48.8,306 49.3,305.6 49.8,305.2 50.3,304.9 50.8,304.8 51.3,304.7 51.8,304.8 52.3,305.2 52.8,305.7 53.3,306.1 53.8,306.4 54.3,306.6 54.8,306.7 55.3,306.6 55.8,306.7 56.3,306.8 56.8,306.8 57.3,306.7 57.8,306.7 58.3,306.5 58.8,306.3 59.3,306.1 59.8,306 60.3,305.8 60.8,305.6 61.3,305.5 61.8,305.6 62.3,305.7 62.8,305.6 63.2,305.4 63.6,305 64,304.6 64.4,304.4 64.8,304.5 65.2,304.5 65.5,304.1 65.6,303.7 65.7,303.1 65.8,302.6 65.9,302.1 66,301.8 66.1,301.5 66.2,301 66.2,300.4 66.2,299.6 66.2,298.8 66.2,298.1 66.3,297.6 66.3,297.2 66.4,296.7 66.5,296.3 66.5,295.7 66.5,295 66.5,294.4 66.6,293.8 66.6,293.2 66.6,292.5 66.6,291.9 66.7,291.5 66.9,291.4 67,291.4 67.2,291.3 67.3,291 67.4,290.5 67.4,289.9 67.4,289.2 67.4,288.4 67.4,287.7 67.4,287 67.4,286.3 67.4,285.6 67.4,284.9 67.4,284.3 67.5,283.9 67.6,283.5 67.7,283.2 67.8,282.9 67.9,282.5 67.9,282 67.9,281.2 67.9,280.3 67.8,279.3 67.8,278.5 67.8,278.1 68,278 68.1,277.9 68.3,277.8 68.4,277.7 68.5,277.5 68.7,277.3 68.8,277.1 68.9,276.8 68.9,276.2 68.9,275.3 68.8,274.3 68.7,273.4 68.7,272.6 68.7,271.9 68.8,271.5 68.9,271.3 69,271 69.1,270.4 69.1,269.7 69.1,269.1 69.1,268.6 69.2,267.9 69.2,267.1 69.2,266.5 69.3,266.3 69.5,266.4 69.7,266.6 69.9,266.5 70,266.1 69.9,265.2 69.9,264.2 69.8,263.1 69.8,262.3 69.8,261.7 69.9,261.5 70.1,261.5 70.3,261.4 70.3,260.9 70.3,260 70.3,259.2 70.3,258.5 70.5,258.3 70.7,258.3 70.8,258 70.8,257.4 70.8,256.5 70.8,255.8 70.9,255.1 71,254.6 71.1,254.2 71.2,253.9 71.3,253.4 71.3,252.7 71.4,252 71.4,251.5 71.5,251 71.6,250.6 71.7,250.1 71.8,249.6 71.9,248.9 71.9,248.4 72.1,248.1 72.3,248 72.5,248 72.7,247.8 72.8,247.5 72.9,246.9 73,246.3 73.1,245.8 73.2,245.3 73.4,244.8 73.5,244.2 73.6,243.6 73.7,243 73.8,242.3 73.9,241.6 73.9,240.8 74.1,240.3 74.2,239.7 74.3,239.2 74.5,238.8 74.7,238.5 74.8,238 75,237.3 75.1,236.6 75.2,236 75.4,235.4 75.6,235.1 75.8,234.9 76.1,234.9 76.4,234.7 76.6,234.6 76.9,234.4 77.1,233.8 77.2,232.9 77.4,232.1 77.6,231.5 77.9,231.1 78.2,230.8 78.6,230.7 78.9,230.6 79.3,230.3 79.6,229.8 79.9,229.3 80.2,229.1 80.6,229 80.9,228.7 81.2,228 81.5,227.2 81.9,226.9 82.3,227 82.7,227 83,226.5 83.3,225.7 83.7,225 84,224.4 84.4,224 84.8,223.9 85.3,224.2 85.8,224.4 86.2,224.3 86.6,223.9 87,223.5 87.4,223 87.8,222.4 88.2,222.1 88.7,222.1 89.1,222.2 89.6,222.1 90,221.7 90.4,221.2 90.8,220.7 91.3,220.3 91.7,220.3 92.2,220.3 92.7,220.2 93.1,220 93.6,220 94.1,220 94.5,219.8 95,219.2 95.4,218.5 95.8,217.9 96.3,217.7 96.8,217.7 97.3,217.8 97.7,218 98.2,218.1 98.7,218.1 99.2,218 99.7,217.8 100.1,217.5 100.6,217.2 101.1,216.8 101.6,216.5 102,216.4 102.5,216.4 103,216.4 103.5,216.5 104,216.5 104.5,216.3 105,216.1 105.5,216 106,216 106.4,215.9 106.9,215.9 107.4,215.9 107.9,215.8 108.4,215.4 108.9,214.8 109.3,214.6 109.9,214.9 110.4,215.2 110.9,215.4 111.3,215.2 111.8,215 112.3,214.7 112.8,214.4 113.3,214.1 113.8,213.9 114.3,213.9 114.8,213.9 115.3,213.8 115.7,213.6 116.2,213.6 116.7,213.7 117.2,213.5 117.7,213.1 118.2,212.6 118.7,212.2 119.2,211.9 119.7,211.8 120.2,212.1 120.7,212.3 121.2,212.5 121.7,212.6 122.2,212.6 122.7,212.5 123.2,212.6 123.7,212.9 124.2,213.2 124.7,213.1 125.2,212.5 125.7,211.7 126.1,211.2 126.6,211.3 127.1,211.7 127.7,212 128.2,212.2 128.7,212.3 129.2,212.2 129.7,212 130.1,211.8 130.6,211.7 131.1,211.6 131.6,211.4 132.1,211.2 132.6,211.1 133.1,211.1 133.6,211.4 134.1,211.7 134.6,211.9 135.1,212.2 135.6,212.2 136.1,212 136.6,211.8 137.1,211.7 137.6,211.6 138.1,211.4 138.6,211.4 139.1,211.6 139.6,211.6 140.1,211.4 140.6,211.3 141.1,211.2 141.6,211.1 142.1,211.2 142.6,211.4 143.1,211.5 143.6,211.4 144.1,211.3 144.6,211.2 145.1,211.2 145.6,211.4 146.1,211.6 146.6,211.7 147.1,211.7 147.6,211.7 148.1,211.7 148.6,211.7 149.1,211.8 149.6,211.7 150.1,211.5 150.6,211.3 151.1,211 151.6,210.7 152.1,210.3 152.6,210 153.1,209.8 153.6,209.9 154.1,210.2 154.6,210.5 155.1,210.7 155.6,210.7 156.1,210.7 156.6,210.6 157.1,210.4 157.6,210.4 158.1,210.6 158.6,210.9 159.1,211.3 159.6,211.3 160.1,211 160.6,210.5 161.1,210.1 161.6,210.1 162.1,210.4 162.6,210.6 163.1,210.8 163.6,211 164.1,211 164.6,210.7 165.1,210.3 165.6,209.8 166.1,209.5 166.6,209.5 167.1,209.6 167.6,209.6 168.1,209.5 168.6,209.4 169.1,209.6 169.6,210 170.1,210.4 170.6,210.5 171.1,210.5 171.6,210.3 172.1,210.2 172.6,210.1 173.1,209.9 173.6,209.6 174.1,209.4 174.6,209.6 175.1,209.8 175.6,209.9 176.1,209.8 176.6,209.7 177.1,209.4 177.6,208.9 178.1,208.7 178.6,208.8 179.1,209.2 179.6,209.6 180.1,209.8 180.6,209.8 181.1,209.5 181.6,209.1 182.1,209.1 182.6,209.4 183.1,209.8 183.6,210 184.1,209.9 184.6,209.8 185.1,209.8 185.6,210 186.1,210 186.6,209.9 187.1,209.5 187.6,209 188.1,208.5 188.6,208.5 189.1,208.8 189.6,209.1 190.1,209.3 190.6,209.5 191.1,209.5 191.6,209.5 192.1,209.5 192.6,209.5 193.1,209.6 193.6,209.6 194.1,209.4 194.6,209.2 195.1,209.1 195.6,208.9 196.1,208.6 196.6,208.4 197.1,208.3 197.6,208.4 198.1,208.6 198.6,208.9 199.1,209.1 199.6,209.3 200.1,209.4 200.6,209.2 201.1,208.7 201.6,208.3 202.1,208.2 202.6,208.5 203.1,209 203.6,209.3 204.1,209.4 204.6,209.3 205.1,209.3 205.6,209.2 206.1,209.3 206.6,209.4 207.1,209.2 207.6,208.8 208.1,208.2 208.6,207.9 209.1,207.8 209.6,207.8 210.1,208 210.6,208.2 211.1,208.5 211.6,208.9 212.1,209.3 212.6,209.7 213.1,209.9 213.6,209.8 214.1,209.6 214.6,209.2" fill="none" stroke="#1a1aff" stroke-width="1.7" stroke-linejoin="round" stroke-linecap="round" opacity="1.0" />
<polyline points="34.9,303.8 35.4,303.5 35.8,303 36.3,302.5 36.8,302.3 37.3,302.4 37.8,302.7 38.4,303.1 38.9,303.4 39.4,303.5 39.9,303.4 40.4,303.3 40.9,303.2 41.3,303.1 41.8,303 42.3,302.9 42.8,302.8 43.3,302.5 43.8,302.3 44.3,302.2 44.8,302.2 45.3,302.1 45.8,301.9 46.3,301.6 46.8,301.7 47.3,301.9 47.8,302.1 48.3,302.1 48.8,301.9 49.3,301.4 49.8,300.8 50.3,300.3 50.8,300.2 51.3,300.3 51.8,300.4 52.2,300.6 52.7,300.9 53.2,301 53.7,300.9 54.2,300.6 54.6,300.2 55.1,300 55.6,300.3 56,300.6 56.3,300.7 56.5,300.5 56.6,299.9 56.6,299.1 56.6,298.3 56.7,297.6 56.7,296.9 56.8,296.5 56.9,296 56.9,295.5 57,295 57.1,294.5 57.1,294 57.1,293.3 57.1,292.6 57.2,292 57.2,291.5 57.3,291 57.4,290.6 57.4,290.3 57.5,289.8 57.6,289.4 57.6,288.9 57.7,288.5 57.8,288.1 57.8,287.6 57.9,287 57.8,286.2 57.8,285.5 57.9,285.1 58,284.9 58.1,284.8 58.2,284.5 58.2,283.8 58.1,282.7 57.9,281.7 57.9,280.7 57.9,280.1 57.9,279.7 58,279.3 58,278.9 58.1,278.6 58.2,278.4 58.3,278.2 58.4,278.2 58.5,277.9 58.5,277.4 58.5,276.8 58.5,276.2 58.5,275.6 58.5,274.8 58.4,274 58.5,273.4 58.5,273.1 58.6,272.8 58.6,272.3 58.7,271.7 58.8,271.4 58.9,271.4 59,271.3 59.1,271 59.2,270.6 59.3,269.9 59.3,269.1 59.3,268.4 59.3,267.7 59.4,267 59.4,266.2 59.5,265.5 59.6,264.8 59.7,264.2 59.8,263.8 60,263.5 60.3,263.6 60.6,263.8 60.8,263.8 61,263.4 61,262.5 61,261.7 61.1,261.2 61.2,260.7 61.3,260.2 61.3,259.6 61.4,258.9 61.4,258.2 61.4,257.4 61.3,256.7 61.4,256.2 61.5,255.9 61.6,255.6 61.7,255.3 61.8,254.9 61.8,254.5 61.9,253.9 61.8,253.2 61.8,252.5 61.9,252 61.9,251.3 61.9,250.7 62,250.3 62,249.9 62.1,249.5 62.2,249.2 62.3,248.8 62.3,248.4 62.4,247.9 62.5,247.5 62.5,247.1 62.6,246.5 62.6,245.7 62.6,245.1 62.7,244.7 62.9,244.3 63,243.9 63.1,243.5 63.2,243.2 63.4,242.9 63.5,242.4 63.5,241.7 63.6,240.9 63.7,240.4 63.8,240.1 64,239.9 64.2,239.5 64.3,238.9 64.4,238.3 64.5,237.8 64.6,237.1 64.7,236.3 64.8,235.8 65,235.5 65.2,235.2 65.4,234.6 65.5,233.9 65.7,233.4 65.9,232.9 66.1,232.3 66.3,231.7 66.5,231.2 66.8,231 67.2,231.2 67.6,231.5 68,231.6 68.3,231.2 68.5,230.6 68.8,229.9 69,229.1 69.3,228.5 69.6,228.1 70,227.8 70.3,227.3 70.6,226.7 70.9,226.3 71.2,226 71.6,225.9 71.9,225.7 72.2,225 72.5,224.2 72.8,223.5 73.2,223.1 73.6,223.2 74.1,223.6 74.5,223.9 74.9,223.5 75.3,222.7 75.7,221.8 76.1,221.2 76.5,221.1 77,221.2 77.5,221.2 77.9,220.6 78.3,220.1 78.7,219.9 79.2,220 79.7,219.9 80.1,219.5 80.6,219.1 81,218.7 81.5,218.5 81.9,218.3 82.4,218 82.9,217.8 83.4,217.8 83.9,217.9 84.3,218.1 84.8,218.2 85.3,218.1 85.8,217.7 86.2,217 86.7,216.5 87.2,216.5 87.7,217.1 88.2,217.6 88.7,217.4 89.2,216.9 89.6,216.5 90.1,216.4 90.6,216.3 91.1,215.9 91.6,215.7 92.1,215.8 92.6,216.3 93.1,216.6 93.6,216.5 94.1,216.3 94.5,216.1 95,216.1 95.5,216 96,215.7 96.5,215.4 97,215.2 97.5,214.9 97.9,214.6 98.4,214.7 98.9,214.9 99.4,215.1 99.9,214.8 100.4,214.3 100.9,213.8 101.4,213.4 101.8,213.2 102.3,213.2 102.8,213.5 103.3,213.6 103.8,213.6 104.3,213.5 104.8,213.6 105.3,213.9 105.8,214 106.3,213.9 106.8,213.7 107.3,213.6 107.8,213.7 108.3,214 108.8,214.3 109.3,214.5 109.8,214.4 110.3,214 110.8,213.4 111.3,212.9 111.8,212.7 112.3,212.8 112.8,212.8 113.2,212.5 113.7,212.2 114.2,212.1 114.7,212.3 115.2,212.7 115.7,212.8 116.2,212.7 116.7,212.5 117.2,212.2 117.7,211.8 118.2,211.6 118.7,211.7 119.2,211.8 119.7,211.5 120.2,211.1 120.7,211.2 121.2,211.4 121.7,211.6 122.2,211.5 122.7,211.3 123.2,211.2 123.7,211.2 124.2,211.2 124.7,211 125.2,210.9 125.7,210.9 126.2,211.1 126.7,211.1 127.2,211.1 127.7,211 128.2,210.9 128.7,210.9 129.2,211.2 129.7,211.7 130.2,211.9 130.7,211.8 131.2,211.7 131.7,211.7 132.2,211.6 132.7,211.7 133.2,211.8 133.7,211.7 134.2,211.4 134.7,211.1 135.2,210.9 135.7,211 136.2,211.1 136.7,211.1 137.2,210.7 137.7,210.4 138.2,210.2 138.7,210.2 139.2,210.3 139.7,210.6 140.2,210.8 140.7,211.1 141.2,211.3 141.7,211.2 142.2,211 142.7,210.8 143.2,210.5 143.7,210.1 144.2,209.9 144.7,210.1 145.2,210.4 145.7,210.6 146.2,210.4 146.7,210.1 147.2,209.7 147.7,209.7 148.2,209.9 148.7,210.3 149.2,210.4 149.7,210.2 150.2,209.8 150.6,209.6 151.1,209.7 151.7,210 152.2,210.2 152.7,210.4 153.2,210.3 153.6,209.8 154.1,209.1 154.6,208.7 155.1,208.6 155.6,208.8 156.1,209.2 156.6,209.5 157.1,209.7 157.6,209.7 158.1,209.4 158.6,209 159.1,208.9 159.6,209.2 160.1,209.7 160.6,209.8 161.1,209.7 161.6,209.6 162.1,209.6 162.6,209.5 163.1,209.1 163.6,208.8 164.1,208.8 164.6,209.1 165.1,209.4 165.6,209.3 166.1,208.9 166.6,208.6 167.1,208.6 167.6,208.8 168.1,208.9 168.6,208.9 169.1,208.9 169.6,208.9 170.1,208.7 170.6,208.4 171.1,208.1 171.6,207.9 172.1,208 172.6,208.3 173.1,208.6 173.6,208.9 174.1,209.2 174.6,209.3 175.1,209 175.6,208.6 176.1,208.4 176.6,208.5 177.1,208.6 177.6,208.6 178.1,208.7 178.6,208.9 179.1,209 179.6,209 180.1,208.7 180.6,208.4 181.1,208.2 181.6,208 182.1,207.7 182.6,207.7 183.1,208.1 183.6,209 184.1,209.8 184.6,210.1 185.1,210 185.6,209.5 186.1,209.1 186.6,208.9 187.1,208.7 187.6,208.4 188.1,208.4 188.6,208.8 189.1,209.4 189.6,209.9 190.1,210.3 190.6,210.1 191.1,209.5 191.6,208.6 192.1,208.1 192.6,207.9 193.1,208.1 193.6,208.4 194.1,208.8 194.6,209.1 195.1,209.1 195.6,208.9 196.1,208.7 196.6,208.7 197.1,208.7 197.6,208.6 198.1,208.5 198.6,208.5 199.1,208.7 199.6,208.9 200.1,208.9 200.6,208.5 201.1,208.2 201.6,207.7 202.1,207.3 202.6,207.4 203.1,208 203.6,208.7 204.1,209 204.6,208.9 205.1,208.3 205.6,207.7 206.1,207.4 206.6,207.6 207.1,207.8 207.6,207.9 208.1,207.7 208.6,207.4 209.1,207 209.6,206.8 210.1,207 210.6,207.3 211.1,207.3 211.6,207.1 212.1,207.1 212.6,207.3 213.1,207.8 213.6,208.2 214.1,208.5 214.6,208.6" fill="none" stroke="#16901a" stroke-width="1.7" stroke-linejoin="round" stroke-linecap="round" opacity="1.0" />
<polyline points="34.9,300.1 35.4,300.4 35.9,300.7 36.4,300.9 36.9,300.8 37.4,300.6 37.9,300.3 38.3,300 38.8,299.6 39.3,299.4 39.8,299.2 40.3,299.3 40.8,299.5 41.3,299.7 41.8,299.6 42.3,299.3 42.8,299.1 43.3,299.2 43.8,299.6 44.3,299.8 44.8,299.5 45.3,298.9 45.7,298.2 46.1,297.7 46.6,297.4 47,297.2 47.4,297.3 47.6,297.2 47.8,296.9 47.9,296.3 47.9,295.6 47.9,294.9 47.9,294.4 48,293.9 48.1,293.5 48.2,293.1 48.3,292.8 48.4,292.6 48.5,292.3 48.5,291.9 48.6,291.3 48.6,290.8 48.7,290.2 48.7,289.6 48.6,288.6 48.5,287.6 48.5,286.9 48.6,286.8 48.9,287.1 49.1,287.4 49.3,287.4 49.3,286.9 49.3,286.1 49.3,285.3 49.3,284.6 49.4,284.1 49.4,283.6 49.4,282.8 49.3,281.9 49.3,281.1 49.3,280.5 49.4,280.1 49.4,279.7 49.5,279.2 49.5,278.6 49.5,278.2 49.6,277.9 49.7,277.5 49.7,277 49.7,276.3 49.7,275.4 49.7,274.7 49.7,274.2 49.7,273.8 49.8,273.3 49.8,272.9 49.9,272.5 50,272.1 50,271.5 50,271 50.1,270.6 50.2,270.4 50.3,270.1 50.3,269.6 50.3,268.8 50.3,268.3 50.3,267.8 50.4,267.2 50.3,266.4 50.4,265.9 50.4,265.4 50.4,264.8 50.4,264.2 50.5,263.7 50.6,263.4 50.7,263.4 50.8,263.2 50.9,262.7 50.9,262.1 50.9,261.5 51,261 51,260.6 51.1,260.1 51.1,259.5 51.1,258.9 51.2,258.4 51.3,258 51.3,257.6 51.4,257.2 51.5,256.9 51.6,256.4 51.6,255.9 51.6,255.3 51.7,254.6 51.7,254.1 51.7,253.5 51.8,253 51.9,252.7 52,252.5 52.1,252 52,251.2 52,250.4 52.1,249.9 52.1,249.3 52.2,248.9 52.3,248.6 52.5,248.5 52.6,248.2 52.6,247.5 52.6,246.8 52.7,246.1 52.8,245.6 52.9,245.1 53,244.5 53.1,244 53.2,243.6 53.3,243.2 53.4,242.7 53.5,242.1 53.6,241.4 53.7,240.7 53.8,240.1 54,239.5 54.1,239 54.2,238.5 54.4,238 54.6,237.7 54.9,237.5 55.1,237.3 55.4,237.3 55.7,237.3 55.9,236.9 56,236.2 56.1,235.5 56.3,234.9 56.5,234.3 56.6,233.7 56.8,233.4 57.1,233.1 57.3,232.7 57.4,232 57.6,231.3 57.8,230.8 58,230.7 58.3,230.4 58.5,229.8 58.6,229.1 58.8,228.4 59,227.9 59.3,227.6 59.5,227.1 59.8,226.6 60,226.1 60.4,226 60.7,225.9 61,225.6 61.3,225 61.6,224.4 61.9,223.9 62.2,223.4 62.5,223 62.9,222.7 63.3,222.6 63.7,222.4 64,222.2 64.4,221.8 64.7,221.4 65.1,220.9 65.5,220.7 65.9,220.4 66.3,220 66.7,219.4 67,219 67.5,218.9 67.9,219 68.4,219 68.8,218.9 69.3,218.6 69.7,218.2 70.1,217.8 70.5,217.6 71,217.4 71.4,217.2 71.9,216.8 72.3,216.4 72.8,216.1 73.2,215.9 73.7,215.6 74.2,215.3 74.7,215.2 75.2,215.4 75.7,215.5 76.2,215.4 76.7,215.4 77.2,215.6 77.7,215.8 78.1,215.5 78.6,214.8 79.1,214.4 79.6,214.2 80.1,214.4 80.6,214.6 81.1,214.6 81.5,214.3 82,213.8 82.5,213.3 83,213.2 83.5,213.3 84,213.5 84.5,213.6 85,213.8 85.5,213.9 86,214 86.5,213.7 87,213.4 87.5,213.3 88,213.4 88.5,213.4 89,213.2 89.5,213 89.9,213 90.4,212.9 90.9,212.8 91.4,212.8 91.9,213.2 92.4,213.5 92.9,213.6 93.4,213.4 93.9,213 94.4,212.6 94.9,212.3 95.4,212 95.9,211.5 96.4,211.2 96.9,211 97.4,211.1 97.9,211.2 98.4,211.3 98.9,211.4 99.4,211.4 99.9,211.4 100.4,211.6 100.9,211.7 101.4,211.7 101.9,211.4 102.4,211.1 102.9,210.8 103.4,210.8 103.9,210.9 104.4,211.1 104.9,211.4 105.4,211.7 105.9,211.7 106.4,211.6 106.9,211.8 107.4,212.3 107.9,212.6 108.4,212.4 108.9,211.8 109.3,211.3 109.8,210.9 110.3,210.7 110.8,210.6 111.3,210.4 111.8,210.3 112.3,210.3 112.8,210.3 113.3,210.2 113.8,210.2 114.3,210.4 114.8,210.5 115.3,210.3 115.8,210.1 116.3,209.9 116.8,209.7 117.3,209.7 117.8,210 118.3,210.4 118.8,210.4 119.3,210.2 119.8,210.2 120.3,210.3 120.8,210.3 121.3,209.9 121.8,209.5 122.3,209.4 122.8,209.8 123.3,210.1 123.8,210.1 124.3,209.8 124.8,209.5 125.3,209.6 125.8,209.9 126.3,210 126.8,209.9 127.3,209.9 127.8,210.2 128.3,210.8 128.8,211.2 129.3,211.1 129.8,210.6 130.3,209.9 130.8,209.3 131.3,208.9 131.8,208.8 132.3,208.8 132.8,208.9 133.3,209.1 133.8,209.3 134.3,209.5 134.8,209.7 135.3,209.9 135.8,210.1 136.3,210.1 136.8,209.9 137.3,209.7 137.8,209.6 138.3,209.6 138.8,209.7 139.3,210 139.8,210.3 140.3,210.1 140.8,209.5 141.3,208.9 141.8,208.7 142.3,208.9 142.8,209.2 143.3,209.4 143.8,209.5 144.3,209.5 144.8,209.6 145.3,209.6 145.8,209.4 146.3,209.1 146.8,208.7 147.3,208.3 147.8,207.9 148.3,207.6 148.8,207.6 149.3,207.9 149.8,208.3 150.3,208.5 150.8,208.4 151.3,208.2 151.8,207.9 152.3,207.7 152.8,207.7 153.3,207.9 153.8,208.3 154.3,208.5 154.8,208.7 155.3,209 155.8,209.3 156.3,209.4 156.8,209.5 157.3,209.6 157.8,209.6 158.3,209.2 158.8,208.7 159.3,208.4 159.8,208.3 160.3,208.3 160.8,208.6 161.3,209.1 161.8,209.5 162.3,209.4 162.8,209 163.3,208.5 163.8,208.1 164.3,208.1 164.8,208.3 165.3,208.4 165.8,208.6 166.3,208.9 166.8,209.4 167.3,209.7 167.8,209.6 168.3,208.9 168.8,208 169.3,207.4 169.8,207.2 170.3,207.3 170.8,207.4 171.3,207.5 171.8,207.6 172.3,207.9 172.8,208.1 173.3,208.3 173.8,208.4 174.3,208.6 174.8,208.7 175.3,208.5 175.8,208.2 176.3,208 176.8,208 177.3,208.2 177.8,208.4 178.3,208.3 178.8,208.2 179.3,208.1 179.8,208.1 180.3,207.9 180.8,207.6 181.3,207.3 181.8,207.2 182.3,207.3 182.8,207.4 183.3,207.4 183.8,207.4 184.3,207.3 184.8,207.1 185.3,207 185.8,206.7 186.3,206.4 186.8,206.3 187.3,206.4 187.8,207 188.3,207.7 188.8,208.2 189.3,208.7 189.8,209.1 190.3,209.2 190.8,209 191.3,208.6 191.8,208.3 192.3,208.2 192.8,208.2 193.3,208 193.8,207.6 194.3,207.3 194.8,207.3 195.3,207.4 195.8,207.4 196.3,207.5 196.8,207.7 197.3,207.9 197.8,208 198.3,207.8 198.8,207.5 199.3,207.4 199.8,207.7 200.3,208 200.8,208 201.3,207.7 201.8,207.6 202.3,207.9 202.8,208.3 203.3,208.4 203.8,208 204.3,207.4 204.8,207.1 205.3,207.2 205.8,207.4 206.3,207.7 206.8,207.9 207.3,207.6 207.8,207.1 208.3,206.8 208.8,206.8 209.3,206.9 209.8,207 210.3,207.3 210.8,207.7 211.3,207.8 211.8,207.8 212.3,207.6 212.8,207.5 213.3,207.6 213.8,207.7 214.3,207.9 214.8,207.9" fill="none" stroke="#b5a22a" stroke-width="1.7" stroke-linejoin="round" stroke-linecap="round" opacity="1.0" />
<polyline points="34.8,298.4 35.3,298.6 35.8,298.8 36.3,298.9 36.7,298.7 37,298.4 37.3,297.9 37.4,297.1 37.4,296.3 37.4,295.4 37.4,294.7 37.5,293.9 37.5,293.3 37.6,292.8 37.6,292.3 37.7,291.9 37.8,291.6 38,291.7 38.2,291.7 38.3,291.3 38.2,290.4 38.1,289.3 38.1,288.4 38.1,287.8 38.2,287.3 38.3,287 38.4,286.7 38.6,286.6 38.8,286.6 38.9,286.4 39,285.8 38.9,284.9 38.9,284 38.9,283.2 38.9,282.5 38.9,281.9 39,281.5 39.1,281.3 39.2,280.9 39.3,280.3 39.3,279.7 39.4,279.4 39.5,279 39.5,278.4 39.5,277.6 39.5,276.9 39.6,276.5 39.7,276.2 39.9,276.1 40,275.7 40,275 40,274.1 40,273.4 40.1,273.1 40.3,273.1 40.5,273.1 40.6,272.8 40.6,272 40.5,271.1 40.5,270.2 40.5,269.5 40.6,268.8 40.6,268.2 40.7,267.7 40.8,267.2 40.9,266.7 40.9,266.1 41,265.6 41.1,265.2 41.3,265 41.4,264.8 41.6,264.5 41.7,264.1 41.7,263.6 41.8,262.9 41.8,262.3 41.9,261.9 42,261.8 42.2,261.6 42.3,261.2 42.3,260.7 42.3,260.1 42.3,259.5 42.3,258.8 42.3,258.2 42.3,257.5 42.3,257 42.3,256.5 42.4,256.2 42.5,256 42.6,255.9 42.7,255.4 42.6,254.6 42.5,253.7 42.4,252.8 42.4,252 42.4,251.4 42.5,251.1 42.5,250.8 42.6,250.3 42.6,249.9 42.7,249.6 42.7,249.2 42.8,248.7 42.8,248.2 42.9,247.8 43,247.5 43.1,247 43.1,246.3 43.1,245.7 43.2,245.2 43.3,244.7 43.3,244 43.3,243.2 43.4,242.6 43.5,242.3 43.6,242 43.7,241.5 43.8,240.8 43.9,240.3 44.1,240 44.3,239.7 44.4,239.2 44.4,238.4 44.4,237.4 44.5,236.7 44.8,236.6 45,236.6 45.2,236.3 45.3,235.8 45.6,235.6 45.8,235.6 46.1,235.6 46.3,235.2 46.4,234.6 46.6,233.9 46.7,233.3 46.9,232.9 47.2,232.6 47.4,232.3 47.6,231.8 47.8,231.2 47.9,230.3 48,229.4 48.1,228.4 48.2,227.5 48.5,227 48.8,226.9 49.1,226.9 49.4,226.6 49.6,226.3 49.9,226.2 50.3,226.1 50.6,225.9 50.9,225.5 51.2,225.2 51.5,224.8 51.8,224.1 52.1,223.3 52.4,222.9 52.8,222.9 53.3,222.8 53.7,222.5 54,222.1 54.4,221.7 54.8,221.1 55.2,220.4 55.6,219.9 56.1,219.9 56.6,220.2 57,220.5 57.5,220.5 57.9,220.2 58.3,219.5 58.7,218.7 59.1,218 59.5,217.4 59.9,216.8 60.3,216.7 60.8,217 61.4,217.6 61.8,217.8 62.3,217.7 62.8,217.5 63.2,217.2 63.6,216.8 64.1,216.4 64.6,216.1 65,216.1 65.5,216.4 66,216.8 66.5,217 67,216.7 67.5,216.2 67.9,215.7 68.4,215.3 68.9,214.8 69.3,214.3 69.8,213.8 70.3,213.4 70.8,213.2 71.3,213.2 71.8,213.2 72.2,213.2 72.7,212.9 73.2,212.8 73.7,212.9 74.2,213.1 74.7,213.4 75.2,213.7 75.7,213.7 76.2,213.3 76.7,212.6 77.2,212.3 77.7,212.4 78.2,212.5 78.7,212.5 79.2,212.5 79.7,212.6 80.2,212.4 80.7,212.1 81.2,212.2 81.7,212.5 82.2,212.6 82.7,212.4 83.1,211.9 83.6,211.5 84.1,211.4 84.6,211.4 85.1,211.4 85.6,211.3 86.1,211.4 86.6,211.3 87.1,211.2 87.6,211 88.1,211 88.6,211 89.1,210.9 89.6,210.6 90.1,210.5 90.6,210.7 91.1,211.4 91.6,211.9 92.1,212 92.6,211.6 93.1,211.1 93.6,210.8 94.1,211.1 94.6,211.6 95.1,211.8 95.6,211.7 96.1,211.5 96.6,211.2 97.1,211 97.6,210.8 98.1,210.5 98.5,210.2 99,210 99.5,209.8 100,209.5 100.5,209.1 101,208.9 101.5,209.3 102,210.1 102.5,210.7 103,210.7 103.5,210.1 104,209.5 104.5,209.3 105,209.4 105.5,209.5 106,209.8 106.5,210 107,209.8 107.5,209.2 108,208.5 108.5,208.5 109,209.1 109.5,209.9 110,210.8 110.5,211.3 111,211.4 111.5,211.2 112,211.1 112.5,210.7 113,210.4 113.5,210 114,209.6 114.5,209.1 115,208.8 115.5,208.7 116,208.9 116.5,209.3 117,209.7 117.5,210 118,210 118.5,209.8 119,209.6 119.5,209.6 120,209.8 120.5,209.9 121,209.7 121.5,209.4 122,209.2 122.5,209.1 123,209.1 123.5,209 124,208.9 124.5,208.6 125,208.5 125.5,208.5 126,208.8 126.5,209.2 127,209.5 127.5,209.8 128,210 128.5,209.9 129,209.4 129.5,209.1 130,209 130.5,209.1 131,208.9 131.5,208.7 132,208.6 132.5,208.6 133,208.7 133.5,208.5 134,208.2 134.5,207.9 135,207.7 135.5,207.6 136,207.7 136.5,207.7 137,207.8 137.5,207.9 138,208 138.5,208.2 139,208.3 139.5,208.4 140,208.5 140.5,208.7 141,208.8 141.5,208.5 142,207.9 142.5,207.6 143,207.7 143.5,208.2 144,208.7 144.5,209 145,209 145.5,208.7 146,208.4 146.5,208.2 147,208.2 147.5,208.1 148,208.1 148.5,208.4 149,209 149.5,209.6 150,209.8 150.5,209.4 151,208.7 151.5,208.2 152,208 152.5,208 153,208 153.5,208.2 154,208.7 154.5,209.1 155,209.1 155.5,208.6 156,208.1 156.5,208.1 157,208.3 157.5,208.3 158,208.1 158.5,207.9 159,207.8 159.5,207.6 160,207.3 160.5,207 161,206.8 161.5,206.9 162,207.1 162.5,207.3 163,207.5 163.5,207.6 164,207.8 164.5,207.8 165,207.7 165.5,207.4 166,206.8 166.5,206.4 167,206.5 167.5,207 168,207.8 168.5,208.2 169,208.1 169.5,207.9 170,207.8 170.5,207.8 171,207.9 171.5,207.9 172,207.7 172.5,207.4 173,207.2 173.5,207.1 174,207.1 174.5,207 175,207 175.5,207 176,207.3 176.5,207.7 177,207.8 177.5,207.7 178,207.7 178.5,207.9 179,208.1 179.5,208 180,207.6 180.5,207.2 181,207 181.5,207.3 182,207.7 182.5,207.9 183,207.5 183.5,207.2 184,207.3 184.5,207.6 185,207.7 185.5,207.6 186,207.6 186.5,207.5 187,207.4 187.5,207.3 188,207.2 188.5,207.1 189,206.9 189.5,206.8 190,206.9 190.5,206.9 191,206.9 191.5,206.7 192,206.5 192.5,206.5 193,206.8 193.5,207 194,207 194.5,206.9 195,206.7 195.5,206.6 196,206.6 196.5,206.8 197,207.2 197.5,207.7 198,208.2 198.5,208.4 199,208.1 199.5,207.6 200,207.4 200.5,207.6 201,208 201.5,208 202,207.6 202.5,207.3 203,207.1 203.5,206.8 204,206.2 204.5,205.8 205,205.9 205.5,206.4 206,206.6 206.5,206.3 207,206.1 207.5,206.3 208,206.9 208.5,207.2 209,207.2 209.5,207 210,207 210.5,207 211,206.9 211.5,206.8 212,206.7 212.5,206.8 213,207 213.5,206.9 214,206.6 214.5,206.5 215,206.8" fill="none" stroke="#f28c3a" stroke-width="1.7" stroke-linejoin="round" stroke-linecap="round" opacity="1.0" />
<polyline points="34.9,237.1 35.1,236.7 35.3,236.2 35.5,235.7 35.7,235.1 35.8,234.4 36,234 36.3,233.7 36.5,233.3 36.7,232.7 36.9,232.4 37.2,232 37.4,231.3 37.5,230.3 37.8,229.7 38.1,229.5 38.4,229.3 38.7,229 38.9,228.5 39.2,228 39.6,228 40,228 40.3,228 40.6,227.5 40.9,226.9 41.2,226.3 41.5,225.8 41.9,225.5 42.2,225.1 42.6,224.5 42.9,224 43.3,223.8 43.8,223.7 44.2,223.7 44.6,223.8 45.1,223.7 45.5,223.8 45.9,223.8 46.4,223.5 46.8,223.2 47.2,222.9 47.6,222.4 48,221.5 48.3,220.5 48.7,219.8 49.1,219.3 49.6,219.1 50.1,219.3 50.5,219.5 51,219.7 51.5,219.5 51.9,219.2 52.4,218.7 52.8,218.3 53.2,218.1 53.7,218 54.2,218 54.7,218.1 55.1,217.9 55.6,217.3 56,216.6 56.4,216 56.9,215.8 57.4,216.1 57.9,216.7 58.4,217.2 58.9,217.5 59.4,217.7 59.9,217.5 60.3,216.7 60.8,215.5 61.2,214.6 61.7,214.1 62.2,214 62.6,213.9 63.1,213.8 63.6,213.8 64.1,213.9 64.6,213.9 65.1,213.7 65.6,213.6 66.1,213.7 66.6,214 67.1,214.1 67.6,213.8 68.1,213.1 68.5,212.6 69,212.6 69.5,212.9 70,213.1 70.5,213 71,212.9 71.5,213.1 72,213.2 72.5,212.8 73,212.2 73.5,211.9 74,212.4 74.5,213.2 75,213.7 75.5,213.5 76,212.9 76.5,212.3 77,212.1 77.5,212 78,212.1 78.5,212.1 79,212.1 79.5,212.2 80,212.6 80.5,213.1 81,213.2 81.5,213.1 82,212.9 82.5,212.3 82.9,211.6 83.4,211.1 83.9,210.9 84.4,210.9 84.9,210.7 85.4,210.3 85.9,209.8 86.4,209.6 86.9,209.9 87.4,210.4 87.9,210.7 88.4,210.9 88.9,211.1 89.4,211.2 89.9,211 90.4,210.9 90.9,210.9 91.4,211 91.9,210.9 92.4,210.9 92.9,211 93.4,211.2 93.9,211.2 94.4,211.1 94.9,211 95.4,211 95.9,211 96.4,211.1 96.9,211 97.4,210.7 97.9,210.3 98.4,209.9 98.9,210 99.4,210.4 99.9,210.8 100.4,211.2 100.9,211.5 101.4,211.8 101.9,212.2 102.4,212.1 102.9,211.1 103.4,209.7 103.8,208.7 104.3,208.6 104.8,208.8 105.3,209 105.8,208.8 106.3,208.5 106.8,208.4 107.3,208.4 107.8,208.4 108.3,208.8 108.8,209.3 109.4,209.6 109.8,209.5 110.3,209.4 110.8,209.6 111.4,210.1 111.9,210.4 112.4,210.3 112.9,209.9 113.3,209.6 113.8,209.6 114.3,209.5 114.8,208.8 115.3,207.8 115.8,207.3 116.3,207.6 116.8,208.3 117.3,208.9 117.8,209.2 118.3,209.7 118.8,210.2 119.3,210.2 119.8,209.5 120.3,208.4 120.8,207.7 121.3,207.8 121.8,208.7 122.3,210 122.8,210.6 123.3,210.3 123.8,209.6 124.3,209.1 124.8,208.8 125.3,208.3 125.8,208.2 126.3,208.8 126.8,209.7 127.3,210.2 127.8,210.3 128.3,210.1 128.8,209.8 129.3,209.8 129.8,210 130.3,210 130.8,209.6 131.3,209 131.8,208.4 132.3,208.2 132.8,208.5 133.3,209.1 133.8,209.3 134.3,209.1 134.8,208.8 135.3,208.6 135.8,208.1 136.3,207.7 136.8,207.9 137.3,208.4 137.8,208.3 138.3,207.8 138.8,207.5 139.3,208 139.8,208.7 140.3,208.9 140.8,208.8 141.3,208.4 141.8,208 142.3,207.7 142.8,207.6 143.3,207.7 143.8,208.1 144.3,208.5 144.8,208.8 145.3,208.8 145.8,208.7 146.3,208.6 146.8,208.7 147.3,208.8 147.8,208.7 148.3,208.5 148.8,208.5 149.3,208.7 149.8,208.6 150.3,207.8 150.8,207.1 151.3,207.1 151.8,207.6 152.3,208.1 152.8,208.4 153.3,208.5 153.8,208.1 154.3,207.4 154.8,206.8 155.3,206.9 155.8,207.4 156.3,208 156.8,208.1 157.3,207.5 157.8,206.5 158.3,205.7 158.8,205.7 159.3,206.4 159.8,207 160.3,207.4 160.8,207.8 161.3,208.3 161.8,208.2 162.3,207.8 162.8,207.7 163.3,208.1 163.8,208.6 164.3,208.8 164.8,208.9 165.3,208.8 165.8,208.5 166.3,208.4 166.8,208.5 167.3,208.6 167.8,208.4 168.3,207.9 168.8,207.5 169.3,207.3 169.8,207.3 170.3,207.2 170.8,207.1 171.3,206.8 171.8,206.7 172.3,206.8 172.8,206.9 173.3,207 173.8,206.9 174.3,206.6 174.8,206.4 175.3,206.5 175.8,206.7 176.3,206.7 176.8,206.8 177.3,207 177.8,207.3 178.3,207.9 178.8,208.5 179.3,209.1 179.8,209.1 180.3,208.6 180.8,208.1 181.3,208.1 181.8,208.5 182.3,208.7 182.8,208.5 183.3,208 183.8,207.8 184.3,207.9 184.8,207.9 185.3,207.8 185.8,207.8 186.3,207.9 186.8,208.1 187.3,208.3 187.8,208.5 188.3,208.5 188.8,208.1 189.3,207.5 189.8,207.1 190.3,206.9 190.8,206.7 191.3,206.6 191.8,206.8 192.3,207.4 192.8,207.9 193.3,208.1 193.8,208 194.3,207.8 194.8,207.5 195.3,207.1 195.8,207 196.3,207.3 196.8,207.6 197.3,207.8 197.8,208 198.3,208.1 198.8,208.3 199.3,208.4 199.8,208.3 200.3,208.2 200.8,207.9 201.3,207.7 201.8,207.5 202.3,207.7 202.8,207.9 203.3,207.9 203.8,207.7 204.3,207.4 204.8,207.1 205.3,207.1 205.8,207.1 206.3,206.7 206.8,206.3 207.3,206.2 207.8,206.7 208.3,207.3 208.8,207.5 209.3,207.2 209.8,206.8 210.3,206.5 210.8,206.2 211.3,206.1 211.8,206.1 212.3,206.4 212.8,206.6 213.3,206.5 213.8,206.2 214.3,205.9 214.8,205.7" fill="none" stroke="#ff1010" stroke-width="1.7" stroke-linejoin="round" stroke-linecap="round" opacity="1.0" />
</g>
<rect x="34.9" y="192.9" width="180" height="143.5" fill="none" stroke="#959595" stroke-width="1.3"/>
<line x1="34.9" y1="207.1" x2="34.9" y2="207.1" stroke="#a0a0a0" stroke-width="0.8"/>
<text x="29.9" y="209.2" font-size="8.0" text-anchor="end" fill="#1e1e1e">0</text>
<line x1="34.9" y1="235.9" x2="39.9" y2="235.9" stroke="#a0a0a0" stroke-width="0.8"/>
<text x="29.9" y="238" font-size="8.0" text-anchor="end" fill="#1e1e1e"><tspan font-size="6.4">&#8722;</tspan>2</text>
<line x1="34.9" y1="264.7" x2="39.9" y2="264.7" stroke="#a0a0a0" stroke-width="0.8"/>
<text x="29.9" y="266.8" font-size="8.0" text-anchor="end" fill="#1e1e1e"><tspan font-size="6.4">&#8722;</tspan>4</text>
<line x1="34.9" y1="293.5" x2="39.9" y2="293.5" stroke="#a0a0a0" stroke-width="0.8"/>
<text x="29.9" y="295.6" font-size="8.0" text-anchor="end" fill="#1e1e1e"><tspan font-size="6.4">&#8722;</tspan>6</text>
<line x1="34.9" y1="322.3" x2="39.9" y2="322.3" stroke="#a0a0a0" stroke-width="0.8"/>
<text x="29.9" y="324.4" font-size="8.0" text-anchor="end" fill="#1e1e1e"><tspan font-size="6.4">&#8722;</tspan>8</text>
<line x1="34.9" y1="336.4" x2="34.9" y2="336.4" stroke="#a0a0a0" stroke-width="0.8"/>
<text x="34.9" y="346.7" font-size="8.0" text-anchor="middle" fill="#1e1e1e">0</text>
<line x1="79.9" y1="336.4" x2="79.9" y2="331.4" stroke="#a0a0a0" stroke-width="0.8"/>
<text x="79.9" y="346.7" font-size="8.0" text-anchor="middle" fill="#1e1e1e">20</text>
<line x1="124.9" y1="336.4" x2="124.9" y2="331.4" stroke="#a0a0a0" stroke-width="0.8"/>
<text x="124.9" y="346.7" font-size="8.0" text-anchor="middle" fill="#1e1e1e">40</text>
<line x1="170" y1="336.4" x2="170" y2="331.4" stroke="#a0a0a0" stroke-width="0.8"/>
<text x="170" y="346.7" font-size="8.0" text-anchor="middle" fill="#1e1e1e">60</text>
<line x1="215" y1="336.4" x2="215" y2="336.4" stroke="#a0a0a0" stroke-width="0.8"/>
<text x="215" y="346.7" font-size="8.0" text-anchor="middle" fill="#1e1e1e">80</text>
<text x="124.4" y="360.6" font-size="8.7" text-anchor="middle" font-weight="normal" fill="#1e1e1e" ><tspan font-style="italic">B</tspan> (mT)</text>
<text transform="translate(10.9,265.5) rotate(-90)" font-size="8.7" text-anchor="middle" fill="#1e1e1e"><tspan font-style="italic">ρ</tspan><tspan font-size="6.2" dy="2.2" font-style="italic">xy</tspan><tspan font-size="6.2" dx="-6.2" dy="-6.4">even</tspan><tspan dy="4.2"> (×10</tspan><tspan font-size="5.6" dy="-3">−2</tspan><tspan dy="3"> μΩ m)</tspan></text>
<text x="129.3" y="282.4" font-size="8.7" text-anchor="start" font-weight="normal" fill="#1e1e1e" ><tspan font-style="italic">p</tspan> = 10.5 kbar</text>
<line x1="130" y1="293.3" x2="136.8" y2="293.3" stroke="#ff1010" stroke-width="1.3"/>
<text x="140.4" y="296.3" font-size="8.7" text-anchor="start" font-weight="normal" fill="#1e1e1e" >1 K</text>
<line x1="130" y1="307.9" x2="136.8" y2="307.9" stroke="#f28c3a" stroke-width="1.3"/>
<text x="140.4" y="310.9" font-size="8.7" text-anchor="start" font-weight="normal" fill="#1e1e1e" >0.76 K</text>
<line x1="130" y1="322.3" x2="136.8" y2="322.3" stroke="#b5a22a" stroke-width="1.3"/>
<text x="140.4" y="325.3" font-size="8.7" text-anchor="start" font-weight="normal" fill="#1e1e1e" >0.58 K</text>
<line x1="172.9" y1="293.3" x2="179.8" y2="293.3" stroke="#16901a" stroke-width="1.3"/>
<text x="183.5" y="296.3" font-size="8.7" text-anchor="start" font-weight="normal" fill="#1e1e1e" >0.45 K</text>
<line x1="172.9" y1="307.9" x2="179.8" y2="307.9" stroke="#1a1aff" stroke-width="1.3"/>
<text x="183.5" y="310.9" font-size="8.7" text-anchor="start" font-weight="normal" fill="#1e1e1e" >0.30 K</text>
<line x1="172.9" y1="322.3" x2="179.8" y2="322.3" stroke="#000" stroke-width="1.3"/>
<text x="183.5" y="325.3" font-size="8.7" text-anchor="start" font-weight="normal" fill="#1e1e1e" >0.07 K</text>
<clipPath id="ce"><rect x="266.2" y="192.9" width="180.10000000000002" height="143.20000000000002"/></clipPath>
<g clip-path="url(#ce)">
<polyline points="266.2,336.5 266.6,336.1 266.9,335.7 267.3,335.2 267.6,334.7 268,334.3 268.3,333.9 268.7,333.5 269,333.3 269.4,333.2 269.7,333.2 270.1,333.4 270.4,333.7 270.8,334.3 271.1,334.9 271.5,335.4 271.8,335.6 272.2,335.3 272.5,334.4 272.9,333 273.2,331.2 273.6,329.3 273.9,327.5 274.3,326 274.6,325 275,324.6 275.3,325 275.7,326 276,327.3 276.4,328.4 276.7,329.3 277.1,329.9 277.4,330.2 277.8,330.2 278.1,329.9 278.5,329.3 278.8,328.4 279.2,327.6 279.5,326.9 279.9,326.8 280.2,327.2 280.6,327.9 280.9,328.7 281.3,329.3 281.6,329.4 282,329.2 282.3,328.5 282.7,327.5 283,326.3 283.4,324.9 283.7,323.4 284.1,322.1 284.4,321 284.8,320.3 285.1,320.2 285.5,320.6 285.8,321.5 286.2,322.6 286.5,323.5 286.9,324.1 287.2,324.1 287.6,323.5 287.9,322.6 288.3,321.7 288.6,320.9 289,320.3 289.3,320 289.7,319.7 290,319.3 290.4,318.8 290.7,318.1 291.1,317.4 291.4,316.7 291.8,316.1 292.1,315.5 292.5,315.1 292.8,314.8 293.2,314.6 293.5,314.3 293.9,314.1 294.2,313.9 294.6,313.8 294.9,314 295.3,314.4 295.6,315 296,315.7 296.3,316.4 296.7,317.1 297,317.5 297.4,317.8 297.7,317.9 298.1,318 298.4,318.3 298.8,318.7 299.1,318.9 299.5,319 299.8,318.9 300.2,318.7 300.5,318.7 300.9,318.6 301.2,318.5 301.6,318.2 301.9,317.8 302.3,317.1 302.6,316.4 303,315.7 303.3,315.1 303.7,314.6 304,314.1 304.4,313.3 304.7,312.3 305.1,311 305.4,309.7 305.8,308.6 306.1,307.7 306.5,307.1 306.8,306.7 307.2,306.4 307.5,306.2 307.9,306 308.2,306 308.6,306.1 308.9,306.2 309.3,306.1 309.6,305.7 310,305 310.3,304.2 310.7,303.5 311,302.9 311.4,302.5 311.7,302.5 312.1,302.6 312.4,303.1 312.8,303.6 313.1,304.2 313.5,304.6 313.8,304.7 314.2,304.6 314.5,304.4 314.9,304.1 315.2,303.9 315.6,303.8 315.9,303.6 316.3,303.3 316.6,302.7 317,301.9 317.3,301.2 317.7,300.5 318,299.9 318.4,299.2 318.7,298.3 319.1,297.1 319.4,296 319.8,295.1 320.1,294.8 320.5,295.1 320.8,295.8 321.2,296.7 321.5,297.4 321.9,297.9 322.2,298 322.6,297.9 322.9,297.5 323.3,296.9 323.6,296.2 324,295.4 324.3,294.7 324.7,294.3 325,294.3 325.4,294.7 325.7,295.3 326.1,295.8 326.4,295.9 326.8,295.5 327.1,294.5 327.5,293.4 327.8,292.4 328.2,291.7 328.5,291.4 328.9,291.2 329.2,291.1 329.6,291.1 329.9,291.3 330.3,291.6 330.6,292 331,292.3 331.3,292.1 331.7,291.5 332,290.5 332.4,289.6 332.7,289 333.1,288.9 333.4,289.2 333.8,289.7 334.1,290 334.5,290.2 334.8,290.2 335.2,290.1 335.5,290 335.9,290 336.2,290 336.6,289.8 336.9,289.2 337.3,288 337.6,286.5 338,284.9 338.3,283.6 338.7,282.9 339,283 339.4,283.6 339.7,284.6 340.1,285.6 340.4,286.6 340.8,287.6 341.1,288.3 341.5,288.8 341.8,288.8 342.2,288.4 342.5,287.5 342.9,286.3 343.2,285 343.6,283.7 343.9,282.5 344.3,281.3 344.6,280.4 345,279.8 345.3,279.5 345.7,279.5 346,279.9 346.4,280.5 346.7,281.2 347.1,281.6 347.4,281.6 347.8,281.2 348.1,280.5 348.5,279.6 348.8,278.6 349.2,277.6 349.5,276.8 349.9,276.4 350.2,276.5 350.6,277 350.9,277.6 351.3,278 351.6,278.1 352,277.9 352.3,277.4 352.7,276.9 353,276.2 353.4,275.4 353.7,274.5 354.1,273.7 354.4,272.9 354.8,272.3 355.1,272.1 355.5,272.4 355.8,273.2 356.2,274.3 356.5,275.5 356.9,276.4 357.2,276.8 357.6,276.7 357.9,276.2 358.3,275.4 358.6,274.2 359,272.7 359.3,271.1 359.7,269.5 360,268.2 360.4,267.1 360.7,266.4 361.1,265.9 361.4,265.8 361.8,266.1 362.1,266.8 362.5,267.6 362.8,268 363.2,267.9 363.5,267.3 363.9,266.6 364.2,266.1 364.6,266.2 364.9,266.7 365.3,267.4 365.6,267.7 366,267.6 366.3,266.9 366.7,265.8 367,264.7 367.4,263.7 367.7,262.8 368.1,262 368.4,261.4 368.8,260.8 369.1,260 369.5,259.3 369.8,258.6 370.2,258.1 370.5,257.8 370.9,257.7 371.2,257.7 371.6,257.8 371.9,257.9 372.3,258 372.6,258 373,257.9 373.3,257.8 373.7,257.8 374,257.8 374.4,258 374.7,258.1 375.1,258.2 375.4,258.2 375.8,258.3 376.1,258.3 376.5,258.3 376.8,258.2 377.2,258.1 377.5,258.1 377.9,258 378.2,257.8 378.6,257.3 378.9,256.5 379.3,255.4 379.6,254.2 380,253.3 380.3,252.8 380.7,252.9 381,253.4 381.4,254.1 381.7,254.6 382.1,254.7 382.4,254.4 382.8,253.7 383.1,253 383.5,252.5 383.8,252.4 384.2,252.7 384.5,253.4 384.9,254.2 385.2,255.1 385.6,255.8 385.9,256.4 386.3,256.7 386.6,256.7 387,256.3 387.3,255.4 387.7,254.2 388,252.9 388.4,251.6 388.7,250.4 389.1,249.4 389.4,248.4 389.8,247.6 390.1,246.8 390.5,246.1 390.8,245.7 391.2,245.6 391.5,245.7 391.9,246.1 392.2,246.7 392.6,247.3 392.9,247.9 393.3,248.4 393.6,248.8 394,249.1 394.3,249.1 394.7,248.7 395,248 395.4,247 395.7,246.1 396.1,245.3 396.4,244.9 396.8,244.9 397.1,245.1 397.5,245.6 397.8,246.3 398.2,246.9 398.5,247.5 398.9,247.6 399.2,247.1 399.6,246 399.9,244.5 400.3,243 400.6,241.8 401,241 401.3,240.5 401.7,240.2 402,240 402.4,240 402.7,240.2 403.1,240.3 403.4,240.1 403.8,239.5 404.1,238.7 404.5,237.7 404.8,236.7 405.2,235.9 405.5,235.3 405.9,234.8 406.2,234.6 406.6,234.6 406.9,234.8 407.3,235.1 407.6,235.4 408,235.4 408.3,235.3 408.7,235.2 409,235.2 409.4,235.2 409.7,235 410.1,234.7 410.4,234.2 410.8,233.4 411.1,232.5 411.5,231.5 411.8,230.5 412.2,229.6 412.5,229 412.9,229 413.2,229.4 413.6,230.4 413.9,231.8 414.3,233.4 414.6,234.7 415,235.2 415.3,234.7 415.7,233.2 416,231.1 416.4,229 416.7,227.2 417.1,226.1 417.4,225.6 417.8,225.6 418.1,226 418.5,226.6 418.8,227.1 419.2,227.3 419.5,227.1 419.9,226.7 420.2,226.1 420.6,225.8 420.9,225.8 421.3,226.3 421.6,227.1 422,228 422.3,228.6 422.7,228.8 423,228.4 423.4,227.7 423.7,226.8 424.1,226.1 424.4,225.8 424.8,225.7 425.1,225.5 425.5,224.9 425.8,223.6 426.2,221.8 426.5,219.9 426.9,218.4 427.2,217.5 427.6,217.1 427.9,217.2 428.3,217.7 428.6,218.2 429,218.7 429.3,219.3 429.7,219.8 430,220.3 430.4,220.8 430.7,221.2 431.1,221.6 431.4,221.9 431.8,221.9 432.1,221.7 432.5,221.3 432.8,220.7 433.2,219.9 433.5,218.9 433.9,217.9 434.2,216.9 434.6,216.1 434.9,215.7 435.3,215.7 435.6,216.1 436,216.6 436.3,217.2 436.7,217.8 437,218.1 437.4,218 437.7,217.4 438.1,216.3 438.4,215 438.8,213.4 439.1,211.9 439.5,210.5 439.8,209.5 440.2,209.1 440.5,209.2 440.9,209.8 441.2,210.4 441.6,210.8 441.9,210.8 442.3,210.4 442.6,209.6 443,208.6 443.3,207.6 443.7,206.8 444,206.2 444.4,206 444.7,206.2 445.1,206.6 445.4,207.3 445.8,207.9 446.1,208.4" fill="none" stroke="#000" stroke-width="1.9" stroke-linejoin="round" stroke-linecap="round" opacity="1.0" />
<polyline points="266.2,335.7 266.6,335.4 266.9,335.4 267.3,335.7 267.6,336 268,336.1 268.3,335.9 268.7,335.4 269,334.9 269.4,334.4 269.7,334.1 270.1,333.9 270.4,333.6 270.8,333.2 271.1,332.6 271.5,332 271.8,331.6 272.2,331.4 272.5,331.4 272.9,331.4 273.2,331.3 273.6,331.2 273.9,331.2 274.3,331.1 274.6,331 275,330.7 275.3,330.3 275.7,330 276,329.7 276.4,329.5 276.7,329.5 277.1,329.4 277.4,329.3 277.8,329.1 278.1,328.8 278.5,328.5 278.8,328.2 279.2,327.8 279.5,327.3 279.9,326.8 280.2,326.1 280.6,325.5 280.9,325.1 281.3,325 281.6,325.2 282,325.7 282.3,326.4 282.7,326.9 283,327.2 283.4,327.2 283.7,327.1 284.1,327.1 284.4,327.2 284.8,327.6 285.1,327.8 285.5,327.7 285.8,327.3 286.2,326.6 286.5,326 286.9,325.5 287.2,325 287.6,324.4 287.9,323.8 288.3,323 288.6,322.3 289,321.7 289.3,321.3 289.7,321.2 290,321.1 290.4,321 290.7,320.8 291.1,320.4 291.4,320.1 291.8,319.8 292.1,319.6 292.5,319.6 292.8,319.7 293.2,319.8 293.5,319.8 293.9,319.8 294.2,319.5 294.6,319.1 294.9,318.4 295.3,317.8 295.6,317.3 296,317 296.3,317 296.7,317.2 297,317.5 297.4,318 297.7,318.5 298.1,318.8 298.4,318.9 298.8,318.7 299.1,318.2 299.5,317.6 299.8,317.1 300.2,316.6 300.5,316.1 300.9,315.5 301.2,314.8 301.6,314.3 301.9,314.1 302.3,314.2 302.6,314.6 303,315.2 303.3,315.6 303.7,315.8 304,315.6 304.4,315.4 304.7,315.1 305.1,314.7 305.4,314.4 305.8,314.2 306.1,314.1 306.5,313.8 306.8,313.4 307.2,312.8 307.5,312.4 307.9,312.2 308.2,312 308.6,311.7 308.9,311.1 309.3,310.4 309.6,309.7 310,309.2 310.3,308.9 310.7,308.8 311,308.6 311.4,308.5 311.7,308.5 312.1,308.6 312.4,308.9 312.8,309.2 313.1,309.5 313.5,309.7 313.8,309.8 314.2,309.8 314.5,309.9 314.9,309.9 315.2,309.9 315.6,309.8 315.9,309.5 316.3,309 316.6,308.3 317,307.6 317.3,306.9 317.7,306.5 318,306.3 318.4,306.1 318.7,305.9 319.1,305.6 319.4,305.3 319.8,305.1 320.1,305 320.5,304.9 320.8,304.9 321.2,304.7 321.5,304.3 321.9,303.8 322.2,303.2 322.6,302.8 322.9,302.7 323.3,302.7 323.6,302.6 324,302.3 324.3,301.9 324.7,301.3 325,300.8 325.4,300.4 325.7,300.2 326.1,300.3 326.4,300.7 326.8,301.1 327.1,301.3 327.5,301.2 327.8,301 328.2,300.7 328.5,300.5 328.9,300.4 329.2,300.2 329.6,299.9 329.9,299.5 330.3,298.9 330.6,298.4 331,298 331.3,297.8 331.7,297.7 332,297.6 332.4,297.4 332.7,297.4 333.1,297.5 333.4,297.8 333.8,298.2 334.1,298.6 334.5,298.8 334.8,298.7 335.2,298.3 335.5,298 335.9,297.7 336.2,297.6 336.6,297.6 336.9,297.5 337.3,297.4 337.6,297 338,296.4 338.3,295.6 338.7,294.9 339,294.4 339.4,294.3 339.7,294.4 340.1,294.8 340.4,295.2 340.8,295.5 341.1,295.5 341.5,295.2 341.8,294.5 342.2,293.7 342.5,293 342.9,292.4 343.2,292.1 343.6,291.8 343.9,291.5 344.3,291.3 344.6,291 345,290.9 345.3,290.9 345.7,291.1 346,291.6 346.4,292.2 346.7,292.7 347.1,292.8 347.4,292.4 347.8,291.9 348.1,291.4 348.5,291.1 348.8,291.1 349.2,291.1 349.5,291 349.9,290.8 350.2,290.5 350.6,290.1 350.9,289.6 351.3,289 351.6,288.4 352,287.8 352.3,287.3 352.7,286.9 353,286.6 353.4,286.5 353.7,286.6 354.1,286.7 354.4,286.8 354.8,286.8 355.1,286.9 355.5,287.1 355.8,287.3 356.2,287.6 356.5,287.8 356.9,287.8 357.2,287.6 357.6,287 357.9,286.2 358.3,285.2 358.6,284.4 359,283.8 359.3,283.3 359.7,283 360,282.8 360.4,282.7 360.7,282.5 361.1,282.2 361.4,282 361.8,282 362.1,282 362.5,281.8 362.8,281.4 363.2,280.9 363.5,280.4 363.9,280.2 364.2,280.2 364.6,280.5 364.9,280.9 365.3,281.4 365.6,281.9 366,282.1 366.3,281.9 366.7,281.5 367,281.1 367.4,280.7 367.7,280.6 368.1,280.7 368.4,280.8 368.8,280.9 369.1,280.8 369.5,280.3 369.8,279.6 370.2,278.8 370.5,278.1 370.9,277.7 371.2,277.8 371.6,278 371.9,278.1 372.3,278.2 372.6,278.2 373,278.2 373.3,278.2 373.7,278.2 374,278.1 374.4,277.8 374.7,277.5 375.1,277 375.4,276.6 375.8,276.3 376.1,276.1 376.5,275.9 376.8,275.5 377.2,275.2 377.5,275 377.9,275 378.2,275.1 378.6,275.2 378.9,275.3 379.3,275.3 379.6,275.2 380,274.9 380.3,274.6 380.7,274.2 381,273.8 381.4,273.2 381.7,272.6 382.1,272.1 382.4,271.7 382.8,271.4 383.1,271.2 383.5,271.1 383.8,270.9 384.2,270.7 384.5,270.5 384.9,270.6 385.2,270.7 385.6,270.9 385.9,271 386.3,271 386.6,270.9 387,270.7 387.3,270.3 387.7,269.6 388,268.7 388.4,267.9 388.7,267.5 389.1,267.7 389.4,268.3 389.8,269 390.1,269.5 390.5,269.8 390.8,269.7 391.2,269.6 391.5,269.3 391.9,269 392.2,268.7 392.6,268.3 392.9,267.9 393.3,267.6 393.6,267.2 394,267 394.3,266.8 394.7,266.8 395,266.8 395.4,266.8 395.7,266.8 396.1,267 396.4,267.2 396.8,267.4 397.1,267.6 397.5,267.5 397.8,267.3 398.2,266.9 398.5,266.5 398.9,266.3 399.2,266.2 399.6,266.1 399.9,265.7 400.3,265 400.6,264.2 401,263.3 401.3,262.7 401.7,262.3 402,262.3 402.4,262.6 402.7,262.9 403.1,263.1 403.4,263.1 403.8,262.8 404.1,262.4 404.5,262 404.8,261.8 405.2,261.6 405.5,261.3 405.9,260.9 406.2,260.6 406.6,260.2 406.9,260.1 407.3,260.1 407.6,260.3 408,260.5 408.3,260.7 408.7,260.7 409,260.6 409.4,260.5 409.7,260.4 410.1,260.2 410.4,259.9 410.8,259.4 411.1,258.8 411.5,258.2 411.8,257.6 412.2,257.2 412.5,257 412.9,256.9 413.2,256.8 413.6,256.6 413.9,256.3 414.3,256.2 414.6,256.3 415,256.7 415.3,257.3 415.7,257.8 416,258.2 416.4,258.4 416.7,258.2 417.1,257.8 417.4,257.1 417.8,256.5 418.1,256.1 418.5,256.1 418.8,256.3 419.2,256.5 419.5,256.4 419.9,256 420.2,255.5 420.6,255.2 420.9,255.1 421.3,254.9 421.6,254.7 422,254.3 422.3,254 422.7,253.8 423,253.6 423.4,253.4 423.7,253 424.1,252.7 424.4,252.5 424.8,252.7 425.1,253 425.5,253.3 425.8,253.4 426.2,253.4 426.5,253.3 426.9,253.2 427.2,253 427.6,252.7 427.9,252.3 428.3,251.8 428.6,251.3 429,250.8 429.3,250.4 429.7,250.2 430,250.1 430.4,250 430.7,250 431.1,250 431.4,250.1 431.8,250.1 432.1,250.1 432.5,249.9 432.8,249.7 433.2,249.4 433.5,249.1 433.9,248.9 434.2,248.7 434.6,248.5 434.9,248.3 435.3,248 435.6,247.4 436,246.8 436.3,246.4 436.7,246.3 437,246.7 437.4,247.4 437.7,247.9 438.1,248.1 438.4,247.9 438.8,247.3 439.1,246.5 439.5,245.9 439.8,245.6 440.2,245.6 440.5,245.9 440.9,246.2 441.2,246.2 441.6,245.8 441.9,245.1 442.3,244.3 442.6,243.6 443,243 443.3,242.8 443.7,242.9 444,243.2 444.4,243.4 444.7,243.6 445.1,243.7 445.4,243.8 445.8,243.7 446.1,243.7" fill="none" stroke="#1a1aff" stroke-width="1.9" stroke-linejoin="round" stroke-linecap="round" opacity="1.0" />
<polyline points="266.2,334.9 266.6,334.6 266.9,334.4 267.3,334.4 267.6,334.5 268,334.9 268.3,335.2 268.7,335.5 269,335.6 269.4,335.6 269.7,335.3 270.1,335 270.4,334.7 270.8,334.4 271.1,334.2 271.5,334 271.8,333.7 272.2,333.2 272.5,332.7 272.9,332.2 273.2,331.9 273.6,331.7 273.9,331.7 274.3,331.6 274.6,331.6 275,331.7 275.3,331.9 275.7,332.1 276,332.2 276.4,332 276.7,331.7 277.1,331.3 277.4,331 277.8,330.7 278.1,330.4 278.5,330.2 278.8,329.9 279.2,329.5 279.5,329.1 279.9,328.9 280.2,328.8 280.6,329 280.9,329.3 281.3,329.6 281.6,329.7 282,329.8 282.3,329.8 282.7,329.8 283,329.7 283.4,329.4 283.7,329.1 284.1,328.8 284.4,328.6 284.8,328.5 285.1,328.3 285.5,328 285.8,327.7 286.2,327.5 286.5,327.4 286.9,327.4 287.2,327.2 287.6,326.8 287.9,326.4 288.3,326 288.6,325.5 289,325.2 289.3,324.8 289.7,324.6 290,324.6 290.4,324.8 290.7,325.1 291.1,325.3 291.4,325.3 291.8,325.1 292.1,324.7 292.5,324.3 292.8,324 293.2,324.1 293.5,324.4 293.9,324.6 294.2,324.6 294.6,324.4 294.9,323.9 295.3,323.3 295.6,322.7 296,322.2 296.3,321.8 296.7,321.5 297,321.3 297.4,321.1 297.7,320.9 298.1,320.7 298.4,320.4 298.8,320.2 299.1,319.9 299.5,319.9 299.8,320 300.2,320.3 300.5,320.5 300.9,320.7 301.2,320.8 301.6,320.8 301.9,321 302.3,321.4 302.6,322 303,322.6 303.3,322.8 303.7,322.6 304,322 304.4,321.3 304.7,320.6 305.1,320.1 305.4,319.8 305.8,319.7 306.1,319.6 306.5,319.3 306.8,318.8 307.2,318.2 307.5,317.6 307.9,317.2 308.2,316.9 308.6,316.7 308.9,316.6 309.3,316.4 309.6,316.3 310,316.4 310.3,316.6 310.7,316.9 311,317.2 311.4,317.3 311.7,317.3 312.1,317.4 312.4,317.3 312.8,317.1 313.1,316.7 313.5,316.2 313.8,315.7 314.2,315.3 314.5,315.1 314.9,314.9 315.2,314.8 315.6,314.7 315.9,314.6 316.3,314.5 316.6,314.4 317,314.5 317.3,314.5 317.7,314.4 318,314.3 318.4,314.1 318.7,314.1 319.1,314.2 319.4,314.1 319.8,313.8 320.1,313.4 320.5,313.2 320.8,313.3 321.2,313.7 321.5,314.3 321.9,314.7 322.2,314.7 322.6,314.5 322.9,314.2 323.3,314 323.6,314 324,314.1 324.3,314 324.7,313.7 325,313.3 325.4,312.8 325.7,312.2 326.1,311.6 326.4,311.1 326.8,310.6 327.1,310.5 327.5,310.5 327.8,310.6 328.2,310.6 328.5,310.5 328.9,310.4 329.2,310.1 329.6,309.8 329.9,309.6 330.3,309.4 330.6,309.5 331,309.6 331.3,309.6 331.7,309.4 332,308.9 332.4,308.3 332.7,307.7 333.1,307.3 333.4,307.2 333.8,307.3 334.1,307.7 334.5,308 334.8,308.1 335.2,308.1 335.5,308.1 335.9,308.2 336.2,308.3 336.6,308.4 336.9,308.3 337.3,308 337.6,307.5 338,306.6 338.3,305.7 338.7,305 339,304.7 339.4,304.7 339.7,305 340.1,305.2 340.4,305.2 340.8,305.1 341.1,305 341.5,304.8 341.8,304.6 342.2,304.2 342.5,303.5 342.9,302.9 343.2,302.3 343.6,302.1 343.9,302.3 344.3,302.8 344.6,303.6 345,304.3 345.3,304.7 345.7,304.7 346,304.3 346.4,303.8 346.7,303.2 347.1,302.7 347.4,302.5 347.8,302.4 348.1,302.6 348.5,302.7 348.8,302.7 349.2,302.5 349.5,302.1 349.9,301.8 350.2,301.7 350.6,301.7 350.9,302 351.3,302.6 351.6,303.2 352,303.9 352.3,304.3 352.7,304.5 353,304.4 353.4,304 353.7,303.2 354.1,302.2 354.4,301.2 354.8,300.3 355.1,299.7 355.5,299.4 355.8,299.2 356.2,299 356.5,298.8 356.9,298.6 357.2,298.3 357.6,298.1 357.9,297.9 358.3,297.5 358.6,297.2 359,296.8 359.3,296.5 359.7,296.3 360,296.1 360.4,295.8 360.7,295.5 361.1,295.4 361.4,295.5 361.8,295.8 362.1,296.2 362.5,296.5 362.8,296.6 363.2,296.5 363.5,296.4 363.9,296.4 364.2,296.5 364.6,296.7 364.9,296.9 365.3,296.9 365.6,296.7 366,296.4 366.3,296.1 366.7,295.6 367,295.2 367.4,294.7 367.7,294.4 368.1,294.1 368.4,293.9 368.8,293.7 369.1,293.4 369.5,293.1 369.8,292.9 370.2,292.9 370.5,293.2 370.9,293.5 371.2,293.8 371.6,293.7 371.9,293.4 372.3,293 372.6,292.6 373,292.3 373.3,292 373.7,291.8 374,291.5 374.4,291.2 374.7,290.8 375.1,290.5 375.4,290.2 375.8,290 376.1,289.9 376.5,289.7 376.8,289.3 377.2,288.9 377.5,288.6 377.9,288.5 378.2,288.9 378.6,289.7 378.9,290.6 379.3,291.1 379.6,291.2 380,291 380.3,290.7 380.7,290.5 381,290.3 381.4,289.9 381.7,289.2 382.1,288.4 382.4,287.8 382.8,287.5 383.1,287.5 383.5,287.8 383.8,288 384.2,288.3 384.5,288.6 384.9,288.9 385.2,289.1 385.6,289.3 385.9,289.2 386.3,289 386.6,288.6 387,288.1 387.3,287.5 387.7,286.8 388,286.4 388.4,286.2 388.7,286.3 389.1,286.5 389.4,286.7 389.8,286.7 390.1,286.6 390.5,286.4 390.8,286.3 391.2,286.2 391.5,286.3 391.9,286.6 392.2,287 392.6,287.2 392.9,287.2 393.3,287.1 393.6,287.1 394,287.2 394.3,287.1 394.7,286.9 395,286.3 395.4,285.4 395.7,284.4 396.1,283.4 396.4,282.7 396.8,282.3 397.1,282.3 397.5,282.6 397.8,282.9 398.2,283.1 398.5,283.2 398.9,283.3 399.2,283.3 399.6,283.3 399.9,283.2 400.3,283 400.6,282.9 401,282.8 401.3,282.8 401.7,282.8 402,282.5 402.4,282.1 402.7,281.6 403.1,281.1 403.4,280.7 403.8,280.4 404.1,280.1 404.5,280.1 404.8,280.2 405.2,280.4 405.5,280.5 405.9,280.3 406.2,279.7 406.6,278.9 406.9,278.1 407.3,277.8 407.6,277.8 408,278.2 408.3,278.4 408.7,278.5 409,278.3 409.4,278 409.7,277.9 410.1,278.1 410.4,278.5 410.8,278.8 411.1,278.9 411.5,278.9 411.8,278.7 412.2,278.4 412.5,278 412.9,277.7 413.2,277.4 413.6,277.3 413.9,277.4 414.3,277.6 414.6,277.8 415,277.6 415.3,277 415.7,276 416,275 416.4,274.3 416.7,274.1 417.1,274.2 417.4,274.4 417.8,274.7 418.1,275.1 418.5,275.8 418.8,276.4 419.2,276.9 419.5,277.1 419.9,276.9 420.2,276.4 420.6,275.8 420.9,275.5 421.3,275.4 421.6,275.5 422,275.3 422.3,274.9 422.7,274.2 423,273.4 423.4,272.8 423.7,272.5 424.1,272.1 424.4,271.8 424.8,271.6 425.1,271.5 425.5,271.7 425.8,272 426.2,272.4 426.5,272.9 426.9,273.4 427.2,273.8 427.6,274.1 427.9,274.2 428.3,274.3 428.6,274.1 429,273.7 429.3,272.9 429.7,272.1 430,271.5 430.4,271.1 430.7,271 431.1,271.1 431.4,271.3 431.8,271.4 432.1,271.5 432.5,271.4 432.8,271.4 433.2,271.5 433.5,271.6 433.9,271.8 434.2,271.9 434.6,272 434.9,271.8 435.3,271.4 435.6,270.7 436,269.9 436.3,269.2 436.7,268.9 437,268.9 437.4,269.1 437.7,269.4 438.1,269.5 438.4,269.7 438.8,269.8 439.1,269.7 439.5,269.5 439.8,269 440.2,268.6 440.5,268.4 440.9,268.6 441.2,268.8 441.6,268.9 441.9,268.7 442.3,268.3 442.6,267.8 443,267.3 443.3,266.8 443.7,266.3 444,265.9 444.4,265.5 444.7,265.2 445.1,265.1 445.4,265.2 445.8,265.5 446.1,265.7" fill="none" stroke="#16901a" stroke-width="1.9" stroke-linejoin="round" stroke-linecap="round" opacity="1.0" />
<polyline points="266.2,335.6 266.6,335.7 266.9,335.9 267.3,336.1 267.6,336.2 268,336.1 268.3,336 268.7,335.9 269,335.8 269.4,335.9 269.7,336 270.1,336.1 270.4,336.2 270.8,336.3 271.1,336.3 271.5,336.2 271.8,335.8 272.2,335.4 272.5,335.1 272.9,334.8 273.2,334.5 273.6,334.4 273.9,334.6 274.3,334.9 274.6,335.2 275,335.3 275.3,335.2 275.7,334.8 276,334.4 276.4,334.1 276.7,333.9 277.1,333.8 277.4,333.7 277.8,333.5 278.1,333.2 278.5,332.8 278.8,332.7 279.2,332.8 279.5,332.9 279.9,332.9 280.2,332.7 280.6,332.3 280.9,331.9 281.3,331.6 281.6,331.6 282,331.8 282.3,332.1 282.7,332 283,331.5 283.4,330.7 283.7,330 284.1,329.5 284.4,329.4 284.8,329.4 285.1,329.3 285.5,329 285.8,328.7 286.2,328.6 286.5,328.7 286.9,328.9 287.2,329 287.6,329.1 287.9,329.3 288.3,329.8 288.6,330.2 289,330.4 289.3,330.4 289.7,330.3 290,330 290.4,329.5 290.7,329 291.1,328.3 291.4,327.7 291.8,327.4 292.1,327.5 292.5,327.9 292.8,328.4 293.2,328.8 293.5,328.8 293.9,328.4 294.2,327.7 294.6,326.7 294.9,325.9 295.3,325.5 295.6,325.4 296,325.6 296.3,326 296.7,326.6 297,327.2 297.4,327.7 297.7,328.1 298.1,328.2 298.4,328.2 298.8,328.1 299.1,328 299.5,327.8 299.8,327.5 300.2,327.3 300.5,327 300.9,326.9 301.2,326.7 301.6,326.4 301.9,325.9 302.3,325.3 302.6,324.8 303,324.3 303.3,324 303.7,324 304,324.1 304.4,324.3 304.7,324.6 305.1,325 305.4,325.4 305.8,325.7 306.1,325.8 306.5,325.7 306.8,325.3 307.2,324.7 307.5,324.1 307.9,323.7 308.2,323.4 308.6,323.3 308.9,323.2 309.3,323.2 309.6,323.1 310,323 310.3,323 310.7,322.9 311,322.6 311.4,322.2 311.7,321.6 312.1,320.9 312.4,320.3 312.8,320.1 313.1,320.1 313.5,320.3 313.8,320.5 314.2,320.5 314.5,320.5 314.9,320.8 315.2,321.3 315.6,321.7 315.9,322.1 316.3,322.2 316.6,322.2 317,322 317.3,321.4 317.7,320.7 318,320 318.4,319.4 318.7,319.1 319.1,318.8 319.4,318.7 319.8,318.7 320.1,318.6 320.5,318.6 320.8,318.6 321.2,318.9 321.5,319.4 321.9,319.9 322.2,320.2 322.6,320 322.9,319.4 323.3,318.5 323.6,317.6 324,317 324.3,316.7 324.7,316.7 325,316.9 325.4,317.1 325.7,317.3 326.1,317.3 326.4,317.2 326.8,316.9 327.1,316.7 327.5,316.6 327.8,316.6 328.2,316.7 328.5,316.7 328.9,316.6 329.2,316.3 329.6,316 329.9,315.6 330.3,315.2 330.6,314.8 331,314.6 331.3,314.6 331.7,314.8 332,315.3 332.4,315.7 332.7,316 333.1,316 333.4,315.8 333.8,315.5 334.1,315.3 334.5,315.1 334.8,315.2 335.2,315.3 335.5,315.4 335.9,315.5 336.2,315.6 336.6,315.5 336.9,315.3 337.3,314.8 337.6,314.3 338,314 338.3,313.8 338.7,313.7 339,313.6 339.4,313.5 339.7,313.3 340.1,313.3 340.4,313.3 340.8,313.2 341.1,313.1 341.5,312.9 341.8,312.7 342.2,312.5 342.5,312.4 342.9,312.5 343.2,312.4 343.6,312.3 343.9,312.2 344.3,312 344.6,311.8 345,311.6 345.3,311.3 345.7,311 346,310.8 346.4,310.8 346.7,311 347.1,311.5 347.4,312 347.8,312.5 348.1,312.7 348.5,312.4 348.8,311.8 349.2,311.2 349.5,310.7 349.9,310.4 350.2,310.2 350.6,310 350.9,309.8 351.3,309.7 351.6,309.6 352,309.4 352.3,309.1 352.7,308.5 353,307.9 353.4,307.3 353.7,307.1 354.1,307.4 354.4,307.9 354.8,308.4 355.1,308.6 355.5,308.5 355.8,308.2 356.2,308.1 356.5,308.5 356.9,309.2 357.2,309.9 357.6,310.3 357.9,310.1 358.3,309.4 358.6,308.4 359,307.5 359.3,306.8 359.7,306.3 360,306 360.4,305.8 360.7,305.7 361.1,305.7 361.4,305.8 361.8,306 362.1,306.1 362.5,306.3 362.8,306.5 363.2,306.6 363.5,306.6 363.9,306.2 364.2,305.7 364.6,305.2 364.9,305 365.3,305 365.6,305.1 366,305 366.3,304.7 366.7,304.3 367,303.7 367.4,303.2 367.7,302.9 368.1,302.9 368.4,303.4 368.8,304.2 369.1,305 369.5,305.6 369.8,305.9 370.2,305.8 370.5,305.3 370.9,304.8 371.2,304.2 371.6,303.8 371.9,303.6 372.3,303.7 372.6,303.9 373,303.9 373.3,303.6 373.7,303.3 374,303 374.4,302.8 374.7,302.8 375.1,302.8 375.4,302.9 375.8,302.9 376.1,302.7 376.5,302.2 376.8,301.6 377.2,301 377.5,300.6 377.9,300.3 378.2,300 378.6,299.6 378.9,299 379.3,298.6 379.6,298.4 380,298.7 380.3,299.4 380.7,300.1 381,300.7 381.4,300.9 381.7,300.8 382.1,300.6 382.4,300.4 382.8,300.3 383.1,300.3 383.5,300.4 383.8,300.5 384.2,300.5 384.5,300.8 384.9,301.1 385.2,301.5 385.6,301.6 385.9,301.2 386.3,300.4 386.6,299.3 387,298.2 387.3,297.1 387.7,296.5 388,296.3 388.4,296.4 388.7,296.8 389.1,297.1 389.4,297.3 389.8,297.3 390.1,297.2 390.5,297 390.8,296.8 391.2,296.5 391.5,296.2 391.9,295.8 392.2,295.7 392.6,296 392.9,296.6 393.3,297.4 393.6,298 394,298.4 394.3,298.3 394.7,298.1 395,297.7 395.4,297.4 395.7,297 396.1,296.7 396.4,296.4 396.8,296.2 397.1,295.9 397.5,295.7 397.8,295.7 398.2,295.6 398.5,295.4 398.9,294.9 399.2,294.3 399.6,293.8 399.9,293.4 400.3,293.1 400.6,292.9 401,292.7 401.3,292.7 401.7,292.9 402,293 402.4,293 402.7,292.9 403.1,292.6 403.4,292.6 403.8,292.7 404.1,292.9 404.5,293 404.8,293.1 405.2,293 405.5,292.8 405.9,292.5 406.2,292.1 406.6,291.5 406.9,290.8 407.3,290.4 407.6,290.3 408,290.6 408.3,291.1 408.7,291.7 409,291.9 409.4,292 409.7,291.8 410.1,291.7 410.4,291.5 410.8,291.2 411.1,290.9 411.5,290.4 411.8,290 412.2,289.7 412.5,289.5 412.9,289.5 413.2,289.8 413.6,290.2 413.9,290.6 414.3,290.7 414.6,290.5 415,289.8 415.3,288.7 415.7,287.5 416,286.5 416.4,286.2 416.7,286.4 417.1,286.9 417.4,287.4 417.8,287.6 418.1,287.5 418.5,287.1 418.8,286.8 419.2,286.8 419.5,287.1 419.9,287.5 420.2,287.8 420.6,288.1 420.9,288.3 421.3,288.4 421.6,288.4 422,288 422.3,287.6 422.7,287 423,286.7 423.4,286.8 423.7,287.2 424.1,287.6 424.4,287.9 424.8,287.8 425.1,287.5 425.5,287.1 425.8,286.6 426.2,286.1 426.5,285.7 426.9,285.6 427.2,285.7 427.6,286.2 427.9,286.6 428.3,286.8 428.6,286.7 429,286.4 429.3,286.1 429.7,285.9 430,285.8 430.4,285.7 430.7,285.7 431.1,285.7 431.4,285.7 431.8,285.6 432.1,285.5 432.5,285.3 432.8,285.2 433.2,284.9 433.5,284.4 433.9,283.9 434.2,283.6 434.6,283.5 434.9,283.8 435.3,284.2 435.6,284.7 436,284.9 436.3,284.9 436.7,284.5 437,283.9 437.4,283.3 437.7,282.9 438.1,282.5 438.4,282.2 438.8,281.9 439.1,281.5 439.5,281.3 439.8,281.2 440.2,281.4 440.5,281.6 440.9,281.7 441.2,281.7 441.6,281.6 441.9,281.6 442.3,281.6 442.6,281.6 443,281.5 443.3,281.3 443.7,281.1 444,281 444.4,281 444.7,281.1 445.1,281.2 445.4,281.1 445.8,280.8 446.1,280.4" fill="none" stroke="#b5a22a" stroke-width="1.9" stroke-linejoin="round" stroke-linecap="round" opacity="1.0" />
<polyline points="266.2,335.1 266.6,334.8 266.9,334.9 267.3,335.1 267.6,335.5 268,335.8 268.3,335.8 268.7,335.7 269,335.4 269.4,335 269.7,334.8 270.1,334.6 270.4,334.6 270.8,334.5 271.1,334.5 271.5,334.5 271.8,334.5 272.2,334.5 272.5,334.5 272.9,334.5 273.2,334.4 273.6,334.1 273.9,333.9 274.3,333.7 274.6,333.6 275,333.7 275.3,333.9 275.7,333.9 276,333.8 276.4,333.4 276.7,333 277.1,332.5 277.4,332.2 277.8,331.9 278.1,331.7 278.5,331.5 278.8,331.5 279.2,331.6 279.5,331.9 279.9,332.4 280.2,333 280.6,333.5 280.9,333.7 281.3,333.5 281.6,333.1 282,332.4 282.3,331.5 282.7,330.7 283,330.2 283.4,330.2 283.7,330.6 284.1,331.2 284.4,331.8 284.8,332.1 285.1,332.2 285.5,332 285.8,331.7 286.2,331.6 286.5,331.6 286.9,331.7 287.2,331.9 287.6,331.8 287.9,331.6 288.3,331.3 288.6,331.2 289,331.4 289.3,331.7 289.7,331.8 290,331.6 290.4,331 290.7,330.3 291.1,329.8 291.4,329.5 291.8,329.3 292.1,329 292.5,328.3 292.8,327.4 293.2,326.5 293.5,326 293.9,325.8 294.2,326.2 294.6,326.8 294.9,327.6 295.3,328.2 295.6,328.4 296,328.5 296.3,328.4 296.7,328.3 297,328.1 297.4,327.9 297.7,327.6 298.1,327.3 298.4,327.1 298.8,327 299.1,326.9 299.5,326.9 299.8,326.9 300.2,327.1 300.5,327.3 300.9,327.3 301.2,327 301.6,326.8 301.9,326.6 302.3,326.8 302.6,327.2 303,327.6 303.3,327.7 303.7,327.7 304,327.5 304.4,327.4 304.7,327.3 305.1,327.3 305.4,327.1 305.8,326.8 306.1,326.5 306.5,326.1 306.8,325.6 307.2,324.9 307.5,324.3 307.9,324 308.2,324.1 308.6,324.7 308.9,325.5 309.3,326.2 309.6,326.3 310,326 310.3,325.5 310.7,325.2 311,325.2 311.4,325.3 311.7,325.3 312.1,324.8 312.4,324 312.8,323.2 313.1,322.7 313.5,322.8 313.8,323.3 314.2,323.9 314.5,324.3 314.9,324.4 315.2,324.4 315.6,324.3 315.9,324.1 316.3,323.9 316.6,323.6 317,323.3 317.3,322.8 317.7,322.1 318,321.3 318.4,320.7 318.7,320.4 319.1,320.7 319.4,321.4 319.8,322.3 320.1,323.1 320.5,323.6 320.8,323.6 321.2,323.2 321.5,322.6 321.9,322 322.2,321.5 322.6,321.2 322.9,320.9 323.3,320.6 323.6,320.4 324,320.3 324.3,320.3 324.7,320.3 325,320.4 325.4,320.3 325.7,320.2 326.1,320 326.4,319.9 326.8,319.9 327.1,320 327.5,320.1 327.8,320.2 328.2,320.4 328.5,320.5 328.9,320.6 329.2,320.7 329.6,320.8 329.9,320.9 330.3,321.2 330.6,321.4 331,321.6 331.3,321.6 331.7,321.4 332,321 332.4,320.5 332.7,319.9 333.1,319.4 333.4,319.2 333.8,319.2 334.1,319.2 334.5,319.1 334.8,318.7 335.2,318.3 335.5,318 335.9,317.9 336.2,318.2 336.6,318.6 336.9,318.8 337.3,318.6 337.6,318.3 338,317.9 338.3,317.6 338.7,317.4 339,317.1 339.4,316.9 339.7,316.7 340.1,316.7 340.4,316.7 340.8,316.6 341.1,316.3 341.5,315.9 341.8,315.6 342.2,315.5 342.5,315.6 342.9,315.8 343.2,316.1 343.6,316.3 343.9,316.3 344.3,316.1 344.6,315.8 345,315.7 345.3,315.7 345.7,315.7 346,315.7 346.4,315.6 346.7,315.5 347.1,315.3 347.4,315.1 347.8,315.1 348.1,315.3 348.5,315.5 348.8,315.7 349.2,315.6 349.5,315.5 349.9,315.2 350.2,314.7 350.6,314.2 350.9,313.8 351.3,313.5 351.6,313.4 352,313.5 352.3,313.7 352.7,313.9 353,314.1 353.4,314.4 353.7,314.6 354.1,314.6 354.4,314.4 354.8,314.1 355.1,313.7 355.5,313.4 355.8,313.3 356.2,313.3 356.5,313.4 356.9,313.6 357.2,313.9 357.6,313.9 357.9,313.6 358.3,313.1 358.6,312.7 359,312.4 359.3,312.3 359.7,312.2 360,312 360.4,311.9 360.7,311.8 361.1,311.6 361.4,311.3 361.8,310.9 362.1,310.5 362.5,310.1 362.8,310 363.2,310.1 363.5,310.4 363.9,310.9 364.2,311.4 364.6,311.8 364.9,311.8 365.3,311.3 365.6,310.5 366,309.8 366.3,309.7 366.7,310.2 367,311 367.4,311.8 367.7,312.2 368.1,312.3 368.4,312.2 368.8,311.9 369.1,311.3 369.5,310.7 369.8,309.9 370.2,309.2 370.5,308.7 370.9,308.3 371.2,307.9 371.6,307.6 371.9,307.6 372.3,307.8 372.6,308.3 373,308.9 373.3,309.3 373.7,309.4 374,309.3 374.4,309.2 374.7,309.1 375.1,309.2 375.4,309.3 375.8,309.4 376.1,309.5 376.5,309.5 376.8,309.3 377.2,309 377.5,308.8 377.9,308.8 378.2,309 378.6,309.2 378.9,309.2 379.3,309.2 379.6,309.2 380,309.1 380.3,308.8 380.7,308.2 381,307.4 381.4,306.7 381.7,306.1 382.1,305.7 382.4,305.5 382.8,305.3 383.1,305.2 383.5,305.2 383.8,305.2 384.2,305.1 384.5,305 384.9,305.1 385.2,305.6 385.6,306 385.9,306.1 386.3,305.6 386.6,304.8 387,304 387.3,303.6 387.7,303.6 388,303.9 388.4,304.3 388.7,304.6 389.1,304.6 389.4,304.5 389.8,304.3 390.1,304.1 390.5,304.1 390.8,304.4 391.2,304.6 391.5,304.8 391.9,304.8 392.2,304.6 392.6,304.5 392.9,304.5 393.3,304.4 393.6,304.2 394,303.9 394.3,303.5 394.7,303.2 395,303 395.4,303.1 395.7,303.4 396.1,303.7 396.4,303.8 396.8,303.5 397.1,303 397.5,302.4 397.8,301.9 398.2,301.6 398.5,301.5 398.9,301.4 399.2,301.3 399.6,301.3 399.9,301.5 400.3,301.7 400.6,301.9 401,301.8 401.3,301.5 401.7,301 402,300.8 402.4,300.8 402.7,301.1 403.1,301.4 403.4,301.2 403.8,300.6 404.1,299.7 404.5,298.9 404.8,298.5 405.2,298.5 405.5,298.9 405.9,299.6 406.2,300.4 406.6,301.2 406.9,301.6 407.3,301.7 407.6,301.4 408,301 408.3,300.8 408.7,300.6 409,300.7 409.4,301 409.7,301.3 410.1,301.8 410.4,302.3 410.8,302.7 411.1,302.8 411.5,302.6 411.8,302 412.2,301.2 412.5,300.3 412.9,299.5 413.2,298.8 413.6,298.4 413.9,298.2 414.3,298.2 414.6,298.2 415,298.3 415.3,298.4 415.7,298.4 416,298.5 416.4,298.8 416.7,299.3 417.1,299.9 417.4,300.4 417.8,300.6 418.1,300.3 418.5,299.8 418.8,299 419.2,298.4 419.5,297.7 419.9,297.2 420.2,296.7 420.6,296.3 420.9,296.1 421.3,296 421.6,296 422,295.9 422.3,295.6 422.7,295.1 423,294.8 423.4,294.7 423.7,294.7 424.1,294.8 424.4,294.8 424.8,294.7 425.1,294.7 425.5,294.9 425.8,295.5 426.2,296.4 426.5,297.2 426.9,297.8 427.2,297.8 427.6,297.5 427.9,296.9 428.3,296.1 428.6,295.5 429,295.2 429.3,295.3 429.7,295.5 430,295.8 430.4,296 430.7,295.9 431.1,295.7 431.4,295.4 431.8,295.1 432.1,294.8 432.5,294.4 432.8,294 433.2,293.6 433.5,293.2 433.9,292.9 434.2,292.6 434.6,292.1 434.9,291.4 435.3,290.5 435.6,289.7 436,289.3 436.3,289.5 436.7,290 437,290.5 437.4,291 437.7,291.4 438.1,292.1 438.4,292.8 438.8,293.6 439.1,294 439.5,294 439.8,293.4 440.2,292.4 440.5,291.4 440.9,290.7 441.2,290.5 441.6,290.9 441.9,291.4 442.3,292 442.6,292.4 443,292.6 443.3,292.6 443.7,292.2 444,291.7 444.4,291 444.7,290.4 445.1,289.9 445.4,289.7 445.8,289.7 446.1,289.8" fill="none" stroke="#f28c3a" stroke-width="1.9" stroke-linejoin="round" stroke-linecap="round" opacity="1.0" />
<polyline points="266.2,336.9 266.6,337 266.9,336.9 267.3,336.8 267.6,336.7 268,336.6 268.3,336.7 268.7,336.6 269,336.2 269.4,335.6 269.7,335 270.1,334.7 270.4,334.6 270.8,334.7 271.1,334.6 271.5,334.4 271.8,334.3 272.2,334.3 272.5,334.3 272.9,334.5 273.2,334.8 273.6,335.3 273.9,335.8 274.3,336.2 274.6,336.5 275,336.6 275.3,336.3 275.7,335.7 276,334.8 276.4,333.9 276.7,333.1 277.1,332.4 277.4,331.9 277.8,331.5 278.1,331.4 278.5,331.6 278.8,332.2 279.2,333 279.5,333.5 279.9,333.6 280.2,333.2 280.6,332.7 280.9,332.4 281.3,332.4 281.6,332.5 282,332.6 282.3,332.8 282.7,333.2 283,333.5 283.4,333.6 283.7,333.1 284.1,332.3 284.4,331.5 284.8,331.2 285.1,331.4 285.5,332 285.8,332.6 286.2,333.1 286.5,333.5 286.9,334 287.2,334.1 287.6,333.8 287.9,333 288.3,332.1 288.6,331.6 289,331.7 289.3,332.2 289.7,332.7 290,333.1 290.4,333.1 290.7,332.7 291.1,331.6 291.4,330 291.8,328.3 292.1,327.2 292.5,327 292.8,327.5 293.2,328.3 293.5,329 293.9,329.6 294.2,330 294.6,330.4 294.9,330.6 295.3,330.5 295.6,330.3 296,330.1 296.3,330.1 296.7,330 297,329.5 297.4,328.7 297.7,327.9 298.1,327.3 298.4,327.2 298.8,327.5 299.1,327.7 299.5,327.7 299.8,327.4 300.2,327.2 300.5,327.3 300.9,327.9 301.2,328.6 301.6,328.9 301.9,328.7 302.3,328.4 302.6,328.4 303,329 303.3,330 303.7,330.9 304,331.3 304.4,331 304.7,330 305.1,328.8 305.4,327.5 305.8,326.7 306.1,326.6 306.5,327 306.8,327.7 307.2,328.3 307.5,328.7 307.9,328.7 308.2,328.5 308.6,328.2 308.9,328.3 309.3,328.5 309.6,328.7 310,328.3 310.3,327.5 310.7,326.9 311,326.8 311.4,327.1 311.7,327.5 312.1,327.6 312.4,327.4 312.8,326.7 313.1,326 313.5,325.4 313.8,325.3 314.2,325.5 314.5,325.8 314.9,326.1 315.2,326.3 315.6,326.2 315.9,325.8 316.3,325 316.6,324 317,323.2 317.3,322.8 317.7,322.9 318,323.3 318.4,323.8 318.7,324.3 319.1,324.7 319.4,325.1 319.8,325.3 320.1,325.1 320.5,324.5 320.8,324 321.2,323.9 321.5,324.3 321.9,325.2 322.2,325.9 322.6,326.4 322.9,326.4 323.3,326.1 323.6,325.8 324,325.8 324.3,326.1 324.7,326.4 325,326.3 325.4,325.8 325.7,324.8 326.1,323.6 326.4,322.7 326.8,322.3 327.1,322.4 327.5,322.8 327.8,323.3 328.2,323.5 328.5,323.7 328.9,323.9 329.2,324.3 329.6,324.6 329.9,324.7 330.3,324.4 330.6,324 331,323.5 331.3,322.8 331.7,322.3 332,322.2 332.4,322.5 332.7,323.1 333.1,323.7 333.4,324 333.8,324.1 334.1,324.2 334.5,324.2 334.8,323.9 335.2,323.1 335.5,322 335.9,320.5 336.2,319 336.6,317.8 336.9,317.4 337.3,317.8 337.6,318.9 338,320.1 338.3,321 338.7,321.2 339,321.1 339.4,320.9 339.7,320.8 340.1,320.6 340.4,320.4 340.8,320.2 341.1,320.1 341.5,320.5 341.8,321 342.2,321.6 342.5,321.8 342.9,321.6 343.2,321.1 343.6,320.6 343.9,320.5 344.3,320.8 344.6,321.4 345,322 345.3,322.2 345.7,322.1 346,322 346.4,321.8 346.7,321.6 347.1,321.1 347.4,320.3 347.8,319.6 348.1,319.3 348.5,319.4 348.8,319.7 349.2,319.9 349.5,320 349.9,319.8 350.2,319.5 350.6,318.8 350.9,317.9 351.3,317.2 351.6,316.9 352,317 352.3,317.2 352.7,317 353,316.3 353.4,315.5 353.7,315.2 354.1,315.4 354.4,316.1 354.8,316.6 355.1,316.8 355.5,316.6 355.8,316.4 356.2,316.2 356.5,316.1 356.9,316.1 357.2,316.2 357.6,316.4 357.9,316.4 358.3,316.2 358.6,316 359,315.8 359.3,315.8 359.7,315.9 360,316.3 360.4,316.8 360.7,317.3 361.1,317.8 361.4,317.9 361.8,317.6 362.1,317 362.5,316.5 362.8,316.2 363.2,316.2 363.5,316.2 363.9,316.1 364.2,315.9 364.6,315.7 364.9,315.6 365.3,315.8 365.6,316.1 366,316.5 366.3,316.9 366.7,317.3 367,317.6 367.4,317.7 367.7,317.6 368.1,317.4 368.4,316.9 368.8,316.2 369.1,315.5 369.5,314.9 369.8,314.6 370.2,314.7 370.5,315.1 370.9,315.9 371.2,316.9 371.6,318 371.9,318.7 372.3,318.8 372.6,318.1 373,317 373.3,315.8 373.7,314.8 374,314.3 374.4,314 374.7,313.9 375.1,314 375.4,314.2 375.8,314.6 376.1,314.9 376.5,315 376.8,315.1 377.2,314.9 377.5,314.6 377.9,314.2 378.2,314.2 378.6,314.3 378.9,314.3 379.3,313.8 379.6,313.3 380,312.9 380.3,312.9 380.7,313.3 381,313.8 381.4,314.3 381.7,314.6 382.1,314.7 382.4,314.6 382.8,314.4 383.1,314.1 383.5,313.9 383.8,313.8 384.2,313.9 384.5,314.1 384.9,314 385.2,313.6 385.6,312.7 385.9,311.9 386.3,311.5 386.6,311.7 387,312.1 387.3,312.4 387.7,312.2 388,311.9 388.4,311.8 388.7,312 389.1,312.3 389.4,312.4 389.8,312 390.1,311.3 390.5,310.3 390.8,309.2 391.2,308.2 391.5,307.6 391.9,307.6 392.2,308.5 392.6,309.7 392.9,310.8 393.3,311.6 393.6,312 394,312.1 394.3,312 394.7,311.6 395,311.1 395.4,310.3 395.7,309.6 396.1,309.1 396.4,308.9 396.8,308.8 397.1,308.8 397.5,309.1 397.8,310.1 398.2,311.4 398.5,312.4 398.9,312.4 399.2,311.5 399.6,310.4 399.9,309.6 400.3,309.2 400.6,309.3 401,309.5 401.3,309.6 401.7,309.7 402,309.9 402.4,310.2 402.7,310.4 403.1,310.3 403.4,310 403.8,310 404.1,310.3 404.5,311 404.8,311.5 405.2,311.7 405.5,311.8 405.9,311.8 406.2,312 406.6,311.9 406.9,311.3 407.3,310.2 407.6,309 408,308.3 408.3,308.1 408.7,308.2 409,308.6 409.4,309.2 409.7,309.7 410.1,309.9 410.4,309.8 410.8,309.4 411.1,308.8 411.5,308.4 411.8,308 412.2,307.6 412.5,307.2 412.9,306.8 413.2,306.6 413.6,306.7 413.9,307.1 414.3,307.3 414.6,307.5 415,307.4 415.3,307.3 415.7,307.1 416,306.8 416.4,306.4 416.7,305.9 417.1,305.6 417.4,305.4 417.8,305.4 418.1,305.6 418.5,305.8 418.8,305.9 419.2,305.4 419.5,304.5 419.9,303.5 420.2,303.1 420.6,303.6 420.9,305 421.3,306.5 421.6,307.7 422,308.3 422.3,308.5 422.7,308.3 423,307.7 423.4,306.7 423.7,305.5 424.1,304.3 424.4,303.5 424.8,303.3 425.1,303.6 425.5,304.2 425.8,304.7 426.2,305 426.5,305.1 426.9,305 427.2,304.7 427.6,304.1 427.9,303.5 428.3,303 428.6,302.8 429,303 429.3,303.6 429.7,304.1 430,304.2 430.4,303.7 430.7,302.7 431.1,302 431.4,302.2 431.8,303.4 432.1,305 432.5,306.3 432.8,306.7 433.2,306.3 433.5,305.4 433.9,304.5 434.2,304 434.6,304.2 434.9,304.7 435.3,304.9 435.6,304.5 436,303.6 436.3,302.5 436.7,301.6 437,301 437.4,301.1 437.7,301.8 438.1,302.9 438.4,303.9 438.8,304.5 439.1,304.4 439.5,304 439.8,303.6 440.2,303.4 440.5,303.6 440.9,304 441.2,304.3 441.6,304.5 441.9,304.5 442.3,304.4 442.6,304.5 443,304.7 443.3,304.7 443.7,304.4 444,303.8 444.4,303.2 444.7,302.8 445.1,302.6 445.4,302.7 445.8,303 446.1,303.1" fill="none" stroke="#ff1010" stroke-width="1.9" stroke-linejoin="round" stroke-linecap="round" opacity="1.0" />
</g>
<rect x="266.2" y="192.9" width="180.1" height="143.2" fill="none" stroke="#959595" stroke-width="1.3"/>
<line x1="266.2" y1="336.1" x2="266.2" y2="336.1" stroke="#a0a0a0" stroke-width="0.8"/>
<text x="261.6" y="338.2" font-size="8.0" text-anchor="end" fill="#1e1e1e">0</text>
<line x1="266.2" y1="288.4" x2="271.2" y2="288.4" stroke="#a0a0a0" stroke-width="0.8"/>
<text x="261.6" y="290.5" font-size="8.0" text-anchor="end" fill="#1e1e1e">2</text>
<line x1="266.2" y1="240.6" x2="271.2" y2="240.6" stroke="#a0a0a0" stroke-width="0.8"/>
<text x="261.6" y="242.7" font-size="8.0" text-anchor="end" fill="#1e1e1e">4</text>
<line x1="266.2" y1="192.9" x2="266.2" y2="192.9" stroke="#a0a0a0" stroke-width="0.8"/>
<text x="261.6" y="195" font-size="8.0" text-anchor="end" fill="#1e1e1e">6</text>
<line x1="266.2" y1="336.1" x2="266.2" y2="336.1" stroke="#a0a0a0" stroke-width="0.8"/>
<text x="266.2" y="346.4" font-size="8.0" text-anchor="middle" fill="#1e1e1e">0</text>
<line x1="311.2" y1="336.1" x2="311.2" y2="331.1" stroke="#a0a0a0" stroke-width="0.8"/>
<text x="311.2" y="346.4" font-size="8.0" text-anchor="middle" fill="#1e1e1e">20</text>
<line x1="356.2" y1="336.1" x2="356.2" y2="331.1" stroke="#a0a0a0" stroke-width="0.8"/>
<text x="356.2" y="346.4" font-size="8.0" text-anchor="middle" fill="#1e1e1e">40</text>
<line x1="401.3" y1="336.1" x2="401.3" y2="331.1" stroke="#a0a0a0" stroke-width="0.8"/>
<text x="401.3" y="346.4" font-size="8.0" text-anchor="middle" fill="#1e1e1e">60</text>
<line x1="446.3" y1="336.1" x2="446.3" y2="336.1" stroke="#a0a0a0" stroke-width="0.8"/>
<text x="446.3" y="346.4" font-size="8.0" text-anchor="middle" fill="#1e1e1e">80</text>
<text x="356.2" y="360.6" font-size="8.7" text-anchor="middle" font-weight="normal" fill="#1e1e1e" ><tspan font-style="italic">B</tspan> (mT)</text>
<text transform="translate(244.8,260.5) rotate(-90)" font-size="8.7" text-anchor="middle" fill="#1e1e1e"><tspan font-style="italic">ρ</tspan><tspan font-size="6.2" dy="2.2" font-style="italic">xy</tspan><tspan font-size="6.2" dx="-6.2" dy="-6.4">odd</tspan><tspan dy="4.2"> (×10</tspan><tspan font-size="5.6" dy="-3">−2</tspan><tspan dy="3"> μΩ m)</tspan></text>
<text x="341" y="212.6" font-size="8.7" text-anchor="start" font-weight="normal" fill="#1e1e1e" ><tspan font-style="italic">p</tspan> = 10.5 kbar</text>
<line x1="278" y1="201.2" x2="284.9" y2="201.2" stroke="#ff1010" stroke-width="1.3"/>
<text x="287.9" y="204.2" font-size="8.7" text-anchor="start" font-weight="normal" fill="#1e1e1e" >1 K</text>
<line x1="278" y1="215.2" x2="284.9" y2="215.2" stroke="#f28c3a" stroke-width="1.3"/>
<text x="287.9" y="218.2" font-size="8.7" text-anchor="start" font-weight="normal" fill="#1e1e1e" >0.76 K</text>
<line x1="278" y1="229.3" x2="284.9" y2="229.3" stroke="#b5a22a" stroke-width="1.3"/>
<text x="287.9" y="232.3" font-size="8.7" text-anchor="start" font-weight="normal" fill="#1e1e1e" >0.58 K</text>
<line x1="278" y1="243.4" x2="284.9" y2="243.4" stroke="#16901a" stroke-width="1.3"/>
<text x="287.9" y="246.4" font-size="8.7" text-anchor="start" font-weight="normal" fill="#1e1e1e" >0.45 K</text>
<line x1="278" y1="257.6" x2="284.9" y2="257.6" stroke="#1a1aff" stroke-width="1.3"/>
<text x="287.9" y="260.6" font-size="8.7" text-anchor="start" font-weight="normal" fill="#1e1e1e" >0.30 K</text>
<line x1="278" y1="271.8" x2="284.9" y2="271.8" stroke="#000" stroke-width="1.3"/>
<text x="287.9" y="274.8" font-size="8.7" text-anchor="start" font-weight="normal" fill="#1e1e1e" >0.07 K</text>
<clipPath id="cf"><rect x="500.6" y="192.7" width="179.89999999999998" height="143.40000000000003"/></clipPath>
<line x1="500.6" y1="207.5" x2="680.5" y2="207.5" stroke="#444" stroke-width="0.9"/>
<g clip-path="url(#cf)">
<polyline points="500.7,326.8 500.5,320.7 501.1,325.2 501.3,323.4 501.5,322.5 502,324.1 502.3,324.3 502.7,325.5 502.8,323.4 502.9,320.6 503.4,323.9 504,327.5 503.9,321.7 504.5,326.7 504.8,326.2 504.9,323.8 505.4,325.7 505.4,322.9 505.8,323.7 506,322.1 506.6,325.8 507,328.1 506.9,322.8 507.6,327.5 507.3,318.9 507.8,322.1 508,321.7 508.8,328.6 508.7,322.7 509.3,326.1 509,318.8 509.7,324.3 510.1,325.4 510.3,323.8 510.1,316.8 510.9,324.2 511.3,325.8 511.7,327 511.8,324.6 511.8,319.2 512.3,322.9 512.8,325.7 512.8,321.2 513.3,324.7 513.4,322 513.8,323.4 514.2,325.1 514.3,321.2 515.2,330.4 515,323.3 515.4,323.8 515.5,320.9 515.9,323 516.1,322 516.2,318.9 516.5,318.7 517.1,323.3 517.3,322.3 517.2,315.7 517.6,316.9 518.2,321.6 518.5,322.1 518.9,323.8 518.9,319 519.5,323.7 519.7,321.3 519.9,320.7 520.3,321.6 520.8,324.5 521,323.4 521.3,324.2 521.4,320 521.8,321 521.9,318.7 522.3,320.2 522.6,320.6 522.9,320.4 523.4,323.4 523.6,322.6 524,323.4 524.2,321.7 524.6,324.1 524.8,321.6 525.2,323.8 525.4,322.5 525.8,323.1 525.9,321 526.1,317.9 526.4,317.3 527.1,326.1 527.2,322 527.5,322.1 527.7,320.5 528,319.7 528.7,328.3 528.5,317.9 528.9,320.6 529.2,320.5 529.4,317.7 529.6,317.3 530,318.7 530.4,319.6 530.6,319.2 531.1,322.5 531.1,317.3 531.6,321.4 532.1,324.1 532.3,322.5 532.3,317.2 532.3,312.5 533.2,322.3 533.4,321.3 533.6,318.5 534.2,323.2 534.2,318.8 534.6,320.1 534.7,317.1 535.2,320.5 535.4,318.5 535.6,318.3 536.2,322.3 536.4,320 536.3,315.6 537,321.1 537.3,321.5 537.4,317.1 537.7,318.2 538.1,319.3 538.3,318.4 538.7,319.4 539.1,320.7 539.2,317.7 539.9,324.3 539.8,317 540.1,317.4 540.8,323.8 541.1,324.9 541.1,318.7 541.3,318.1 541.4,315.8 542.1,321.4 542.3,318.9 542.3,316.2 542.9,319.3 543.4,321.7 543.6,319.9 544.2,323.7 544.3,320.9 544.4,319 544.5,317.7 545,319.1 545.5,320.7 545.7,319.7 546,320 546,317.8 546.5,319.1 547,320.1 546.7,316.5 546.5,313.5 548.1,320.8 547.9,317.8 547.4,315.2 548.1,316.4 547.8,315.2 546.7,311.9 548.1,314.8 547.1,312 548.6,315 548.5,314.1 549.6,316.2 548.6,313.5 549.1,314.1 548.6,312.5 548.6,312.1 547.8,309.9 550,314.2 549.4,312.3 548.8,310.6 549.5,311.8 549.1,310.3 548.8,309.4 549.8,311 550.7,312.5 549.5,309.4 548.5,306.9 549.3,308.2 551.5,312.4 549.2,307.2 551.1,310.7 549.9,307.7 550.8,309.3 550.1,307.4 548.9,304.3 550,306.2 552.3,310.7 550.3,306.2 551,307.2 550.3,305.2 550.5,305.3 551,305.8 551.2,305.8 552.8,308.8 550.9,304.3 550.8,303.7 550.4,302.5 549.9,301 549.7,300.1 551.8,304.1 549.6,299.1 552.6,305 552.2,303.6 551.2,301.2 550.6,299.2 551.7,301.2 551.7,300.9 552.8,302.7 551.2,298.9 551.6,299.3 551.9,299.6 551.8,298.9 551.6,297.9 550.7,295.6 550.8,295.4 551.7,296.9 552.2,297.5 553.3,299.5 554.5,301.7 554.1,300.3 553,297.5 554.3,300 552.6,295.9 552.3,294.9 554.9,299.9 552,293.3 552.6,294.2 552.8,294.2 554.4,297.1 552.6,293 553.9,295.3 552.9,292.8 552.2,290.9 553.6,293.4 553.6,292.9 552.5,290.2 552.8,290.4 552.9,290.3 554.5,293.2 554.1,292 554,291.3 554.3,291.5 553.5,289.4 554.4,290.9 553.5,288.6 552.9,286.9 553.5,287.8 554.3,289.2 554.3,288.7 555.2,290.2 552.8,284.8 554.2,287.2 554.8,288.1 553.6,285.2 554.8,287.2 554.2,285.7 553.6,284 555.7,287.9 553.5,283 555.7,287.1 554.5,284.2 554.1,282.9 554.2,282.7 554.4,282.7 554.3,282.2 555.4,284 553.5,279.7 556.4,285.2 556.1,284.2 556.6,284.9 554.6,280.2 553.4,277.4 555,280.3 555.5,280.8 555.9,281.4 555.3,279.6 555.7,280.1 556,280.2 554.5,276.8 557.6,282.7 555,277 556.3,279.3 557.1,280.5 555.5,276.7 556.3,277.9 557.8,280.7 556.1,276.8 557.4,279 556.8,277.3 556.8,276.9 557.3,277.5 556.5,275.4 556.6,275.2 557.7,277.1 557.1,275.5 557.4,275.6 555.9,272.1 557.1,274.1 558.2,276.1 558,275.2 557.6,273.9 556.9,272 556.9,271.5 557.9,273.2 558.8,274.7 557.6,271.8 558.8,273.9 557.5,270.6 558.9,273.2 557,268.7 558.1,270.7 557.1,268 558.7,271 558.7,270.5 557.4,267.3 557.6,267.4 558,267.7 557.1,265.4 557.7,266.2 557.8,266 559.3,268.9 559.9,269.7 558.4,266 558.6,266 559.1,266.6 558.5,264.9 558.8,265.1 559.9,266.9 559.4,265.5 559.2,264.6 558.8,263.4 560.7,267 558.9,262.7 559.6,263.8 558.7,261.3 559.2,261.9 559.8,262.9 559.5,261.7 560.4,263.1 560,262 558.8,258.9 558.1,256.9 561.1,262.9 559.7,259.6 561.6,263.2 560.4,260.1 559.8,258.3 561,260.6 560.4,258.7 560.7,259 559.9,256.9 561.4,259.6 561.9,260.2 560.5,256.8 562.6,260.9 560.6,256.1 561.4,257.4 559.9,253.5 559.7,252.6 563.3,260.1 562.8,258.5 562.6,257.6 560.2,251.9 561.9,255.3 562.2,255.4 562,254.4 562.2,254.6 561.3,251.9 562,253.1 561.2,250.9 562,252.2 562.7,253.3 561.8,250.7 562.3,251.4 562.2,250.8 562.7,251.4 563.6,252.9 563.1,251.3 563.3,251.3 561.8,247.4 562.8,249.2 563.9,251.2 562.5,247.7 563,248.2 562.6,246.9 564.7,251.1 563.2,247.3 563.1,246.5 564.3,248.8 564.8,249.5 564.4,248 564.9,248.7 564.3,246.9 564.1,245.9 563.9,245.1 563.9,244.6 563.9,244.2 564.8,245.7 564.5,244.5 564.7,244.6 565.3,245.3 564.8,243.8 563.7,240.9 564.3,241.8 564.1,240.8 563.5,239 565.3,242.6 564.2,239.8 564.3,239.4 564.5,239.5 566.3,243 565.4,240.4 566.6,242.7 565.7,240.2 565.5,239.3 566.5,241 566.6,240.8 566.3,239.5 565.4,236.9 566,237.8 565.6,236 566.5,237.6 566.9,238.1 568.1,240.9 568.1,240.6 567.8,238.7 568.2,239.1 567.9,237.2 569.8,242.9 569.1,239.8 570.1,242.2 568.8,236.7 569,236.6 569.6,237.9 569.3,235.7 569.6,235.7 569,232.5 570.4,236.8 570.1,234.7 570.8,236.1 570.4,233.5 569.8,229.6 571.3,234.9 571.9,236.3 570.8,230.2 571.2,230.8 571.8,232.2 572.1,232.2 571.6,228.4 573.6,236.8 573.5,234.8 573,230.6 572.7,227.5 573.9,232.7 574.9,236.6 574.6,233.6 575,234.3 574.4,228.9 575.2,231.7 574.8,227.3 576.4,235.9 576.1,232.2 575.4,225.3 575.8,225.9 576.9,231.6 577.1,230.6 577.2,229.4 577.8,231.6 578.5,235 578.2,230.8 577.8,225.2 578.6,229.2 578.5,226.2 579,227.4 579.6,230.1 579.7,228.7 579.7,226.4 580.3,228.9 580.3,226.8 581.1,230.1 581.1,228 581.6,229.5 581.6,227.7 582.3,230.1 582.2,227.8 582.6,228 582.7,226.5 583.2,228.2 582.8,223.2 584.6,234.4 583.7,225.7 584.3,227.6 584.4,226.1 584.7,225.9 585.2,228.1 585.2,225.6 585.5,225.8 585.5,223.2 585.9,224.3 586.1,223.6 587.3,231 586.7,222.9 587,223.5 587.7,226.6 588.3,229.7 587.7,221.6 588,221.9 588.8,226.1 589.2,226.5 588.9,222 589.1,220.9 589.7,222.9 590.4,227.2 590.5,225.1 591,227 591,224.8 591.3,224.9 591.8,226.4 591.9,224.5 592.3,225.3 592.3,222.3 592.6,223 593.2,225.7 593.3,223.8 593.5,222.4 594.1,225.9 594.4,225.6 594.5,224.1 594.7,222 595.3,226.2 595.9,230.3 595.5,221.7 595.7,219.7 596.1,221.6 596.4,221.2 596.6,220.3 596.9,220.4 597.6,225.6 597.9,225.6 598.3,227.1 598.5,225.1 598.5,221.9 599.1,225.9 599.1,221.5 599.5,222.1 599.6,219.9 600.3,226.1 600.6,225.4 600.6,221.6 600.9,221.9 601.3,222.8 601.6,223.2 602,224.8 602.2,222.7 602.5,223.5 602.6,218.6 603,221.6 603.1,217.7 603.9,226.9 604.1,225.9 604.4,224.1 604.7,225 605.1,227.3 605.3,224.5 605.2,217.9 605.7,221.5 605.7,215.8 606.2,219.8 606.5,218.6 606.9,221.8 607.3,222.8 607.4,219.3 607.8,221 608.1,222.4 608.4,221.2 608.7,221.1 608.7,215.3 609.3,220.3 609.7,223.5 609.9,222.1 610,217.5 610.5,220.6 610.8,222 611,218.7 611.5,223 611.6,219.1 611.9,220.3 612.3,220.8 612.8,226.8 612.8,220.2 613.1,219.5 613.5,222.8 613.7,219.7 614.1,221.4 614.1,215 614.7,221.6 615,220.7 615.1,217.4 615.7,224.2 615.8,220.1 616.1,220.1 616.3,217.2 616.6,216.4 617,219.1 617.2,216.6 617.7,221.8 618,222.7 618.2,218.8 618.4,216.2 618.8,219.3 619,217.6 619.5,220.7 619.8,220.7 620,219.1 620.3,220.4 620.7,222.9 621.1,224.6 621.2,218.8 621.6,222 621.8,219.5 622,217.3 622.5,223.3 622.8,221 623,220.3 623.3,220.9 623.6,219.5 623.8,217.2 624.4,224.5 624.6,222.2 624.8,220.5 625.2,222.3 625.5,223.1 625.7,219.2 626.1,221.2 626.3,218.8 626.7,221.3 626.9,219 627.4,225.9 627.5,218.7 627.8,220.9 628.1,220.7 628.4,218.7 628.8,221.9 629,219.3 629.3,218.4 629.6,219.4 629.9,217.5 630.3,222.5 630.5,221 630.9,221.9 631,215.8 631.4,220 631.6,217.3 632,219.5 632.4,222.6 632.6,219.9 632.9,218.8 633.3,222.1 633.6,221.8 633.9,224 634,214.3 634.4,220 634.7,218 634.9,216.8 635.3,219.4 635.5,216 635.8,213.2 636.1,216.6 636.5,218.3 636.9,223.8 637,217.1 637.3,215.9 637.6,213.8 638,218 638.3,218.2 638.6,219.2 638.8,215.1 639.1,216.8 639.3,212.9 639.8,219.2 640,214.7 640.2,211.6 640.7,221.7 641,220 641.3,219.6 641.6,219.6 641.8,215.9 642.2,221.4 642.4,215.9 642.9,223.5 643.1,219.1 643.3,213.7 643.7,220.8 644.1,223.6 644.3,217.8 644.6,221.2 644.9,217.9 645.1,216.8 645.3,211.7 645.8,221.6 646,217.2 646.4,219.3 646.6,215.4 646.9,216 647.3,221.2 647.5,217.3 647.8,217.2 648.1,215 648.5,218.8 648.8,220.2 649,217 649.4,217.7 649.6,215 650,221.8 650.2,216.5 650.6,217.7 650.9,222.5 651.1,217.5 651.4,214 651.7,215.6 652,217.1 652.4,222.7 652.7,218.6 652.9,217.4 653.3,220.1 653.6,221.4 653.8,216 654.2,221.7 654.5,220.2 654.8,219.1 654.9,211.7 655.4,218.4 655.7,221.5 655.9,217.1 656.4,223.9 656.6,218 656.8,215.1 657.2,219.3 657.5,218.5 657.8,219.9 658,217.2 658.4,221.1 658.6,216.3 659,218.1 659.2,214.4 659.5,215.6 659.9,218.2 660.1,215.9 660.4,216.5 660.7,217.1 661.1,218.3 661.4,219.6 661.7,219.6 662,220.3 662.3,218.1 662.5,216.1 662.8,213.4 663.1,216.6 663.4,215.4 663.7,212.7 664.1,221.8 664.3,212.7 664.7,218.4 665,218.9 665.2,216.8 665.6,224.2 665.8,217.5 666.1,215.4 666.5,222 666.7,215.3 667,213.6 667.3,214.7 667.6,215.7 667.9,217.5 668.3,218.2 668.5,213.3 668.9,218.3 669.2,223.2 669.4,215.4 669.7,217 670.1,219.1 670.4,220.5 670.6,215.5 670.9,214.7 671.2,214.6 671.6,220.2 671.9,219.6 672.1,211.5 672.4,211.6 672.7,214 673,213.3 673.3,218.3 673.6,217.8 674,222.4 674.3,219.3 674.5,217.5 674.9,220.3 675.1,214.8 675.4,213.5 675.7,217.3 676.1,219.6 676.3,212.9 676.7,219.5 677,219.4 677.2,215.8 677.5,217.6 677.8,216.4 678.1,217.4 678.4,219.3 678.7,215 679,219.9 679.3,219.4 679.6,219.5 679.9,211.9 680.2,212.2" fill="none" stroke="#1a1aff" stroke-width="1.5" stroke-linejoin="round" stroke-linecap="round" opacity="1.0" />
<polyline points="500.6,319 500.9,315.7 501.2,315.4 501.5,315.2 501.8,313.7 502.1,316.4 502.4,315.3 502.7,315.5 503,318.4 503.3,314.1 503.6,320.1 503.8,311.3 504.3,323.8 504.5,313.5 504.8,318.7 505.1,319.5 505.4,317.1 505.7,319.1 506,316.8 506.2,312.4 506.6,318 506.9,320.1 507.2,315.6 507.4,312.5 507.8,315.4 508.1,317.9 508.4,317.8 508.8,319.9 509,318.4 509.3,318.3 509.5,311.6 510,322.8 510.2,317 510.5,319.1 510.8,315.9 511.1,316.4 511.4,317 511.8,320.9 512.1,320.8 512.3,318.4 512.7,322 512.9,315.7 513.2,318 513.5,315.4 513.9,320.1 514.1,316.7 514.5,319.2 514.8,321.1 514.8,311.1 515.4,322.3 515.6,317.3 515.9,315.6 516,311.4 516.5,315.6 516.6,310.3 517.1,316.6 517.4,315.9 517.8,321.2 517.9,315.4 518.4,319.1 518.7,319.3 519.1,321.7 519.1,315.5 519.5,318.1 519.6,312.1 519.9,313.1 520.3,315.3 520.6,315.9 520.7,312.7 521.2,314.8 521.7,317.7 521.7,314.5 522.1,315.3 522.2,313.3 523,319.2 523.4,320.2 523.3,315.9 523.5,315 524.3,319.6 524.3,316.4 524.2,313.3 524.3,311.4 524.8,313.3 526,320.4 525.3,313.1 526.9,322 526.1,314.4 526.3,313.7 527.2,317.5 526.8,313.4 527.3,314.8 526.9,311.1 526.9,310.6 527.3,311.7 528.2,313.5 527.5,311.4 526.5,308.5 528.7,313.2 528.2,311.6 528.2,311.1 528,310.1 526.6,306.6 530.1,313.9 528.3,309.5 529.3,311.2 530.2,312.6 530,311.8 529.2,309.7 529.1,309 529.4,309.3 530,310.2 529.8,309.2 528.9,307 529.8,308.4 529.8,308 530.2,308.3 529.8,307.1 530.9,309 529.9,306.5 530.6,307.5 529.9,305.6 529.4,304.1 529.2,303 529.9,304.3 530.6,305.4 531.4,306.5 530.2,303.6 529.9,302.4 530,302.2 531.7,305.4 530.7,302.8 530.2,301.3 531.4,303.4 529.6,299.1 531,301.6 530.9,301 530.9,300.6 530.1,298.3 532.1,302.2 532.8,303.2 530.1,297.1 531.5,299.6 532.1,300.3 533.6,303.2 531.2,297.7 530.8,296.4 531.8,297.9 533.7,301.6 532,297.5 532.2,297.6 533.6,300.2 530.2,292.3 530.2,291.9 533.1,297.6 533,297.1 531.1,292.6 532.9,296 532.6,294.8 532.8,294.8 531.9,292.6 532.3,293 532,291.8 532.9,293.3 532.7,292.5 534.5,295.9 533.6,293.6 531.7,289 533.6,292.6 534.6,294.3 533.6,291.8 534.4,293 533.4,290.6 534.2,291.7 532.8,288.2 534.4,291.3 532.5,286.8 535,291.7 532.5,285.9 532,284.5 534.5,289.3 533.9,287.7 534.3,287.9 534.6,288.2 534.3,287.1 533.6,285.1 534.6,286.9 534.8,286.9 535,286.9 536.4,289.5 534,283.9 534.8,285.2 535.3,285.9 534.5,283.6 533.9,281.9 534.5,282.8 536.1,285.7 534.9,282.8 535.8,284.2 534.6,281.3 535.8,283.3 534.8,280.8 534.7,280.2 535.7,281.8 535.7,281.4 537,283.8 534.3,277.5 536.3,281.4 537.3,283.2 537.2,282.4 535.6,278.8 535.4,277.9 535.7,278 536.5,279.2 536.4,278.7 536.6,278.7 536.9,278.9 535.5,275.4 535.5,275 535.4,274.5 535.4,274 536.6,276.1 537,276.6 539.1,280.6 537.4,276.4 536.9,275.1 538.3,277.5 536.4,273.1 537.4,274.9 538.1,275.8 538,275.1 537.7,274.1 537,272.4 536.3,270.4 537.3,272.2 537,271 538.2,273.2 537.5,271.3 538.2,272.4 536.3,267.9 538.7,272.6 537.1,268.8 536.6,267.1 536.8,267.2 537.5,268.3 539.2,271.4 538.9,270.3 537.2,266.4 538.5,268.5 538.3,267.9 537.1,264.7 537.7,265.6 536.8,263.2 537.9,265.2 536.4,261.4 538.1,264.8 538.1,264.2 538.3,264.2 538.3,263.8 540.2,267.4 538.9,264.2 539.5,265 540,265.7 540.2,265.7 540.1,265 539.1,262.3 538.7,260.9 539,261.3 539.4,261.6 539.9,262.2 539.9,261.8 541,263.8 540,261.2 541.8,264.7 541.2,262.9 540,259.5 541.3,262 538,254.2 541.9,262.4 541.1,260.2 541.2,259.9 539.5,255.4 543.3,263.6 540.9,257.7 541.1,257.7 542.3,260 541.3,257 540.8,255.4 542.2,258.2 540.9,254.5 542.5,257.8 542.1,256.3 543,258 541.1,252.9 543.4,257.7 542.6,255.5 544.2,258.6 542,252.9 544.3,257.9 543.4,255.2 543.6,255.1 542.4,251.7 543.6,254.1 543.8,254 542.7,250.6 542.5,249.7 542.9,250.2 545,254.6 544,251.6 544.8,252.9 544.3,251.3 544.3,250.6 544.5,250.6 544.1,249 545.6,252.1 544.8,249.7 545,249.5 543.7,245.9 545.3,249.1 544.5,246.8 544.8,246.9 546.2,249.8 544.5,245.1 545.4,246.7 546.2,248.1 546.8,248.9 545.5,245.2 546.3,246.6 546.4,246.3 545.3,243.1 544.5,240.7 544.8,240.9 547.1,245.8 546.7,244.5 545.6,241.3 546.3,242.4 546.6,242.6 546.7,242.4 547.1,242.8 549.2,247 546.6,240.7 547.5,242.3 546.8,240.2 547,240.2 546.9,239.4 547.6,240.4 547.4,239.5 548.3,241 548.2,240.4 547.3,237.9 549.9,243.3 547.3,236.8 548.7,239.6 550.4,243.1 548,236.8 549.9,240.8 550.1,240.8 549.3,238.3 547.9,233 550.4,240.3 549.7,237 549.4,235.3 550.9,239.4 549.7,234.4 551.1,238.4 550.3,234.4 551.2,236.8 550.3,232.7 551,234.1 550.9,232.7 551.2,232.9 552,234.9 552,233.8 552.5,234.5 553.4,237 552.8,233.4 552,228.9 553.1,232.6 553.6,233.3 554.3,235.4 554.6,235.3 554.8,234.9 554.4,231.8 555.1,233.8 554.3,228.4 555.9,235.1 555.7,232.8 556,232.8 555.8,230.5 556.3,231.4 556.2,229.4 557,232.4 556.5,227.4 557.7,233.2 557.8,231.9 558.7,235.6 558.1,230.2 558.4,229.9 558.7,230.5 559,230 559.2,229.5 559.1,226.8 559.4,226.7 559.8,228 560.2,228.6 560.2,226.1 560.5,226.1 561.1,228.3 561.7,230.8 561.7,228.3 562.2,230.4 562.6,231.1 562.8,230.4 562.7,227.2 563,227.2 562.8,223.3 563.5,226.2 564.1,229.1 563.9,225 565,231.2 565.3,231.3 565,226.5 565.7,229.8 565.2,223.6 565.6,224.4 566.1,226.1 566.5,227 566.7,226.4 566.8,224.5 568,231.8 567.7,227.3 568,227.2 568.4,228.1 568.5,226.7 568.7,225.5 568.9,224.6 568.8,221.7 570,229.7 569.6,223.3 569.7,221.3 570.2,223.4 570.2,221.3 571.6,230.5 571.4,226.2 572,228.8 572.3,228.9 572.3,226.5 572.6,226.4 572.5,222.9 573,224.5 573.1,223 573.6,224.6 573.7,222.6 574.5,227.6 574.6,226.2 574.7,223.9 574.5,219.7 575.5,225.8 575.8,226.2 575.8,223.6 575.8,220.4 576.6,224.8 577,226.3 576.5,218.4 577.5,224.8 577.1,218.5 577.9,223.4 578.6,227.7 578.5,223.3 578.9,224.2 579,222 579.3,222.8 580.2,228.9 580.2,226.1 580.1,221.7 580.4,221.5 580.8,222.4 581.6,228.1 581.4,222.8 581.9,225.1 581.8,221.1 581.9,218.7 582.8,225.4 582.8,221.7 582.9,219.7 583.2,219.9 583.5,219.9 583.8,220 583.9,217.5 584.8,224.6 584.9,222.4 585.3,223.9 585.4,220.3 585.8,222.1 586,221.5 586.5,224.1 586.8,223.1 587,221.8 587.1,219.1 587.2,217.6 587.6,218.6 587.9,219 588.3,219.2 588.4,217.3 589.3,224.8 589.3,221.1 589.2,215 589.6,217.4 589.9,216.7 590.5,220.8 590.9,222.9 590.8,217.5 591.4,221.6 591.5,219.2 592.1,222.9 592.4,223.4 592.5,220.6 592.9,221.6 593.1,219.7 593.3,218.6 593.5,216.5 594,220.4 594.2,219.3 594.5,218.4 594.8,219.2 595.1,218.8 595.3,216.5 595.7,217.8 596.2,222.2 596.3,218.5 596.8,222.8 596.8,216 597,215.4 597.5,219.3 597.9,221 598,217.2 598.5,220.5 598.8,221.3 599.1,221.6 599.3,218.4 599.6,218.6 599.7,214.3 600.2,218.7 600.5,219.3 600.9,222.3 600.9,215.2 601.3,216.2 601.6,215.8 602.1,220.8 602,211.7 602.5,215.5 603.1,223.7 603.2,220 603.3,214.7 603.8,218 604.1,220.4 604.4,219.6 604.6,217.5 604.9,216 605.3,220.2 605.6,218 605.9,220.1 606.2,219 606.4,216.7 606.9,221.7 607,216.6 607.4,219 607.6,216.1 607.9,217.2 608.2,217.1 608.5,216 608.9,218.3 609.3,221.1 609.6,222.5 609.9,221.4 610,217.1 610.5,221.4 610.7,218.6 611.1,222.2 611.1,214.2 611.6,221.3 611.8,215.8 612.2,220.4 612.4,216.1 612.8,219.7 613,216.6 613.2,212.4 613.5,214.7 613.9,216.6 614.2,217.3 614.4,211.3 614.7,214 615.1,215.2 615.4,216.6 615.7,217.7 616,214.9 616.2,213.1 616.6,217.8 616.9,216.1 617.3,219.3 617.5,215.6 617.9,218.6 618,214.6 618.4,217.6 618.7,217.1 619,218 619.2,214.4 619.6,216.5 619.8,214.6 620.2,216.3 620.5,218.4 621,224.5 621.1,216.8 621.4,218.5 621.7,217 622.1,219.6 622.3,217.8 622.7,219.3 622.9,217.5 623.3,222.8 623.6,220.1 623.7,212.1 624.1,217.3 624.4,216.7 624.6,210.7 624.9,214.2 625.3,215.2 625.5,214.5 625.9,216.7 626.1,211.7 626.5,218.3 626.8,218.4 627.1,217.3 627.4,215.5 627.7,216.3 628,215.1 628.3,219.3 628.6,217.6 629,221.4 629.2,215.3 629.6,220 629.8,214.7 630.1,215.7 630.3,213.4 630.7,217.5 631,216 631.3,217.7 631.7,220 631.9,215.9 632.2,217.1 632.5,218.4 632.8,215.9 633.1,214.6 633.4,216.9 633.7,217.3 634,218 634.3,218.1 634.5,214.2 634.9,217.1 635.2,219.1 635.5,214.7 635.8,216.8 636,214.3 636.4,216.3 636.8,220.4 637,216.3 637.2,213.3 637.6,216.7 637.9,216.3 638.2,218.7 638.4,212.2 638.7,213.3 639.1,215.5 639.3,211.7 639.7,218.7 639.9,210.4 640.2,213.5 640.5,211.8 640.8,213.9 641.2,217.7 641.5,217.2 641.8,218 642.1,217.1 642.3,210.3 642.7,216.3 642.9,210.7 643.2,214.2 643.5,214.5 643.8,214.1 644.2,216.8 644.4,213.4 644.8,220 645.1,217 645.4,218.5 645.7,217.4 646,217.7 646.3,215.3 646.6,220.5 646.8,212.6 647.2,216.5 647.5,215.3 647.8,214.7 648.1,216.1 648.3,213.3 648.7,217.5 649,217.3 649.3,215.5 649.6,217.2 649.8,212.5 650.1,210.5 650.4,213.7 650.7,214.6 651.2,221.7 651.3,214.6 651.7,217.8 652,217.3 652.3,220.6 652.6,215.4 652.9,216.8 653.1,214.6 653.4,212.8 653.7,212.4 654,213 654.4,218.7 654.7,215.8 654.9,214.6 655.3,215 655.5,213.5 655.9,214.9 656.2,214.9 656.5,216.6 656.8,217.3 657,210.7 657.4,215.5 657.7,218.5 657.9,212.2 658.2,214.2 658.6,215.3 658.9,217.7 659.2,216.4 659.4,214.3 659.8,216.1 660.1,217.5 660.4,215.8 660.7,219.6 661,215.9 661.2,212 661.5,212.7 661.8,214.4 662.1,214.2 662.5,216.3 662.8,215.6 663.1,219.2 663.4,216.8 663.7,218.6 663.9,212.7 664.2,213.6 664.6,216.4 664.9,214.9 665.2,216.3 665.5,215.3 665.7,213 666.1,219.1 666.4,217.6 666.6,210.6 666.9,213 667.2,214.7 667.6,216.4 667.8,214.4 668.1,211 668.5,216.7 668.7,214 669.1,217.7 669.4,215.3 669.7,217.1 670,216.7 670.3,216.8 670.5,213.2 670.9,217.2 671.2,215 671.4,211.3 671.7,213.5 672,213.6 672.4,215.7 672.7,216.3 672.9,211.6 673.3,216.3 673.5,214.3 673.8,211.7 674.2,216.6 674.4,212.5 674.7,211.3 675.1,216.4 675.4,216.8 675.6,212.7 676,217.2 676.3,217 676.5,213.1 676.9,219.6 677.1,214.3 677.4,215 677.7,208.2 678.1,216 678.3,212.8 678.7,215.5 678.9,209.9 679.3,217.4 679.6,218.2 679.9,219.3 680.1,206.7 680.5,215.9" fill="none" stroke="#16901a" stroke-width="1.5" stroke-linejoin="round" stroke-linecap="round" opacity="1.0" />
<polyline points="500.6,315.3 500.8,306.6 501.1,312.5 501.5,314.2 502,318 501.9,312.1 502.4,314.8 502.7,314 503.1,315 503.1,313 503.8,316.1 504.1,316.2 503.6,310.2 504.8,316.3 504.4,311.5 504.8,312.6 505.6,316 505.5,313.3 506,314.3 506.4,314.6 506.6,313.9 506.1,311 506,309.9 507.3,313.4 507.6,313.3 507.5,312.2 507.2,310.7 508.2,312.8 507.7,310.6 506.8,307.4 508.3,310.7 508.6,311 508.9,311.3 507.8,307.5 508,307.5 509,309.5 508.5,307.6 508.9,308.1 509.9,309.8 509.5,308.5 510.8,311 509.6,307.7 510.9,310.1 510.4,308.6 511.8,311.2 509.7,306 509.7,305.5 511,307.9 509.4,304.1 509.6,303.9 510.3,305 510.5,305 509,301.3 510.5,304.2 510.1,302.8 510.4,303 510.6,303.1 510.4,302.1 511.6,304.2 511.1,302.8 510.5,301.3 510.8,301.5 511.8,303 511.6,302.2 512.1,302.8 510.9,299.9 511.2,300.1 512.9,303.3 511.1,299.2 512.7,302.1 512,300.2 510.9,297.6 510.1,295.6 512,299 510.8,296.2 510.9,295.9 510,293.8 512.6,298.8 511.7,296.5 511.7,296.1 512.1,296.5 512,295.9 511.9,295.3 512.3,295.8 511.7,294.1 509.7,289.5 512.7,295.3 512.5,294.5 512.2,293.4 513.6,296 511,290.2 509.7,287.2 513.7,294.9 512.8,292.7 511,288.6 512.1,290.6 513.1,292.2 511.5,288.5 513.2,291.5 514.6,294 514,292.4 512.8,289.5 513.2,289.8 512.1,287.2 513.1,288.9 512.7,287.8 512.2,286.2 511.9,285.3 514.9,291 513.3,287.3 512.4,285 513,285.8 514.7,289 514.9,289 512.9,284.6 513.7,285.8 514.4,286.7 513.3,284.2 512.7,282.4 512.9,282.4 513.8,284 513.2,282.2 512.8,281 513.8,282.6 514.8,284.5 514.7,283.7 513.9,281.7 515.9,285.4 513.5,280.1 514.2,281.1 513.1,278.5 515.1,282.1 514.3,280.2 513,277 513.8,278.3 516.2,282.8 515.3,280.5 514.8,279.1 515.5,280.2 513.4,275.4 514.1,276.5 513.7,275.3 514.2,275.9 514.7,276.4 515.5,277.8 516,278.4 516,278 517.6,280.9 514.8,274.7 515.3,275.3 515.8,276 514.7,273.2 515.2,273.9 515.9,274.9 514.8,272.3 516.1,274.5 516.8,275.5 514.8,270.9 513.8,268.5 516,272.6 515,270.2 516.1,272.1 515.6,270.7 516.4,271.8 517.2,273 516.9,272.1 515.9,269.7 515.3,267.9 514.1,265.2 514.5,265.5 515.7,267.7 516.6,269 516,267.3 516.1,267.1 515.2,265 515.2,264.6 515.2,264.2 517.4,268.2 515.1,263.1 517.5,267.7 516.1,264.5 517.5,266.8 517.3,266 517.8,266.6 518.2,267.1 516.5,263.2 516.4,262.5 516.9,263.2 516.6,262.3 518,264.6 517.3,262.9 517.5,262.8 517.9,263.3 517.2,261.3 518.6,263.9 516,258.2 517.9,261.8 518.2,261.9 517.2,259.3 517.3,259.2 518.8,261.8 517.7,259.2 516.4,256 516.9,256.7 519.1,260.8 517.4,257 519.4,260.8 519.6,260.6 518.2,257.4 518.9,258.5 517.8,255.6 518.2,256.1 518,255.3 519.2,257.4 517.6,253.6 518.7,255.5 518.9,255.5 519.4,256.1 517.2,250.8 517.5,251.1 518.4,252.6 519,253.5 519.4,253.9 519.6,253.7 521.2,257 520.1,254.1 520.2,253.6 519.3,251.2 520.5,253.5 520.5,253 520.6,252.7 520,250.8 520.8,252 521.6,253.6 519.8,248.6 518.8,245.6 521.4,251.3 521.4,250.9 520.7,248.7 520.7,247.9 523.4,254.2 520.9,247.3 520.4,245.5 521.1,246.8 522.1,248.5 521.3,245.9 521.6,246.1 522.3,247.3 521.8,245.5 522.4,246.4 522.4,245.8 521.7,243.3 522.8,245.5 521.9,242.6 523.7,246.8 522.4,242.5 523.1,243.8 522,240.1 523.3,242.8 522.8,240.8 525,246.5 524,242.7 524.6,243.9 523.1,238.6 523.7,239.5 524.6,241.6 524,238.7 525.9,244.1 525.1,240.4 525.6,241.4 525.9,241.5 525.8,240.3 526.6,242.2 525.9,238.6 526.8,240.8 527.5,242.6 527.1,240.1 527.3,239.7 527.3,238.4 527.7,239.1 528.3,240.4 528,238 527.5,234.4 528.7,238.6 528.8,237.7 529.4,239 529.4,237.8 530.4,241.3 529.2,234.4 529.6,234.8 530.7,238.6 530.1,234.3 531,237.5 531.1,236.5 530.4,231.6 531.9,237.8 532.5,239.4 532.2,236.4 531.8,232.3 533,237.5 532.5,232.9 533.1,235 533.6,236.2 533.4,233.1 533.3,230.7 534.2,234.4 534.5,234.5 534.4,232.4 534.7,232.4 535.6,236.1 535.6,233.9 535.7,232.8 535.9,232.4 536.5,234.1 536.7,233.8 536.9,233 536.7,229.9 537.3,232.3 537.5,231.5 538.1,233.1 538.7,235.7 538.9,235 539.1,234.1 539.2,232.7 539.3,231.5 539.8,233 539.7,230.9 540.1,231.1 540.2,229.7 540.7,231.5 541,231.3 542,235.9 541.8,232.6 541.7,230.2 542.4,232.9 542.2,229.8 543,233.3 543.2,232.6 544.2,237.6 543.1,227.8 543.7,230.1 544,229.9 544.4,230.8 544.8,231.7 544.5,227.4 544.9,227.9 545.5,230.3 546,231.8 545.6,226.6 545.7,225.4 546.9,231.9 547.1,231.1 547.4,231.5 547,226.4 547.5,228.2 548,229.1 548.3,229.5 548.4,228 548.7,228.1 549.3,230.6 549.1,226.9 549.4,226.5 549.7,226.7 550,226.4 550.4,227.9 550.6,226.9 550.8,226.2 551.7,230.7 551.6,227.9 551.7,226.2 552.5,230 552.2,225.5 552.6,226.7 552.9,226.4 553.1,225.1 553.4,225.5 553.8,226.5 553.7,222.7 554.2,225.2 554.7,226.6 555,226.6 555.3,226.6 556.1,231.5 556,227.3 556,225.2 556.3,225.2 556.6,225.4 557,226.4 557.1,224.5 557.9,228.8 557.5,222.3 558.2,226.5 558.5,226.1 558.4,222 559.1,226.3 559.4,226 559.4,223 560.3,230.2 560.3,226.1 560.3,223.5 560.6,223.1 560.8,222.4 561.3,224.7 561.6,224.2 561.6,220.5 561.9,221.3 562.3,222.1 562.6,222.8 562.9,222.8 563.2,222 563.7,225.1 564.1,225.8 564.2,223.6 564,218 564.7,222.9 565.2,224.6 565.3,222.9 565.7,223.7 566,223.2 565.9,219.3 566,216.7 566.9,224.3 567,221.4 567.5,223.7 567.6,221.8 568,222.1 568.5,225.8 568.3,219.5 568.9,222.3 568.9,219.6 569.5,222.4 569.8,223.3 570.2,223.7 570.4,222.4 570.4,218.6 571,222.5 571.4,224 571.7,224.2 572.2,226.9 572.2,223 572.2,219.1 572.6,220.2 573,221.6 573.4,223.9 573.4,218.5 574,223.5 574.3,222.8 574.3,219 574.8,222.6 574.9,219.1 575.3,220.9 575.6,220.1 575.9,221.4 576,217.9 576.6,222 576.4,215.3 577,219.6 577.3,219.2 577.9,224.4 578.1,221.8 578.2,219.2 578.4,218.1 578.9,220.4 579.1,218.7 579.8,225.6 579.3,213.3 580,220.2 580,214 580.8,222.5 580.8,217.9 581.5,223.8 581.4,218.5 582,222.4 582.1,220.2 582.6,222.5 582.7,219.6 582.6,212.2 583.2,217.7 583.4,215.6 584,221.7 584.2,220.7 584.5,219.3 584.8,220.4 585.1,219.7 585.3,217.7 585.9,223.9 586,219.6 586.2,218.5 586.4,215.4 586.8,217.4 587.1,218.9 587.4,218.4 587.7,217.6 588,218.6 588.2,215.9 588.6,218.7 588.7,214.8 589.1,216.5 589.4,216.7 589.9,220.6 590.2,219.7 590.4,218.6 590.6,215.5 591,217.4 591.4,220.3 591.7,221.3 591.7,214.6 592.1,217.1 592.5,218.4 592.8,219 593.1,218.1 593.5,219.7 593.5,214.4 594.1,221.8 594.2,215.1 594.6,218.1 594.9,219.2 595.3,220.7 595.6,220 595.8,219.9 596.2,220.9 596.4,217.4 596.7,219.6 597.1,221.5 597.2,215.8 597.4,214.2 597.8,215.1 598.3,221.1 598.6,220.6 598.7,216.6 599.1,218.1 599.4,218.6 599.7,220 599.8,212.8 600.2,216 600.5,216.7 600.9,218.1 601.2,217.5 601.4,216.5 601.8,218 601.9,210.9 602.6,224.8 602.7,219.3 603,219.4 603.2,215.5 603.6,218.2 604,222.2 604.3,221.6 604.4,217.3 604.7,214 605,217.4 605.3,216.3 605.7,219.1 605.9,213.8 606.2,216.5 606.6,217.6 606.8,215.8 607.2,219.5 607.4,214.1 607.7,213.8 608,216 608.4,218.9 608.6,216 608.9,215.3 609.3,218.8 609.5,217.3 609.8,215.4 610.1,217 610.4,216.1 610.8,218.2 611,217 611.3,214.6 611.6,215.4 611.9,215.6 612.2,217.5 612.5,217.5 612.8,214.5 613.1,216 613.4,217.3 613.8,219.2 614,217.1 614.4,221.3 614.6,216.5 615,218.2 615.2,215.6 615.5,213.9 615.8,216.6 616.1,217.5 616.4,217.1 616.7,216.7 617,215.5 617.3,214.2 617.6,215.5 617.9,217.4 618.3,218.6 618.4,208 618.8,217.7 619.2,218.9 619.5,219.3 619.7,217.1 620,217.8 620.3,215 620.6,215.9 620.9,217.4 621.2,213.4 621.5,214.1 621.8,216.6 622.1,212.7 622.4,216.2 622.7,212.3 623,216.5 623.3,216.1 623.6,214.6 623.9,213.6 624.2,214.7 624.4,210.4 624.8,214.9 625.1,216.2 625.4,218.9 625.7,214.6 626,215.5 626.3,219.3 626.7,220.2 626.9,214.6 627.2,218.5 627.5,218.8 627.8,217.1 628.1,213.4 628.4,213.5 628.7,217.2 629.1,221.6 629.3,215.3 629.6,219.7 630,220.5 630.2,212.6 630.5,214.3 630.8,219.5 631.1,218.2 631.4,217.1 631.7,215.7 632,217.3 632.3,214.1 632.7,221.9 632.9,212.8 633.2,211.2 633.5,216 633.8,219.3 634.1,214.4 634.4,215.5 634.7,213.1 635,215.4 635.3,213.1 635.6,213.1 635.9,211.9 636.2,214.2 636.5,220.2 636.8,215.4 637.1,216.1 637.4,221.2 637.7,214 638,213.1 638.3,216.9 638.6,212.5 638.9,216.4 639.2,218.4 639.5,212.8 639.8,214.2 640.1,219.8 640.4,212.9 640.7,213.8 641,216.1 641.3,214.7 641.6,213.3 641.9,219.5 642.2,214 642.5,216.3 642.8,214.4 643.1,214.9 643.4,212 643.7,217.7 644,214.3 644.3,218.6 644.6,212.5 644.9,214.2 645.2,216.6 645.5,215.7 645.8,213.7 646.1,215 646.4,212.1 646.7,215.5 647,208.7 647.3,215.8 647.6,218.7 647.9,217.6 648.2,217.5 648.5,214.3 648.8,216.6 649.1,214.3 649.4,215.1 649.7,215.1 649.9,206.9 650.3,217.6 650.6,216.4 650.9,217.4 651.2,212.9 651.5,217 651.8,216.5 652.1,209.7 652.4,210.8 652.7,215.4 653,213.6 653.3,215.2 653.6,213.6 653.9,219 654.2,210.5 654.5,211.8 654.8,212.8 655.1,211.8 655.4,213.8 655.7,215.1 656,211.8 656.3,216.1 656.6,218.5 656.9,217.9 657.2,220.2 657.5,218 657.8,215.1 658.1,219.6 658.4,216.9 658.7,219.9 659,214.7 659.3,209.9 659.6,212.2 659.9,215.6 660.2,216.5 660.5,214.6 660.8,217.6 661.1,212.3 661.4,213.4 661.7,217.6 662,215.3 662.3,215.4 662.6,218.6 662.9,217.9 663.2,213.1 663.5,215.6 663.8,210.8 664.1,215.1 664.4,216.1 664.7,210.8 665,219 665.3,220.1 665.6,216.3 665.9,217.4 666.2,218.8 666.5,214.7 666.8,217.7 667.1,216 667.4,211.3 667.7,212.8 668,213.7 668.3,217.8 668.6,215.3 668.9,217.5 669.2,213.9 669.5,211.9 669.8,220.2 670.1,221.9 670.4,216 670.7,214.6 671,218 671.3,212.3 671.6,214.5 671.9,211.5 672.2,216.3 672.5,215.7 672.8,214 673.1,213.4 673.4,211.2 673.7,213 674,218.1 674.3,214.2 674.6,218.2 674.9,212.9 675.2,214.8 675.5,213.9 675.8,214.4 676.1,217 676.4,209.9 676.7,216.9 677,216.8 677.3,215 677.6,215.2 677.9,214.5 678.2,216.8 678.5,215.2 678.8,212.9 679.1,215.4 679.4,217.4 679.7,216 680,215.1 680.3,215.5" fill="none" stroke="#b5a22a" stroke-width="1.5" stroke-linejoin="round" stroke-linecap="round" opacity="1.0" />
<polyline points="500.2,268.9 500.3,268.7 499.3,266 500.7,268.6 501.6,270.2 500.6,267.6 500.3,266.5 501.8,269.2 501.3,267.7 501.3,267.4 501.6,267.6 501.9,267.7 501.4,266.2 500.8,264.5 502.9,268.6 501.7,265.5 501.1,263.8 501.9,265.1 502.8,266.5 500.8,261.8 503,266.1 501.9,263.4 503.7,266.7 502.7,264.2 502.2,262.6 503.3,264.6 503.4,264.3 502.2,261.3 502.7,262 502.2,260.4 503.4,262.6 501.7,258.3 502.7,260.1 501.3,256.5 503.5,260.8 501.4,255.8 502.3,257.5 503.5,259.4 503.1,258.1 503.1,257.6 502.7,256.4 503.2,257 502.3,254.5 504,257.8 504.5,258.3 504.5,258 504,256.3 505,258.2 504.5,256.6 505,257.2 504.7,255.9 504.5,255 504,253.3 502.7,249.8 505.2,255.2 504.8,253.6 506.5,257 503.5,249.8 505.8,254.4 504.5,251 505.3,252.4 504.8,250.6 505.8,252.4 505.6,251.5 506.4,252.8 505.9,251.2 506.3,251.5 507,252.6 506.5,251 506.1,249.6 507.2,251.7 506.3,249.1 506.8,249.7 506.4,248.1 506.2,247.3 504.6,242.9 507.4,249.1 506.2,245.6 507.7,248.6 508.6,250.2 506.4,244.4 508.1,248 507.5,246 508,246.7 506.9,243.5 507.9,245.4 508.1,245.3 509.2,247.3 509.8,248.4 508.6,244.8 508.2,243.3 510.2,247.7 508.6,243.2 508.8,243 509,243.1 509.4,243.4 509.7,243.6 508.9,241 509.4,241.6 510.9,245 510.9,244.2 510.2,241.8 510.2,241.2 510,240 511,242.1 510.1,239 510.7,239.9 510.4,238.5 510.5,238 511.1,239 511.2,238.7 511,237.3 511.5,238 511.8,238.1 511.6,236.8 511.7,236.2 512.2,236.9 512.9,238.4 513.3,238.9 513,236.9 512.9,235.7 513.2,236 514.6,239.6 514.2,237.4 513.3,233.4 514,235 513.9,233.8 514.2,234 513.7,231.1 514.9,234.3 514.3,231.3 515,232.6 516.3,236.8 516.3,235.5 515.5,231.4 515.6,230.9 515.9,230.9 515.6,228.7 516.4,230.4 516.9,231.7 516.8,229.9 517.9,233.5 517.8,231.6 517.8,230.4 519.1,235.1 518.8,232.7 518.8,231.2 519.8,234.9 519.8,233.5 519.2,229 519.9,231.1 519.8,229.3 519.7,227 521.3,234 521.4,233 520.5,226.8 521.5,230.5 520.9,225.7 522.3,231.5 522.1,228.9 522.2,228.2 523.1,231.4 522.9,228.6 523,227.8 523.7,230.2 523.5,227.4 524.2,229.9 524.2,227.8 524.8,229.5 524.9,228.9 525.3,229.1 524.9,225 526.2,231.3 525.7,226.6 526.7,230.7 526.1,225.4 526.5,226 526.8,225.9 527.5,228.9 527.2,225.2 527.8,227 527.4,222.5 528.1,224.8 528.6,226.2 528.7,225.3 528.4,221.3 529.5,226.5 529.3,223.1 530.5,229.4 530.1,224.6 531.1,229.9 530.9,226.2 531.1,225.7 531.1,223.4 531.5,224.2 531.9,225.3 531.5,219.8 532.6,226.3 532.3,221.3 532.9,223.3 532.5,217.6 533.6,224.7 534,225.3 534.1,224.1 534.4,224.1 534.5,222.4 534.9,223.5 535.5,225.8 535.4,222 535.9,224.1 536.2,224.5 536.3,222.2 536.7,223.2 537,223.1 537.1,221.3 538,227.9 537.7,221.3 538.4,226.1 538.6,224.6 538.2,217.4 539,222.6 539.4,224.3 539.7,223.7 539.6,219.7 540.1,222.3 540.1,218.9 540.5,219.2 540.9,220.9 541.3,221.8 541.9,225 541.9,222.1 542.3,223.6 542.2,218.4 542.5,218.4 542.9,219.9 543.6,224.9 543.4,217.8 543.6,217.1 544.2,220.5 544.7,223.4 544.5,216.8 545,219.9 545.1,217.3 545.9,223.7 546.1,221.9 546.3,220.9 546.5,220.1 546.8,219.6 547.1,220.4 547.3,218.5 547.6,217.9 547.8,217.3 548.3,219.9 548.5,218 549,221.8 548.9,214.8 549.6,220.9 549.8,220.8 550.2,222.3 550.3,218.9 550.4,215.9 550.8,217.2 551.4,221.9 551.5,218.6 551.8,218.3 552,217.8 552.4,219 552.7,218.5 552.8,215.4 553.2,217.6 553.7,221.3 554.1,222.2 554.2,218.5 554.4,217.6 555,221.9 555.1,218.3 555.2,215.9 555.7,218.3 556.1,220.2 556.5,222.1 556.5,217.3 556.9,219.7 557.1,217.6 557.6,221 557.8,218.9 558.1,218.9 558.2,215.9 558.6,217.4 558.9,217.4 558.9,209.7 559.6,220 559.8,218 560.1,217.5 560.4,217.1 560.7,218 561.1,218.4 561.2,214.8 561.6,218.1 561.9,218 562.2,217.8 562.4,214.2 562.8,217.3 563,214.6 563.5,218.4 563.8,220.6 564.1,219.5 564.3,216.7 564.5,216.1 564.8,216 565.2,218.1 565.4,215.7 565.7,216 565.8,211.4 566.3,215.2 566.6,215.3 566.9,215.8 567.4,219.9 567.4,213.9 567.7,213.9 568.2,218.3 568.4,214.6 568.8,216.5 569.1,217.2 569.4,216.8 569.6,214.9 570.1,218.9 570.4,220.2 570.5,214.3 570.8,216 571.2,218.7 571.4,216 571.6,214.2 572,215.4 572.4,218.3 572.5,214.1 573,216.9 573.3,217.2 573.5,214.7 573.9,217.5 574.2,217.7 574.5,218.5 574.8,218.3 574.9,212.6 575.4,218.1 575.7,217.4 576,218.3 576.1,214 576.6,218 576.8,216.7 577,213.2 577.5,218.8 577.6,214 577.9,213.4 578.3,216.6 578.5,214.3 578.9,216.5 579.2,215 579.5,216.2 579.9,217.4 580.1,215.4 580.5,217.5 580.8,217.4 580.9,213.5 581.4,217.4 581.6,216.8 581.9,215.7 582.3,217.9 582.6,219.1 582.8,217 583,211.8 583.4,216.2 583.7,214.9 584,214.5 584.3,215.9 584.5,214.3 585,218.9 585.2,215.7 585.5,215.1 585.8,216.8 586.1,216.8 586.4,217.7 586.7,216.4 587,214.8 587.3,215.2 587.4,209.8 587.8,211.4 588.2,217.2 588.4,214 588.9,219 589.2,218.9 589.3,211.8 589.7,215.4 590.1,221.4 590.2,212.8 590.6,215.6 590.8,214.1 591.1,214.1 591.4,213.9 591.7,214.5 592.1,216.3 592.3,212.7 592.7,215.7 592.9,212.9 593.3,215.7 593.6,215.2 593.8,212.7 594.2,214.8 594.4,212.7 594.7,212.5 595.1,217.2 595.3,210.2 595.7,215.7 596,216 596.2,213 596.6,216.9 596.9,216.5 597.1,211.4 597.5,215.6 597.8,215.4 598,212.6 598.3,215.7 598.7,216.1 598.9,212.7 599.2,209.7 599.5,215.3 599.8,212.6 600.1,210.3 600.4,213.4 600.7,208.8 601,213.6 601.3,217.8 601.7,207.7 601.9,215.4 602.2,212.2 602.5,213.4 602.9,212.2 603.1,215.8 603.4,214.3 603.8,212.5 604.1,211.3 604.3,213.4 604.6,217.1 605,211.6 605.2,215.4 605.5,215.2 605.9,209.7 606.1,217 606.4,214.3 606.7,219.6 607,218.5 607.3,213.8 607.6,214.1 608,212.1 608.3,211.2 608.5,216.3 608.8,213.9 609.2,213.5 609.4,214.1 609.7,216.1 610,216.7 610.3,214.5 610.6,214.1 610.9,214.8 611.2,219.4 611.6,209.7 611.9,211.8 612.1,215.7 612.4,214.9 612.7,217.5 613,217.7 613.3,219.2 613.7,212.7 613.9,216.1 614.2,214.1 614.5,216.9 614.8,215.1 615.1,216.7 615.5,212.9 615.7,215.1 616.1,213.5 616.3,214.1 616.7,213.7 617,212.3 617.2,217.4 617.5,215.4 617.8,217.3 618.2,212.4 618.5,210.2 618.8,213.3 619,214.4 619.3,216.7 619.6,217.3 619.9,217.7 620.2,218.5 620.5,216.6 620.8,215.1 621.2,213.1 621.4,216.5 621.7,213.7 622.1,213 622.3,216.3 622.6,215.4 622.9,216.9 623.3,213.2 623.5,217.7 623.8,215.8 624.1,214.6 624.4,213.2 624.8,212.4 625.1,211.8 625.3,218.3 625.7,211.7 625.9,216.5 626.2,214.4 626.5,213.7 626.8,213.9 627.1,214.8 627.4,217.2 627.7,216.4 628,215 628.4,211.8 628.7,210.9 628.9,219.5 629.2,212.7 629.5,211.4 629.8,217.7 630.1,211.5 630.4,216.8 630.7,217.3 631,215.7 631.3,217.3 631.6,211.8 631.9,212.2 632.2,214.6 632.5,215.1 632.8,214.9 633.1,216.2 633.4,213.3 633.7,210.1 634,216 634.3,214.5 634.6,217 634.9,220 635.2,215.3 635.5,216.4 635.8,213 636.1,217.2 636.4,215.9 636.7,215.7 637,217.2 637.3,212.4 637.6,216.4 637.9,216.2 638.2,218.8 638.5,210.8 638.8,214.9 639.1,220.2 639.4,214.1 639.7,214 640,219.3 640.3,221 640.6,215.3 640.9,213.4 641.2,213.7 641.5,214.1 641.8,213.1 642.1,213.2 642.4,215.5 642.7,215.2 643,216.2 643.3,215.1 643.6,212.2 643.9,216.8 644.2,215.6 644.5,213.7 644.8,214.4 645.1,215.8 645.4,215.3 645.7,214.8 646,216.9 646.3,217.6 646.6,214.3 646.9,215 647.2,212.5 647.5,214.7 647.8,216.2 648.1,217.1 648.4,215.5 648.7,214.9 649,213.4 649.3,215.6 649.6,212.5 649.9,215.4 650.2,215.1 650.5,212.9 650.8,215.8 651.1,214.6 651.4,216.5 651.7,213.9 652,216.2 652.3,218.7 652.6,215.5 652.9,216.9 653.2,213.6 653.5,214.2 653.8,210.6 654.1,214.7 654.4,212.4 654.7,215.3 655,210.2 655.3,213 655.6,215.3 655.9,216 656.2,211.2 656.5,214.1 656.8,221.1 657.1,216.9 657.4,215.4 657.7,208.6 658,212.9 658.3,216.3 658.6,215.6 658.9,216.1 659.2,217.3 659.5,215.3 659.8,217.1 660.1,210.8 660.4,220.9 660.7,214.4 661,213.5 661.3,218.6 661.6,216.5 661.9,217.3 662.2,213.6 662.5,215.7 662.8,216.7 663.1,212.4 663.4,214.5 663.7,214.5 664,214.4 664.3,213.4 664.6,212.1 664.9,216.1 665.2,215.6 665.5,217.8 665.8,214.9 666.1,213.5 666.4,211.6 666.7,215.2 667,214.3 667.3,219.8 667.6,220.4 667.9,218.8 668.2,212.9 668.5,211.8 668.8,214.5 669.1,212.9 669.4,218.4 669.7,215.3 670,214.1 670.3,215 670.6,218 670.9,212.8 671.2,216.2 671.5,211.9 671.8,214.6 672.1,213.5 672.4,215.8 672.7,215.4 673,217.9 673.3,216.7 673.6,213.6 673.9,211.9 674.2,213.1 674.5,214 674.8,214.5 675.1,213.3 675.4,217.6 675.7,217.2 676,214.4 676.3,213.9 676.6,214.5 676.9,214.9 677.2,215 677.5,211.2 677.8,214 678.1,210.6 678.4,215.1 678.7,216.6 679,212.5 679.3,215.4 679.6,213.6 679.9,213.4 680.2,219.6" fill="none" stroke="#f28c3a" stroke-width="1.5" stroke-linejoin="round" stroke-linecap="round" opacity="1.0" />
<polyline points="500.9,229.5 501.1,227.7 501,223.9 501.6,227.3 501.7,224.8 502.2,227.3 502,221.7 502.6,225 502.8,223.6 502.7,219.4 504.1,232 504.1,228.3 503.8,221.7 503.9,218.9 504.4,221.8 504.7,221.3 505,222.2 505,218.4 505.5,221.1 506.1,224.7 506.6,226 506,216.2 507,224.2 507,220.1 507.2,219.8 507.8,222.7 507.9,221.1 508.7,226.7 509,226.6 508.9,222.5 509.1,221 510.2,230.9 510.5,231.1 510.3,225 510.4,222.7 511.1,227.4 511.6,229.1 511.2,221 512.3,230.5 511.9,222.4 512.6,227.4 512.4,220.8 512.9,223.1 513,220.9 513.4,222.8 514,226.8 513.7,218.9 514.2,221.3 514.8,224.6 514.7,220.4 515.8,230.6 515,216.2 516.6,232.6 515.8,219.4 516.7,226 517.1,228.6 517.1,224.1 516.8,216 517.4,220.4 517.8,222 518.3,223.9 518.7,225.6 519,226.1 519.4,227.5 519,217.4 519.9,225.4 519.3,214.1 520.2,221.8 520.1,216.7 520.2,213.7 521.3,224.8 521.3,220.8 521.9,224.9 521.4,214.3 521.8,215.7 522.5,220.3 522.6,217.9 523.1,220.8 523.2,217.9 523.6,219 523.6,215.6 524.6,225.6 524.5,218.9 524.5,215.3 525.3,222.9 525.6,222.1 525.8,220.9 526.1,220.9 526.2,218.3 526.6,219.3 526.3,210.6 526.8,213.3 527.1,214.6 527.9,220.8 528.4,224.6 528.3,218.8 528.6,218.3 529.3,224 529.2,217.8 529.7,222 530,221 529.8,213.6 530.5,220.4 530.8,219.9 530.7,214.2 531,214.6 531.3,213.6 532.3,224.5 532.8,227.5 532.7,221.6 533.2,225.1 532.7,213 533.8,224.4 534.2,226.6 534.4,225.1 534,214.4 534.9,222.8 534.8,217.8 535.5,222.6 535.3,215.5 535.7,218.1 535.9,215.6 536.5,219.9 536.6,217.5 537.2,222.5 537.4,221.2 537.6,219.5 537.8,217.5 538,216.4 538.4,217.6 538.9,220.6 539,218 539.4,218.6 539.6,217.2 539.9,217 540,214.5 539.9,209.4 540.9,219.5 541.2,219.4 541.1,213 542.2,224.9 541.6,212 542.5,221 542.6,217.8 542.9,218 543.4,221.4 543.7,220.4 543.7,216.7 543.7,212.1 544,211.4 544.6,217.2 545.3,222.9 545.4,219.9 545.5,216.1 545.9,217.5 546.2,219 546.8,223.2 546.4,212.8 547.1,219 547.3,217 547.3,212.7 547.6,211.5 548.5,221 548.5,217 548.7,214.7 549,216 549.6,219.6 549.6,215.8 550.3,222.1 550.1,214.3 550.3,212 550.8,214.8 550.8,211.3 551.3,213.7 552,220.2 552.4,222.1 552.4,217.6 552.6,215.7 552.6,211.1 552.9,210.6 553.5,216.3 553.8,215.4 553.9,212.2 554.2,212.8 555,221.1 555.2,218.6 555.2,214.7 555.6,215.4 556.1,219.7 556.2,215.8 556.5,215.3 556.3,207.7 556.6,207.1 556.8,206.2 557.1,204.7 557.9,214 558.2,215.4 558.3,210.3 558.9,215.7 559.2,215.7 559.3,213.5 559.3,207.6 560.3,219.7 560.6,219.4 560.4,211.2 561.3,221.7 561.1,213.7 561.3,210.2 561.6,211.7 561.6,205.6 562.2,211.9 562.3,206.6 563.2,218 563.3,214.5 563.2,207.4 563.9,215.5 563.7,205.9 564.4,213.7 564.8,215 565,213.2 565,208.2 565.6,212.4 565.8,212 566.2,213 566.8,218.9 567.1,219.8 567.4,219.2 567.2,209.9 567.5,209.4 568,212.6 568.4,214.3 568.1,203.8 568.7,209.8 569.5,219.8 569.2,207.1 569.6,209.1 569.9,209.2 570.4,214.2 570.6,211.8 570.9,210.7 570.9,205.7 571.7,214.5 571.8,211.9 572,209.1 572.4,211.9 572.9,215.1 572.7,205.6 573,205.2 573.4,207.4 573.7,208 573.6,198.8 574.4,209 575,216.2 575,210.1 575.6,215.7 575.1,199.3 576,210.9 576.6,217.1 576.9,217.8 576.8,209.1 577,207.7 577.5,212.7 577.5,206 578,209.5 578,204 578.7,211.3 579,210.9 579.6,217.7 579.6,212.3 579.7,208 580.1,210.4 580.2,205.3 580.7,210.8 581,209.8 581.4,212.4 581.8,214.5 581.5,202.1 582.3,211.9 582.7,213.6 582.6,205.4 583.5,218.4 583.3,207.3 584.2,220.6 584.2,213.6 584.5,214.3 584.7,211.3 585.1,214.4 585,205.8 585.4,206.7 585.4,201.8 586.2,212.3 586.3,207 586.8,213.1 587.1,212.4 587.1,204.2 587.7,212.8 587.9,210.9 588.2,210.6 588.6,211.7 588.8,209.6 589.1,209.7 589.5,214.1 589.5,205.4 589.8,204.5 590.1,206.3 590.7,213.8 590.8,208.1 591.5,217.5 591,196.4 591.6,206.4 592,207.5 592.4,210.4 592.9,214.9 592.9,208.5 593.1,204.9 593.7,212.7 594.1,215.7 593.8,198.4 594.5,211.5 594.8,210.3 594.9,205.5 595.3,207 595.7,210.2 595.9,209 596.2,207.9 596.4,204 596.9,210 597,206 597.4,209.1 597.6,206.3 598.1,209.6 598.4,211.8 598.7,209.7 599,211.4 599,202.8 599.6,210.5 599.9,209.8 600,205.9 600.4,207.8 600.4,196.7 601,208.8 601.3,206.7 601.3,198.9 602,210.5 602.1,205.7 602.5,209.5 602.8,207.3 603.2,210.3 603.4,208.6 603.7,207 604.1,210.3 604.4,211.7 604.3,198.6 604.9,208.2 605.1,205.6 605.4,203.4 606,213.5 606.2,212 606.3,203.6 606.6,203.3 607.1,211.4 607.2,205.3 607.5,206.5 607.7,199.6 608.2,207.3 608.6,212.6 608.7,205.9 609.1,207.3 609.6,215.1 609.8,211.4 610.1,213.7 610.4,210.3 610.7,212.7 610.7,200.6 611.1,204.2 611.3,200.6 612,216.9 612.1,208.3 612.4,207 612.6,204.3 612.9,203.2 613,195.7 613.8,216.8 613.9,207 614.2,207.6 614.3,201.4 614.8,207.1 615.1,208.9 615.4,206.9 615.7,209.9 615.9,203.7 616.3,208.6 616.7,210.9 616.9,209.5 617.2,208.8 617.5,206.7 617.7,203 618.1,209.4 618.3,205.4 618.6,203.1 619,210.2 619.1,200.3 619.5,204.7 619.9,210.2 620.2,210.9 620.4,205.4 620.8,207.2 621.1,209.2 621.3,206.6 621.6,203.6 622,208.7 622.3,207.5 622.6,207.2 622.9,211.5 623.2,208.1 623.4,204.8 623.8,207.4 624.2,214.9 624.3,203.7 624.6,205.6 624.9,203.3 625.3,208.1 625.5,201.3 625.9,208.5 626.2,209.8 626.4,203.3 626.7,203 626.9,200.3 627.3,206.7 627.6,201.8 627.9,203.9 628.2,204.7 628.5,203.6 628.9,210 629.2,213.2 629.3,197.5 629.7,203 630.1,207.5 630.3,202 630.6,204.2 631,207.3 631.3,212.2 631.6,211.3 631.8,205.1 632.1,206.9 632.4,204.8 632.7,205.6 633,201.4 633.3,198.9 633.6,204.8 634,210.4 634.3,209.5 634.4,198.5 634.8,205.5 635.1,203.6 635.5,207.5 635.7,201.6 636.1,210.1 636.3,205.4 636.7,208.6 637,209.9 637.1,198 637.5,205.3 637.9,212.5 638.1,206.3 638.5,210.5 638.8,207.9 639,204.1 639.3,207.3 639.7,210.5 640,211.5 640.3,212.2 640.5,201.5 640.9,209.6 641.1,200.3 641.4,205.5 641.7,205.2 642.1,208.7 642.3,207.4 642.7,211.3 642.9,203.5 643.3,209.6 643.6,207.7 643.8,206 644.1,201 644.5,208.4 644.7,207.3 645.1,209.3 645.3,205.8 645.6,204.9 645.9,207.6 646.3,207.9 646.6,208.8 646.9,213.9 647.1,203.3 647.5,214.3 647.6,193.5 648.1,209.9 648.3,202.4 648.7,214.3 648.9,202.1 649.3,210.3 649.5,201.7 649.8,201.1 650.2,209.2 650.5,209.5 650.7,202.9 651.1,215.9 651.3,204.5 651.7,212.3 651.9,201.5 652.2,201.7 652.5,206.1 652.8,201.5 653.1,207.7 653.4,196.7 653.7,206.5 654,203.4 654.3,201.7 654.6,206.6 654.9,204.8 655.2,203.8 655.6,209.1 655.8,206.9 656.1,207.3 656.5,211.2 656.7,205.4 657.1,209.2 657.3,203.9 657.6,208.2 657.9,207.8 658.2,203.3 658.5,199.3 658.8,200.3 659.1,201.7 659.4,207.9 659.7,205 660,204.3 660.3,207.6 660.7,208.6 661,211.4 661.2,203.1 661.5,207.9 661.8,208.5 662.1,201.6 662.4,206.1 662.7,201.7 663,204.6 663.3,207.3 663.6,198.4 663.9,201.9 664.2,202.1 664.5,205.9 664.8,202.4 665.1,207.1 665.4,201.9 665.7,203.3 666,208 666.3,206.8 666.6,206.1 666.9,205.3 667.2,209.7 667.6,211.2 667.8,203.9 668.1,202.4 668.4,201.1 668.8,212.7 669,201.7 669.3,199.9 669.6,206.5 669.9,209.8 670.2,200.3 670.5,204.9 670.8,199.4 671.1,202.5 671.5,212.2 671.7,206.1 672,204.3 672.3,205.7 672.6,206.6 672.9,205 673.2,200.4 673.5,200.5 673.9,213.8 674.1,202.2 674.4,210.4 674.7,202.4 675,210.8 675.3,208.3 675.6,204.5 675.9,213.8 676.2,201.5 676.5,204.4 676.8,201.8 677.1,202.1 677.4,203.9 677.7,201.4 678,204 678.3,212 678.6,198.1 678.9,200.1 679.2,201.4 679.5,203.4 679.8,209.6 680.1,208.4 680.4,207.4" fill="none" stroke="#ff1010" stroke-width="1.35" stroke-linejoin="round" stroke-linecap="round" opacity="1.0" />
</g>
<rect x="500.6" y="192.7" width="179.9" height="143.4" fill="none" stroke="#959595" stroke-width="1.3"/>
<line x1="500.6" y1="207.1" x2="500.6" y2="207.1" stroke="#a0a0a0" stroke-width="0.8"/>
<text x="496.4" y="210" font-size="8.0" text-anchor="end" fill="#1e1e1e">0</text>
<line x1="500.6" y1="235.9" x2="505.6" y2="235.9" stroke="#a0a0a0" stroke-width="0.8"/>
<text x="496.4" y="238.8" font-size="8.0" text-anchor="end" fill="#1e1e1e"><tspan font-size="6.4">&#8722;</tspan>2</text>
<line x1="500.6" y1="264.7" x2="505.6" y2="264.7" stroke="#a0a0a0" stroke-width="0.8"/>
<text x="496.4" y="267.6" font-size="8.0" text-anchor="end" fill="#1e1e1e"><tspan font-size="6.4">&#8722;</tspan>4</text>
<line x1="500.6" y1="293.5" x2="505.6" y2="293.5" stroke="#a0a0a0" stroke-width="0.8"/>
<text x="496.4" y="296.4" font-size="8.0" text-anchor="end" fill="#1e1e1e"><tspan font-size="6.4">&#8722;</tspan>6</text>
<line x1="500.6" y1="322.3" x2="505.6" y2="322.3" stroke="#a0a0a0" stroke-width="0.8"/>
<text x="496.4" y="325.2" font-size="8.0" text-anchor="end" fill="#1e1e1e"><tspan font-size="6.4">&#8722;</tspan>8</text>
<line x1="500.6" y1="336.1" x2="500.6" y2="336.1" stroke="#a0a0a0" stroke-width="0.8"/>
<text x="500.6" y="346.4" font-size="8.0" text-anchor="middle" fill="#1e1e1e">0</text>
<line x1="530.6" y1="336.1" x2="530.6" y2="331.1" stroke="#a0a0a0" stroke-width="0.8"/>
<text x="530.6" y="346.4" font-size="8.0" text-anchor="middle" fill="#1e1e1e">5</text>
<line x1="560.6" y1="336.1" x2="560.6" y2="331.1" stroke="#a0a0a0" stroke-width="0.8"/>
<text x="560.6" y="346.4" font-size="8.0" text-anchor="middle" fill="#1e1e1e">10</text>
<line x1="590.6" y1="336.1" x2="590.6" y2="331.1" stroke="#a0a0a0" stroke-width="0.8"/>
<text x="590.6" y="346.4" font-size="8.0" text-anchor="middle" fill="#1e1e1e">15</text>
<line x1="620.5" y1="336.1" x2="620.5" y2="331.1" stroke="#a0a0a0" stroke-width="0.8"/>
<text x="620.5" y="346.4" font-size="8.0" text-anchor="middle" fill="#1e1e1e">20</text>
<line x1="650.5" y1="336.1" x2="650.5" y2="331.1" stroke="#a0a0a0" stroke-width="0.8"/>
<text x="650.5" y="346.4" font-size="8.0" text-anchor="middle" fill="#1e1e1e">25</text>
<line x1="680.5" y1="336.1" x2="680.5" y2="336.1" stroke="#a0a0a0" stroke-width="0.8"/>
<text x="680.5" y="346.4" font-size="8.0" text-anchor="middle" fill="#1e1e1e">30</text>
<text x="590.6" y="360.6" font-size="8.7" text-anchor="middle" font-weight="normal" fill="#1e1e1e" ><tspan font-style="italic">B</tspan> (mT)</text>
<text transform="translate(478,261.5) rotate(-90)" font-size="8.7" text-anchor="middle" fill="#1e1e1e"><tspan font-style="italic">ρ</tspan><tspan font-size="6.2" dy="2.2" font-style="italic">xy</tspan><tspan font-size="6.2" dx="-6.2" dy="-6.4">even</tspan><tspan dy="4.2"> (×10</tspan><tspan font-size="5.6" dy="-3">−2</tspan><tspan dy="3"> μΩ m)</tspan></text>
<text x="624.7" y="263.2" font-size="8.7" text-anchor="start" font-weight="normal" fill="#1e1e1e" ><tspan font-style="italic">p</tspan> = 24.0 kbar</text>
<line x1="627.8" y1="272.1" x2="634.4" y2="272.1" stroke="#ff1010" stroke-width="1.3"/>
<text x="637.8" y="275.1" font-size="8.7" text-anchor="start" font-weight="normal" fill="#1e1e1e" >1 K</text>
<line x1="627.8" y1="285.1" x2="634.4" y2="285.1" stroke="#f28c3a" stroke-width="1.3"/>
<text x="637.8" y="288.1" font-size="8.7" text-anchor="start" font-weight="normal" fill="#1e1e1e" >0.75 K</text>
<line x1="627.8" y1="298" x2="634.4" y2="298" stroke="#b5a22a" stroke-width="1.3"/>
<text x="637.8" y="301" font-size="8.7" text-anchor="start" font-weight="normal" fill="#1e1e1e" >0.58 K</text>
<line x1="627.8" y1="311" x2="634.4" y2="311" stroke="#16901a" stroke-width="1.3"/>
<text x="637.8" y="314" font-size="8.7" text-anchor="start" font-weight="normal" fill="#1e1e1e" >0.45 K</text>
<line x1="627.8" y1="323.8" x2="634.4" y2="323.8" stroke="#1a1aff" stroke-width="1.3"/>
<text x="637.8" y="326.8" font-size="8.7" text-anchor="start" font-weight="normal" fill="#1e1e1e" >0.30 K</text>
</svg></body></html>
